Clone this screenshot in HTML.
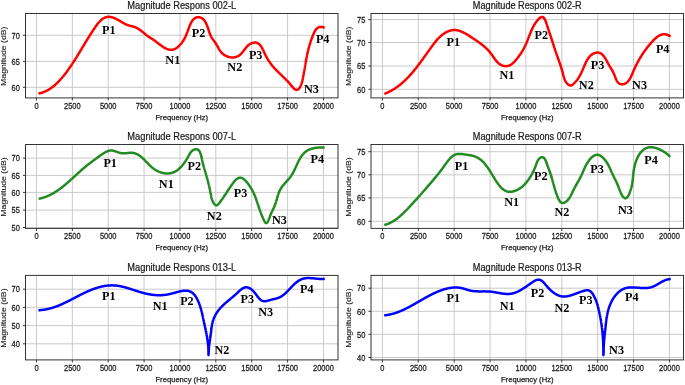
<!DOCTYPE html><html><head><meta charset="utf-8"><style>html,body{margin:0;padding:0;background:#fff;}svg{display:block;will-change:transform;}</style></head><body>
<style>.tk{font-family:"Liberation Sans",sans-serif;font-size:8.6px;fill:#1a1a1a;stroke:#1a1a1a;stroke-width:0.25px;}.ti{font-family:"Liberation Sans",sans-serif;font-size:10.0px;fill:#1a1a1a;stroke:#1a1a1a;stroke-width:0.22px;}.xl{font-family:"Liberation Sans",sans-serif;font-size:8.0px;fill:#1a1a1a;stroke:#1a1a1a;stroke-width:0.25px;}.yl{font-family:"Liberation Sans",sans-serif;font-size:7.6px;fill:#1a1a1a;stroke:#1a1a1a;stroke-width:0.1px;}.lb{font-family:"Liberation Serif",serif;font-weight:bold;font-size:12.2px;fill:#000;}</style>
<svg xmlns="http://www.w3.org/2000/svg" width="685" height="385" viewBox="0 0 685 385">
<rect width="685" height="385" fill="#ffffff"/>
<path d="M36.45,13.50V97.90 M72.33,13.50V97.90 M108.20,13.50V97.90 M144.07,13.50V97.90 M179.95,13.50V97.90 M215.82,13.50V97.90 M251.70,13.50V97.90 M287.57,13.50V97.90 M323.45,13.50V97.90 M25.50,87.30H338.00 M25.50,61.40H338.00 M25.50,35.30H338.00" stroke="#c4c4c4" stroke-width="0.9" fill="none"/>
<clipPath id="c0"><rect x="25.50" y="13.50" width="312.50" height="84.40"/></clipPath>
<path d="M39.75,93.30 L40.06,93.23 L40.37,93.15 L40.68,93.07 L40.99,92.98 L41.29,92.90 L41.60,92.81 L41.90,92.71 L42.21,92.61 L42.51,92.51 L42.81,92.41 L43.10,92.30 L43.40,92.19 L43.70,92.08 L43.99,91.96 L44.28,91.85 L44.57,91.72 L44.86,91.60 L45.15,91.47 L45.44,91.34 L45.73,91.21 L46.01,91.07 L46.29,90.93 L46.58,90.79 L46.86,90.65 L47.14,90.50 L47.42,90.35 L47.69,90.20 L47.97,90.04 L48.24,89.89 L48.52,89.73 L48.79,89.56 L49.06,89.40 L49.33,89.23 L49.60,89.06 L49.86,88.89 L50.13,88.72 L50.39,88.54 L50.66,88.36 L50.92,88.18 L51.18,88.00 L51.44,87.81 L51.70,87.63 L51.95,87.44 L52.21,87.25 L52.46,87.05 L52.72,86.86 L52.97,86.66 L53.22,86.46 L53.47,86.26 L53.72,86.06 L53.97,85.85 L54.22,85.64 L54.46,85.44 L54.71,85.23 L54.95,85.01 L55.19,84.80 L55.43,84.59 L55.67,84.37 L55.91,84.15 L56.15,83.93 L56.39,83.71 L56.62,83.49 L56.86,83.26 L57.09,83.04 L57.33,82.81 L57.56,82.58 L57.79,82.35 L58.02,82.12 L58.25,81.89 L58.47,81.65 L58.70,81.42 L58.93,81.18 L59.15,80.95 L59.37,80.71 L59.60,80.47 L59.82,80.23 L60.04,79.99 L60.26,79.75 L60.48,79.50 L60.69,79.26 L60.91,79.01 L61.13,78.77 L61.34,78.52 L61.55,78.28 L61.77,78.03 L61.98,77.78 L62.19,77.53 L62.40,77.28 L62.61,77.03 L62.82,76.78 L63.03,76.53 L63.23,76.27 L63.44,76.02 L63.64,75.77 L63.85,75.51 L64.05,75.26 L64.25,75.00 L64.45,74.75 L64.65,74.49 L64.85,74.24 L65.05,73.98 L65.25,73.73 L65.45,73.47 L65.64,73.22 L65.84,72.96 L66.03,72.70 L66.23,72.45 L66.42,72.19 L66.61,71.93 L66.80,71.68 L66.99,71.42 L67.18,71.16 L67.37,70.90 L67.56,70.65 L67.75,70.39 L67.94,70.13 L68.12,69.88 L68.31,69.62 L68.49,69.36 L68.68,69.10 L68.86,68.84 L69.05,68.59 L69.23,68.33 L69.41,68.07 L69.59,67.81 L69.77,67.55 L69.95,67.29 L70.13,67.03 L70.31,66.77 L70.49,66.52 L70.67,66.26 L70.84,66.00 L71.02,65.74 L71.19,65.48 L71.37,65.22 L71.55,64.96 L71.72,64.70 L71.89,64.44 L72.07,64.18 L72.24,63.92 L72.41,63.65 L72.59,63.39 L72.76,63.13 L72.93,62.87 L73.10,62.61 L73.27,62.35 L73.44,62.09 L73.61,61.83 L73.78,61.56 L73.95,61.30 L74.11,61.04 L74.28,60.78 L74.45,60.52 L74.62,60.25 L74.78,59.99 L74.95,59.73 L75.12,59.46 L75.28,59.20 L75.45,58.94 L75.61,58.67 L75.78,58.41 L75.95,58.15 L76.11,57.88 L76.27,57.62 L76.44,57.35 L76.60,57.09 L76.77,56.83 L76.93,56.56 L77.09,56.30 L77.26,56.03 L77.42,55.77 L77.58,55.50 L77.74,55.23 L77.91,54.97 L78.07,54.70 L78.23,54.44 L78.39,54.17 L78.56,53.90 L78.72,53.64 L78.88,53.37 L79.04,53.10 L79.20,52.84 L79.36,52.57 L79.53,52.30 L79.69,52.03 L79.85,51.77 L80.01,51.50 L80.17,51.23 L80.33,50.96 L80.49,50.69 L80.66,50.42 L80.82,50.15 L80.98,49.89 L81.14,49.62 L81.30,49.35 L81.46,49.08 L81.62,48.81 L81.79,48.54 L81.95,48.27 L82.11,48.00 L82.27,47.73 L82.43,47.46 L82.60,47.18 L82.76,46.91 L82.92,46.64 L83.08,46.37 L83.25,46.10 L83.41,45.83 L83.57,45.55 L83.74,45.28 L83.90,45.01 L84.06,44.74 L84.23,44.46 L84.39,44.19 L84.56,43.92 L84.72,43.64 L84.89,43.37 L85.05,43.10 L85.22,42.82 L85.38,42.55 L85.55,42.27 L85.72,42.00 L85.88,41.72 L86.05,41.45 L86.22,41.17 L86.39,40.90 L86.55,40.62 L86.72,40.34 L86.89,40.07 L87.06,39.79 L87.23,39.52 L87.40,39.24 L87.57,38.96 L87.74,38.68 L87.91,38.41 L88.09,38.13 L88.26,37.85 L88.43,37.57 L88.60,37.29 L88.78,37.01 L88.95,36.74 L89.13,36.46 L89.30,36.18 L89.48,35.90 L89.65,35.62 L89.83,35.34 L90.01,35.06 L90.19,34.78 L90.37,34.50 L90.54,34.21 L90.72,33.93 L90.90,33.65 L91.09,33.37 L91.27,33.09 L91.45,32.81 L91.63,32.52 L91.82,32.24 L92.00,31.96 L92.18,31.67 L92.37,31.39 L92.56,31.11 L92.74,30.82 L92.93,30.54 L93.12,30.26 L93.31,29.97 L93.50,29.69 L93.69,29.40 L93.88,29.12 L94.07,28.83 L94.26,28.54 L94.46,28.26 L94.65,27.97 L94.85,27.69 L95.04,27.40 L95.24,27.12 L95.44,26.84 L95.64,26.55 L95.84,26.27 L96.04,25.99 L96.24,25.71 L96.44,25.44 L96.65,25.16 L96.85,24.89 L97.06,24.62 L97.27,24.35 L97.48,24.08 L97.69,23.82 L97.90,23.56 L98.11,23.30 L98.32,23.04 L98.54,22.79 L98.76,22.54 L98.97,22.29 L99.19,22.05 L99.41,21.81 L99.64,21.57 L99.86,21.34 L100.09,21.11 L100.31,20.89 L100.54,20.67 L100.77,20.45 L101.00,20.24 L101.24,20.03 L101.47,19.83 L101.71,19.64 L101.95,19.45 L102.19,19.26 L102.43,19.08 L102.67,18.91 L102.92,18.74 L103.16,18.58 L103.41,18.42 L103.66,18.28 L103.92,18.13 L104.17,18.00 L104.43,17.87 L104.69,17.74 L104.95,17.63 L105.21,17.52 L105.48,17.42 L105.74,17.32 L106.01,17.24 L106.29,17.16 L106.56,17.09 L106.83,17.03 L107.11,16.97 L107.39,16.92 L107.68,16.89 L107.96,16.86 L108.25,16.84 L108.54,16.83 L108.83,16.83 L109.12,16.83 L109.42,16.85 L109.72,16.87 L110.02,16.91 L110.32,16.95 L110.62,17.00 L110.93,17.05 L111.24,17.12 L111.54,17.19 L111.85,17.26 L112.16,17.35 L112.47,17.44 L112.77,17.53 L113.08,17.63 L113.39,17.74 L113.70,17.85 L114.01,17.97 L114.31,18.09 L114.62,18.22 L114.92,18.34 L115.23,18.48 L115.53,18.61 L115.83,18.75 L116.12,18.90 L116.42,19.04 L116.71,19.19 L117.01,19.34 L117.30,19.49 L117.58,19.65 L117.87,19.80 L118.15,19.96 L118.44,20.12 L118.72,20.28 L119.00,20.44 L119.28,20.60 L119.56,20.76 L119.83,20.92 L120.11,21.09 L120.38,21.25 L120.66,21.41 L120.93,21.58 L121.20,21.74 L121.47,21.90 L121.75,22.06 L122.02,22.23 L122.29,22.39 L122.56,22.54 L122.83,22.70 L123.11,22.86 L123.38,23.01 L123.65,23.17 L123.92,23.32 L124.20,23.47 L124.47,23.61 L124.75,23.76 L125.03,23.90 L125.30,24.04 L125.58,24.17 L125.86,24.31 L126.14,24.43 L126.43,24.56 L126.71,24.68 L127.00,24.80 L127.28,24.92 L127.57,25.03 L127.87,25.13 L128.16,25.23 L128.46,25.33 L128.75,25.42 L129.05,25.51 L129.35,25.60 L129.66,25.69 L129.96,25.77 L130.26,25.85 L130.57,25.93 L130.88,26.01 L131.18,26.08 L131.49,26.16 L131.80,26.24 L132.11,26.32 L132.41,26.40 L132.72,26.48 L133.03,26.56 L133.33,26.65 L133.64,26.74 L133.94,26.83 L134.25,26.93 L134.55,27.02 L134.85,27.13 L135.15,27.24 L135.45,27.35 L135.74,27.47 L136.04,27.60 L136.33,27.73 L136.62,27.87 L136.91,28.01 L137.19,28.16 L137.48,28.31 L137.76,28.47 L138.04,28.63 L138.32,28.80 L138.60,28.97 L138.87,29.15 L139.15,29.33 L139.42,29.51 L139.69,29.70 L139.96,29.89 L140.23,30.08 L140.50,30.28 L140.76,30.48 L141.03,30.68 L141.29,30.88 L141.55,31.09 L141.81,31.29 L142.07,31.50 L142.33,31.71 L142.59,31.92 L142.85,32.13 L143.10,32.34 L143.36,32.55 L143.61,32.76 L143.86,32.97 L144.12,33.19 L144.37,33.40 L144.62,33.61 L144.87,33.81 L145.12,34.02 L145.37,34.23 L145.62,34.43 L145.87,34.63 L146.11,34.83 L146.36,35.03 L146.61,35.23 L146.86,35.42 L147.10,35.61 L147.35,35.80 L147.60,35.98 L147.84,36.16 L148.09,36.34 L148.34,36.51 L148.58,36.68 L148.83,36.84 L149.08,37.01 L149.32,37.17 L149.57,37.33 L149.82,37.49 L150.06,37.65 L150.31,37.80 L150.56,37.96 L150.81,38.12 L151.06,38.27 L151.31,38.43 L151.56,38.59 L151.81,38.74 L152.06,38.90 L152.32,39.06 L152.57,39.23 L152.83,39.39 L153.08,39.56 L153.34,39.73 L153.59,39.90 L153.85,40.08 L154.11,40.25 L154.37,40.44 L154.64,40.62 L154.90,40.81 L155.16,41.01 L155.43,41.20 L155.69,41.40 L155.96,41.60 L156.23,41.81 L156.50,42.01 L156.77,42.22 L157.04,42.43 L157.31,42.64 L157.58,42.85 L157.86,43.06 L158.13,43.27 L158.40,43.48 L158.68,43.69 L158.96,43.91 L159.23,44.12 L159.51,44.33 L159.79,44.54 L160.07,44.75 L160.35,44.96 L160.63,45.17 L160.91,45.38 L161.19,45.58 L161.47,45.78 L161.75,45.98 L162.04,46.18 L162.32,46.38 L162.60,46.57 L162.89,46.76 L163.17,46.94 L163.45,47.13 L163.74,47.30 L164.02,47.48 L164.31,47.65 L164.59,47.81 L164.88,47.97 L165.17,48.13 L165.45,48.28 L165.74,48.43 L166.02,48.57 L166.31,48.70 L166.60,48.83 L166.88,48.95 L167.17,49.06 L167.46,49.17 L167.74,49.27 L168.03,49.37 L168.31,49.46 L168.60,49.54 L168.89,49.61 L169.17,49.67 L169.46,49.73 L169.74,49.77 L170.03,49.81 L170.31,49.84 L170.60,49.86 L170.88,49.87 L171.17,49.87 L171.45,49.87 L171.73,49.85 L172.01,49.82 L172.30,49.78 L172.58,49.73 L172.86,49.67 L173.14,49.60 L173.42,49.52 L173.70,49.43 L173.98,49.33 L174.25,49.22 L174.53,49.10 L174.81,48.97 L175.08,48.83 L175.35,48.69 L175.62,48.54 L175.89,48.38 L176.16,48.21 L176.43,48.04 L176.69,47.85 L176.95,47.67 L177.21,47.47 L177.47,47.27 L177.73,47.06 L177.98,46.85 L178.23,46.64 L178.48,46.41 L178.73,46.19 L178.97,45.96 L179.22,45.72 L179.45,45.48 L179.69,45.24 L179.92,44.99 L180.15,44.74 L180.38,44.49 L180.60,44.23 L180.82,43.98 L181.04,43.72 L181.25,43.46 L181.46,43.19 L181.67,42.93 L181.87,42.66 L182.07,42.40 L182.26,42.13 L182.45,41.87 L182.64,41.60 L182.82,41.33 L183.00,41.07 L183.17,40.80 L183.34,40.54 L183.50,40.27 L183.67,40.01 L183.83,39.74 L183.98,39.48 L184.13,39.21 L184.28,38.95 L184.43,38.68 L184.57,38.42 L184.71,38.15 L184.85,37.88 L184.98,37.61 L185.12,37.34 L185.25,37.07 L185.38,36.80 L185.50,36.53 L185.63,36.26 L185.75,35.98 L185.87,35.71 L185.99,35.43 L186.11,35.15 L186.23,34.87 L186.35,34.59 L186.46,34.31 L186.58,34.02 L186.69,33.74 L186.81,33.45 L186.92,33.16 L187.03,32.86 L187.15,32.57 L187.26,32.27 L187.37,31.97 L187.48,31.67 L187.60,31.37 L187.71,31.06 L187.83,30.75 L187.94,30.44 L188.06,30.13 L188.17,29.81 L188.29,29.49 L188.41,29.17 L188.53,28.84 L188.65,28.51 L188.78,28.18 L188.90,27.85 L189.03,27.51 L189.16,27.17 L189.29,26.84 L189.42,26.50 L189.56,26.16 L189.70,25.82 L189.84,25.49 L189.98,25.15 L190.12,24.81 L190.27,24.48 L190.42,24.15 L190.57,23.83 L190.73,23.50 L190.89,23.18 L191.05,22.86 L191.22,22.55 L191.38,22.25 L191.56,21.94 L191.73,21.65 L191.91,21.36 L192.10,21.07 L192.28,20.80 L192.47,20.53 L192.67,20.27 L192.87,20.01 L193.07,19.77 L193.28,19.53 L193.49,19.30 L193.71,19.09 L193.93,18.88 L194.16,18.69 L194.39,18.50 L194.62,18.33 L194.86,18.16 L195.11,18.01 L195.36,17.88 L195.62,17.75 L195.88,17.64 L196.15,17.54 L196.42,17.46 L196.69,17.39 L196.97,17.33 L197.25,17.28 L197.53,17.24 L197.81,17.22 L198.09,17.21 L198.38,17.21 L198.66,17.22 L198.95,17.24 L199.23,17.28 L199.51,17.32 L199.79,17.38 L200.07,17.44 L200.34,17.52 L200.62,17.61 L200.88,17.70 L201.15,17.81 L201.40,17.93 L201.66,18.06 L201.90,18.19 L202.14,18.34 L202.38,18.50 L202.61,18.66 L202.83,18.83 L203.05,19.02 L203.26,19.21 L203.47,19.41 L203.67,19.61 L203.86,19.83 L204.06,20.05 L204.24,20.28 L204.43,20.51 L204.60,20.75 L204.78,21.00 L204.95,21.26 L205.11,21.52 L205.28,21.79 L205.43,22.06 L205.59,22.34 L205.74,22.62 L205.89,22.91 L206.03,23.20 L206.18,23.50 L206.31,23.80 L206.45,24.11 L206.58,24.42 L206.72,24.73 L206.85,25.04 L206.97,25.36 L207.10,25.69 L207.22,26.01 L207.34,26.34 L207.46,26.67 L207.58,27.00 L207.70,27.33 L207.82,27.67 L207.93,28.00 L208.05,28.34 L208.16,28.68 L208.27,29.02 L208.39,29.36 L208.50,29.70 L208.61,30.04 L208.73,30.38 L208.84,30.71 L208.95,31.05 L209.07,31.39 L209.18,31.73 L209.30,32.06 L209.41,32.39 L209.53,32.72 L209.65,33.05 L209.77,33.38 L209.89,33.70 L210.02,34.02 L210.14,34.34 L210.27,34.66 L210.40,34.97 L210.53,35.28 L210.66,35.58 L210.80,35.88 L210.94,36.18 L211.08,36.47 L211.22,36.75 L211.37,37.04 L211.52,37.31 L211.67,37.58 L211.83,37.85 L211.99,38.11 L212.16,38.36 L212.32,38.61 L212.49,38.86 L212.66,39.11 L212.83,39.35 L213.01,39.59 L213.18,39.83 L213.36,40.06 L213.54,40.30 L213.72,40.53 L213.90,40.77 L214.07,41.00 L214.25,41.23 L214.43,41.47 L214.61,41.71 L214.79,41.95 L214.96,42.19 L215.14,42.44 L215.31,42.69 L215.48,42.94 L215.65,43.19 L215.82,43.45 L215.98,43.72 L216.15,43.99 L216.31,44.26 L216.47,44.53 L216.63,44.81 L216.79,45.09 L216.95,45.37 L217.11,45.66 L217.26,45.95 L217.42,46.23 L217.58,46.52 L217.74,46.81 L217.90,47.10 L218.06,47.39 L218.22,47.68 L218.38,47.97 L218.55,48.26 L218.71,48.55 L218.88,48.84 L219.05,49.13 L219.23,49.41 L219.40,49.69 L219.58,49.98 L219.76,50.25 L219.94,50.53 L220.13,50.80 L220.32,51.07 L220.52,51.34 L220.72,51.60 L220.92,51.85 L221.13,52.11 L221.34,52.35 L221.56,52.60 L221.78,52.84 L222.01,53.07 L222.25,53.29 L222.48,53.52 L222.73,53.73 L222.97,53.94 L223.22,54.15 L223.48,54.34 L223.74,54.54 L224.00,54.72 L224.27,54.91 L224.54,55.08 L224.81,55.25 L225.09,55.41 L225.37,55.57 L225.66,55.72 L225.94,55.87 L226.23,56.01 L226.52,56.14 L226.82,56.27 L227.11,56.39 L227.41,56.50 L227.71,56.61 L228.01,56.71 L228.31,56.81 L228.62,56.90 L228.92,56.98 L229.23,57.05 L229.54,57.12 L229.85,57.19 L230.16,57.24 L230.47,57.29 L230.78,57.33 L231.09,57.37 L231.40,57.40 L231.71,57.42 L232.02,57.43 L232.33,57.44 L232.64,57.44 L232.94,57.43 L233.25,57.42 L233.56,57.40 L233.86,57.37 L234.17,57.33 L234.47,57.29 L234.77,57.24 L235.07,57.18 L235.37,57.12 L235.66,57.04 L235.95,56.96 L236.25,56.88 L236.53,56.78 L236.82,56.68 L237.10,56.57 L237.38,56.45 L237.66,56.32 L237.93,56.19 L238.20,56.05 L238.46,55.90 L238.72,55.74 L238.98,55.57 L239.24,55.40 L239.49,55.22 L239.73,55.03 L239.97,54.83 L240.21,54.63 L240.44,54.41 L240.68,54.20 L240.90,53.97 L241.13,53.74 L241.35,53.51 L241.57,53.27 L241.79,53.02 L242.00,52.78 L242.22,52.52 L242.43,52.27 L242.64,52.01 L242.85,51.74 L243.06,51.48 L243.27,51.21 L243.48,50.94 L243.68,50.67 L243.89,50.40 L244.10,50.13 L244.30,49.86 L244.51,49.58 L244.72,49.31 L244.93,49.04 L245.14,48.77 L245.35,48.50 L245.56,48.23 L245.78,47.97 L245.99,47.70 L246.21,47.44 L246.43,47.18 L246.66,46.93 L246.88,46.68 L247.11,46.43 L247.34,46.19 L247.58,45.96 L247.82,45.73 L248.06,45.50 L248.31,45.28 L248.56,45.07 L248.82,44.86 L249.08,44.66 L249.34,44.47 L249.61,44.29 L249.89,44.11 L250.17,43.94 L250.45,43.78 L250.74,43.63 L251.04,43.49 L251.34,43.36 L251.64,43.24 L251.94,43.12 L252.25,43.02 L252.56,42.93 L252.86,42.85 L253.17,42.77 L253.48,42.71 L253.79,42.66 L254.09,42.62 L254.40,42.60 L254.70,42.58 L255.00,42.57 L255.29,42.58 L255.59,42.60 L255.87,42.63 L256.16,42.67 L256.43,42.73 L256.70,42.80 L256.97,42.88 L257.22,42.97 L257.48,43.08 L257.73,43.20 L257.97,43.32 L258.20,43.46 L258.44,43.61 L258.66,43.77 L258.89,43.94 L259.10,44.12 L259.32,44.31 L259.53,44.50 L259.73,44.71 L259.93,44.92 L260.13,45.15 L260.32,45.38 L260.51,45.61 L260.70,45.86 L260.88,46.11 L261.06,46.36 L261.23,46.63 L261.41,46.89 L261.58,47.17 L261.75,47.45 L261.91,47.73 L262.08,48.02 L262.24,48.31 L262.40,48.61 L262.55,48.91 L262.71,49.21 L262.86,49.52 L263.02,49.82 L263.17,50.13 L263.32,50.45 L263.47,50.76 L263.62,51.08 L263.76,51.39 L263.91,51.71 L264.06,52.03 L264.20,52.34 L264.35,52.66 L264.50,52.98 L264.64,53.29 L264.79,53.60 L264.94,53.92 L265.08,54.23 L265.23,54.53 L265.38,54.84 L265.53,55.14 L265.68,55.45 L265.83,55.74 L265.99,56.04 L266.14,56.34 L266.29,56.63 L266.45,56.92 L266.60,57.21 L266.76,57.50 L266.92,57.78 L267.08,58.07 L267.23,58.35 L267.40,58.63 L267.56,58.91 L267.72,59.18 L267.88,59.46 L268.05,59.73 L268.21,60.00 L268.38,60.27 L268.55,60.54 L268.71,60.80 L268.88,61.06 L269.06,61.33 L269.23,61.59 L269.40,61.85 L269.58,62.10 L269.75,62.36 L269.93,62.61 L270.11,62.87 L270.29,63.12 L270.47,63.37 L270.65,63.62 L270.84,63.86 L271.02,64.11 L271.21,64.35 L271.40,64.60 L271.58,64.84 L271.78,65.08 L271.97,65.32 L272.16,65.56 L272.36,65.79 L272.55,66.03 L272.75,66.26 L272.95,66.50 L273.15,66.73 L273.35,66.96 L273.56,67.19 L273.76,67.42 L273.97,67.65 L274.17,67.88 L274.38,68.10 L274.59,68.33 L274.80,68.56 L275.01,68.78 L275.23,69.00 L275.44,69.23 L275.65,69.45 L275.87,69.67 L276.09,69.90 L276.30,70.12 L276.52,70.34 L276.74,70.56 L276.96,70.78 L277.18,71.00 L277.40,71.22 L277.62,71.44 L277.85,71.66 L278.07,71.88 L278.29,72.10 L278.52,72.32 L278.74,72.54 L278.97,72.75 L279.20,72.97 L279.43,73.19 L279.65,73.41 L279.88,73.63 L280.11,73.85 L280.34,74.07 L280.57,74.29 L280.80,74.51 L281.03,74.73 L281.26,74.95 L281.49,75.18 L281.72,75.40 L281.95,75.62 L282.19,75.84 L282.42,76.07 L282.65,76.29 L282.88,76.52 L283.11,76.74 L283.35,76.97 L283.58,77.20 L283.81,77.42 L284.05,77.65 L284.28,77.88 L284.51,78.11 L284.74,78.35 L284.98,78.58 L285.21,78.81 L285.44,79.05 L285.67,79.28 L285.90,79.52 L286.14,79.76 L286.37,80.00 L286.60,80.24 L286.83,80.48 L287.06,80.73 L287.29,80.97 L287.52,81.22 L287.75,81.47 L287.98,81.72 L288.21,81.97 L288.43,82.22 L288.66,82.47 L288.89,82.73 L289.12,82.99 L289.34,83.25 L289.57,83.51 L289.79,83.77 L290.02,84.03 L290.24,84.30 L290.46,84.57 L290.68,84.84 L290.90,85.11 L291.12,85.38 L291.34,85.64 L291.56,85.91 L291.78,86.17 L292.00,86.43 L292.22,86.69 L292.43,86.94 L292.65,87.18 L292.87,87.42 L293.08,87.65 L293.29,87.88 L293.51,88.09 L293.72,88.30 L293.93,88.50 L294.14,88.69 L294.36,88.87 L294.57,89.03 L294.78,89.19 L294.99,89.33 L295.20,89.45 L295.40,89.56 L295.61,89.66 L295.82,89.74 L296.03,89.81 L296.23,89.86 L296.44,89.89 L296.65,89.90 L296.85,89.89 L297.05,89.87 L297.26,89.82 L297.46,89.75 L297.67,89.66 L297.87,89.54 L298.07,89.41 L298.27,89.25 L298.47,89.07 L298.67,88.87 L298.87,88.65 L299.07,88.41 L299.26,88.16 L299.45,87.89 L299.63,87.61 L299.81,87.33 L299.99,87.03 L300.16,86.72 L300.33,86.41 L300.49,86.10 L300.64,85.79 L300.79,85.47 L300.93,85.15 L301.06,84.83 L301.19,84.51 L301.31,84.18 L301.43,83.86 L301.54,83.53 L301.65,83.20 L301.75,82.87 L301.85,82.55 L301.95,82.21 L302.04,81.88 L302.13,81.55 L302.21,81.22 L302.29,80.89 L302.37,80.55 L302.45,80.22 L302.52,79.89 L302.59,79.55 L302.66,79.22 L302.73,78.88 L302.79,78.55 L302.86,78.22 L302.92,77.88 L302.99,77.55 L303.05,77.22 L303.12,76.89 L303.18,76.56 L303.24,76.23 L303.30,75.90 L303.36,75.57 L303.42,75.24 L303.49,74.91 L303.55,74.58 L303.61,74.25 L303.67,73.92 L303.72,73.60 L303.78,73.27 L303.84,72.94 L303.90,72.62 L303.96,72.29 L304.02,71.97 L304.07,71.64 L304.13,71.32 L304.19,70.99 L304.24,70.67 L304.30,70.35 L304.36,70.02 L304.41,69.70 L304.47,69.38 L304.53,69.06 L304.58,68.74 L304.64,68.42 L304.69,68.10 L304.75,67.78 L304.80,67.46 L304.86,67.14 L304.91,66.82 L304.97,66.50 L305.02,66.18 L305.08,65.87 L305.14,65.55 L305.19,65.23 L305.25,64.91 L305.30,64.60 L305.36,64.28 L305.41,63.97 L305.47,63.65 L305.52,63.34 L305.58,63.02 L305.64,62.71 L305.69,62.39 L305.75,62.08 L305.80,61.77 L305.86,61.45 L305.92,61.14 L305.98,60.83 L306.03,60.51 L306.09,60.20 L306.15,59.89 L306.21,59.58 L306.26,59.27 L306.32,58.96 L306.38,58.65 L306.44,58.34 L306.50,58.03 L306.56,57.72 L306.62,57.41 L306.68,57.10 L306.74,56.79 L306.81,56.48 L306.87,56.17 L306.93,55.86 L306.99,55.55 L307.06,55.25 L307.12,54.94 L307.18,54.63 L307.25,54.32 L307.31,54.02 L307.38,53.71 L307.45,53.40 L307.51,53.10 L307.58,52.79 L307.65,52.49 L307.72,52.18 L307.79,51.87 L307.86,51.57 L307.93,51.26 L308.00,50.96 L308.07,50.65 L308.15,50.35 L308.22,50.05 L308.29,49.74 L308.37,49.44 L308.44,49.13 L308.52,48.83 L308.60,48.53 L308.68,48.22 L308.75,47.92 L308.83,47.62 L308.91,47.31 L309.00,47.01 L309.08,46.71 L309.16,46.40 L309.24,46.10 L309.33,45.80 L309.41,45.50 L309.50,45.19 L309.59,44.89 L309.68,44.59 L309.77,44.29 L309.86,43.99 L309.95,43.69 L310.04,43.38 L310.13,43.08 L310.23,42.78 L310.32,42.48 L310.42,42.18 L310.52,41.88 L310.62,41.58 L310.72,41.27 L310.82,40.97 L310.92,40.67 L311.02,40.37 L311.13,40.07 L311.23,39.77 L311.34,39.47 L311.45,39.17 L311.56,38.87 L311.67,38.57 L311.78,38.27 L311.89,37.97 L312.01,37.67 L312.12,37.37 L312.24,37.07 L312.36,36.77 L312.48,36.47 L312.60,36.16 L312.72,35.86 L312.84,35.56 L312.97,35.26 L313.09,34.96 L313.22,34.66 L313.35,34.36 L313.48,34.06 L313.61,33.76 L313.75,33.46 L313.88,33.16 L314.02,32.86 L314.16,32.57 L314.30,32.28 L314.45,31.98 L314.59,31.70 L314.75,31.41 L314.90,31.13 L315.06,30.86 L315.22,30.59 L315.39,30.32 L315.56,30.07 L315.74,29.82 L315.92,29.57 L316.10,29.34 L316.30,29.11 L316.49,28.89 L316.70,28.68 L316.91,28.47 L317.12,28.28 L317.34,28.10 L317.57,27.93 L317.81,27.77 L318.05,27.62 L318.30,27.49 L318.56,27.37 L318.82,27.26 L319.10,27.16 L319.38,27.08 L319.67,27.02 L319.97,26.97 L320.28,26.93 L320.59,26.91 L320.92,26.91 L321.26,26.93 L321.61,26.96 L321.96,27.01 L322.33,27.08 L322.71,27.17 L323.10,27.28 L323.50,27.40" stroke="#ff0000" stroke-width="2.5" fill="none" stroke-linecap="square" stroke-linejoin="round" clip-path="url(#c0)"/>
<rect x="25.50" y="13.50" width="312.50" height="84.40" fill="none" stroke="#333333" stroke-width="1.0"/>
<path d="M36.45,97.90v2.6 M72.33,97.90v2.6 M108.20,97.90v2.6 M144.07,97.90v2.6 M179.95,97.90v2.6 M215.82,97.90v2.6 M251.70,97.90v2.6 M287.57,97.90v2.6 M323.45,97.90v2.6 M25.50,87.30h-2.6 M25.50,61.40h-2.6 M25.50,35.30h-2.6" stroke="#262626" stroke-width="0.9" fill="none"/>
<text transform="translate(36.45,108.70) scale(0.87,1)" class="tk" text-anchor="middle">0</text>
<text transform="translate(72.33,108.70) scale(0.87,1)" class="tk" text-anchor="middle">2500</text>
<text transform="translate(108.20,108.70) scale(0.87,1)" class="tk" text-anchor="middle">5000</text>
<text transform="translate(144.07,108.70) scale(0.87,1)" class="tk" text-anchor="middle">7500</text>
<text transform="translate(179.95,108.70) scale(0.87,1)" class="tk" text-anchor="middle">10000</text>
<text transform="translate(215.82,108.70) scale(0.87,1)" class="tk" text-anchor="middle">12500</text>
<text transform="translate(251.70,108.70) scale(0.87,1)" class="tk" text-anchor="middle">15000</text>
<text transform="translate(287.57,108.70) scale(0.87,1)" class="tk" text-anchor="middle">17500</text>
<text transform="translate(323.45,108.70) scale(0.87,1)" class="tk" text-anchor="middle">20000</text>
<text transform="translate(19.90,90.50) scale(0.87,1)" class="tk" text-anchor="end">60</text>
<text transform="translate(19.90,64.60) scale(0.87,1)" class="tk" text-anchor="end">65</text>
<text transform="translate(19.90,38.50) scale(0.87,1)" class="tk" text-anchor="end">70</text>
<text x="181.75" y="8.80" class="ti" text-anchor="middle" textLength="108.80" lengthAdjust="spacingAndGlyphs">Magnitude Respons 002-L</text>
<text x="181.75" y="119.70" class="xl" text-anchor="middle" textLength="52.60" lengthAdjust="spacingAndGlyphs">Frequency (Hz)</text>
<text transform="translate(5.90,56.20) rotate(-90)" class="yl" text-anchor="middle" textLength="59.40" lengthAdjust="spacingAndGlyphs">Magnitude (dB)</text>
<text x="108.75" y="33.90" class="lb" text-anchor="middle">P1</text>
<text x="172.80" y="63.90" class="lb" text-anchor="middle">N1</text>
<text x="198.60" y="36.90" class="lb" text-anchor="middle">P2</text>
<text x="234.80" y="70.80" class="lb" text-anchor="middle">N2</text>
<text x="255.70" y="59.10" class="lb" text-anchor="middle">P3</text>
<text x="311.40" y="92.80" class="lb" text-anchor="middle">N3</text>
<text x="322.70" y="43.00" class="lb" text-anchor="middle">P4</text>
<path d="M382.40,13.50V97.90 M418.28,13.50V97.90 M454.16,13.50V97.90 M490.04,13.50V97.90 M525.92,13.50V97.90 M561.81,13.50V97.90 M597.69,13.50V97.90 M633.57,13.50V97.90 M669.45,13.50V97.90 M371.00,89.30H683.50 M371.00,66.00H683.50 M371.00,42.50H683.50 M371.00,19.60H683.50" stroke="#c4c4c4" stroke-width="0.9" fill="none"/>
<clipPath id="c1"><rect x="371.00" y="13.50" width="312.50" height="84.40"/></clipPath>
<path d="M385.44,93.46 L385.75,93.33 L386.06,93.20 L386.37,93.06 L386.68,92.93 L386.98,92.79 L387.29,92.65 L387.59,92.51 L387.90,92.37 L388.20,92.23 L388.50,92.09 L388.79,91.94 L389.09,91.79 L389.39,91.65 L389.68,91.49 L389.98,91.34 L390.27,91.19 L390.56,91.03 L390.85,90.88 L391.14,90.72 L391.43,90.56 L391.71,90.40 L392.00,90.24 L392.28,90.07 L392.56,89.91 L392.85,89.74 L393.13,89.57 L393.41,89.40 L393.68,89.23 L393.96,89.06 L394.24,88.89 L394.51,88.71 L394.79,88.54 L395.06,88.36 L395.33,88.18 L395.60,88.00 L395.87,87.82 L396.14,87.63 L396.41,87.45 L396.67,87.26 L396.94,87.08 L397.20,86.89 L397.47,86.70 L397.73,86.51 L397.99,86.32 L398.25,86.12 L398.51,85.93 L398.77,85.73 L399.02,85.54 L399.28,85.34 L399.54,85.14 L399.79,84.94 L400.04,84.74 L400.30,84.53 L400.55,84.33 L400.80,84.12 L401.05,83.92 L401.30,83.71 L401.55,83.50 L401.79,83.29 L402.04,83.08 L402.28,82.87 L402.53,82.66 L402.77,82.44 L403.01,82.23 L403.26,82.01 L403.50,81.79 L403.74,81.58 L403.98,81.36 L404.22,81.14 L404.45,80.91 L404.69,80.69 L404.93,80.47 L405.16,80.24 L405.40,80.02 L405.63,79.79 L405.86,79.57 L406.09,79.34 L406.33,79.11 L406.56,78.88 L406.79,78.65 L407.02,78.42 L407.24,78.18 L407.47,77.95 L407.70,77.72 L407.93,77.48 L408.15,77.25 L408.38,77.01 L408.60,76.77 L408.83,76.53 L409.05,76.29 L409.27,76.05 L409.49,75.81 L409.71,75.57 L409.93,75.33 L410.15,75.08 L410.37,74.84 L410.59,74.60 L410.81,74.35 L411.03,74.10 L411.24,73.86 L411.46,73.61 L411.68,73.36 L411.89,73.11 L412.11,72.86 L412.32,72.61 L412.53,72.36 L412.75,72.11 L412.96,71.86 L413.17,71.60 L413.38,71.35 L413.59,71.10 L413.80,70.84 L414.01,70.59 L414.22,70.33 L414.43,70.07 L414.64,69.82 L414.85,69.56 L415.06,69.30 L415.26,69.04 L415.47,68.78 L415.68,68.52 L415.88,68.26 L416.09,68.00 L416.29,67.74 L416.50,67.48 L416.70,67.22 L416.90,66.96 L417.11,66.69 L417.31,66.43 L417.51,66.17 L417.72,65.90 L417.92,65.64 L418.12,65.37 L418.32,65.11 L418.52,64.84 L418.72,64.57 L418.92,64.31 L419.12,64.04 L419.32,63.77 L419.52,63.50 L419.72,63.24 L419.92,62.97 L420.12,62.70 L420.32,62.43 L420.52,62.16 L420.72,61.89 L420.91,61.62 L421.11,61.35 L421.31,61.08 L421.51,60.81 L421.70,60.54 L421.90,60.27 L422.10,60.00 L422.29,59.73 L422.49,59.46 L422.68,59.18 L422.88,58.91 L423.08,58.64 L423.27,58.37 L423.47,58.10 L423.66,57.82 L423.86,57.55 L424.05,57.28 L424.25,57.01 L424.44,56.73 L424.64,56.46 L424.83,56.19 L425.03,55.91 L425.22,55.64 L425.42,55.37 L425.61,55.09 L425.80,54.82 L426.00,54.55 L426.19,54.27 L426.39,54.00 L426.58,53.73 L426.78,53.45 L426.97,53.18 L427.16,52.91 L427.36,52.64 L427.55,52.36 L427.75,52.09 L427.94,51.82 L428.14,51.54 L428.33,51.27 L428.53,51.00 L428.72,50.73 L428.91,50.45 L429.11,50.18 L429.30,49.91 L429.50,49.64 L429.69,49.37 L429.89,49.09 L430.09,48.82 L430.28,48.55 L430.48,48.28 L430.67,48.01 L430.87,47.74 L431.06,47.47 L431.26,47.20 L431.46,46.93 L431.65,46.66 L431.85,46.39 L432.05,46.12 L432.24,45.85 L432.44,45.59 L432.64,45.32 L432.84,45.05 L433.04,44.78 L433.24,44.52 L433.44,44.25 L433.64,43.99 L433.84,43.73 L434.04,43.46 L434.25,43.20 L434.45,42.94 L434.65,42.68 L434.86,42.42 L435.07,42.17 L435.27,41.91 L435.48,41.65 L435.69,41.40 L435.90,41.15 L436.11,40.90 L436.32,40.65 L436.54,40.40 L436.75,40.15 L436.97,39.90 L437.18,39.66 L437.40,39.42 L437.62,39.18 L437.84,38.94 L438.07,38.70 L438.29,38.46 L438.52,38.23 L438.74,38.00 L438.97,37.77 L439.20,37.54 L439.43,37.31 L439.67,37.09 L439.90,36.87 L440.14,36.65 L440.38,36.43 L440.62,36.21 L440.86,36.00 L441.11,35.79 L441.36,35.58 L441.60,35.37 L441.86,35.17 L442.11,34.97 L442.36,34.77 L442.62,34.57 L442.88,34.38 L443.14,34.19 L443.41,34.00 L443.67,33.82 L443.94,33.63 L444.21,33.45 L444.49,33.28 L444.76,33.10 L445.04,32.94 L445.32,32.77 L445.60,32.61 L445.88,32.45 L446.17,32.29 L446.45,32.14 L446.74,32.00 L447.03,31.85 L447.32,31.72 L447.62,31.58 L447.91,31.45 L448.20,31.33 L448.50,31.21 L448.80,31.09 L449.10,30.98 L449.40,30.88 L449.70,30.78 L450.00,30.69 L450.31,30.60 L450.61,30.52 L450.91,30.44 L451.22,30.37 L451.53,30.30 L451.83,30.25 L452.14,30.19 L452.45,30.15 L452.76,30.11 L453.06,30.07 L453.37,30.05 L453.68,30.03 L453.99,30.02 L454.30,30.01 L454.61,30.01 L454.92,30.02 L455.23,30.04 L455.54,30.06 L455.85,30.09 L456.15,30.12 L456.46,30.16 L456.77,30.21 L457.08,30.26 L457.39,30.32 L457.70,30.39 L458.01,30.46 L458.32,30.53 L458.62,30.62 L458.93,30.70 L459.24,30.79 L459.55,30.89 L459.86,30.99 L460.16,31.10 L460.47,31.21 L460.78,31.32 L461.08,31.44 L461.39,31.57 L461.70,31.70 L462.00,31.83 L462.31,31.96 L462.61,32.10 L462.92,32.25 L463.22,32.39 L463.52,32.54 L463.83,32.69 L464.13,32.85 L464.43,33.01 L464.74,33.17 L465.04,33.33 L465.34,33.50 L465.64,33.67 L465.94,33.84 L466.24,34.01 L466.54,34.19 L466.84,34.37 L467.13,34.55 L467.43,34.73 L467.73,34.91 L468.02,35.09 L468.32,35.28 L468.61,35.46 L468.91,35.65 L469.20,35.84 L469.49,36.03 L469.78,36.21 L470.07,36.40 L470.36,36.59 L470.65,36.78 L470.94,36.97 L471.23,37.16 L471.52,37.35 L471.80,37.54 L472.09,37.73 L472.37,37.92 L472.66,38.11 L472.94,38.29 L473.22,38.48 L473.50,38.67 L473.78,38.85 L474.06,39.04 L474.34,39.22 L474.62,39.41 L474.89,39.59 L475.17,39.78 L475.44,39.96 L475.72,40.15 L475.99,40.33 L476.26,40.51 L476.53,40.70 L476.80,40.88 L477.07,41.07 L477.34,41.25 L477.60,41.44 L477.87,41.62 L478.14,41.81 L478.40,41.99 L478.66,42.18 L478.92,42.37 L479.19,42.55 L479.45,42.74 L479.71,42.93 L479.96,43.12 L480.22,43.30 L480.48,43.49 L480.73,43.68 L480.99,43.88 L481.24,44.07 L481.49,44.26 L481.74,44.45 L481.99,44.65 L482.24,44.84 L482.49,45.04 L482.73,45.24 L482.98,45.44 L483.22,45.64 L483.47,45.84 L483.71,46.04 L483.95,46.24 L484.19,46.45 L484.43,46.65 L484.67,46.86 L484.91,47.07 L485.14,47.28 L485.38,47.49 L485.61,47.70 L485.84,47.92 L486.07,48.14 L486.30,48.35 L486.53,48.57 L486.76,48.79 L486.99,49.02 L487.21,49.24 L487.44,49.47 L487.66,49.70 L487.88,49.93 L488.10,50.16 L488.32,50.40 L488.54,50.63 L488.76,50.87 L488.98,51.11 L489.19,51.36 L489.40,51.60 L489.62,51.85 L489.83,52.10 L490.04,52.35 L490.25,52.61 L490.46,52.87 L490.66,53.13 L490.87,53.39 L491.07,53.65 L491.27,53.92 L491.48,54.19 L491.68,54.47 L491.88,54.74 L492.07,55.02 L492.27,55.30 L492.47,55.58 L492.66,55.86 L492.86,56.15 L493.06,56.43 L493.25,56.72 L493.45,57.01 L493.65,57.29 L493.84,57.58 L494.04,57.87 L494.24,58.15 L494.44,58.44 L494.64,58.72 L494.84,59.00 L495.04,59.28 L495.25,59.56 L495.45,59.84 L495.66,60.11 L495.87,60.38 L496.09,60.65 L496.30,60.91 L496.52,61.17 L496.74,61.43 L496.96,61.69 L497.19,61.93 L497.42,62.18 L497.65,62.42 L497.89,62.65 L498.13,62.88 L498.37,63.11 L498.62,63.32 L498.87,63.54 L499.13,63.74 L499.39,63.94 L499.66,64.13 L499.93,64.32 L500.20,64.49 L500.49,64.66 L500.77,64.82 L501.06,64.98 L501.36,65.12 L501.66,65.26 L501.97,65.38 L502.28,65.50 L502.60,65.61 L502.92,65.71 L503.24,65.80 L503.57,65.88 L503.90,65.95 L504.23,66.01 L504.56,66.06 L504.89,66.10 L505.22,66.13 L505.55,66.15 L505.88,66.16 L506.21,66.15 L506.53,66.14 L506.86,66.11 L507.18,66.08 L507.50,66.03 L507.81,65.97 L508.12,65.90 L508.42,65.81 L508.73,65.72 L509.02,65.61 L509.32,65.50 L509.61,65.37 L509.89,65.23 L510.17,65.09 L510.45,64.94 L510.73,64.77 L511.00,64.60 L511.27,64.42 L511.53,64.24 L511.79,64.05 L512.05,63.85 L512.31,63.64 L512.56,63.43 L512.81,63.21 L513.06,62.99 L513.30,62.76 L513.55,62.53 L513.79,62.29 L514.02,62.05 L514.26,61.81 L514.49,61.56 L514.72,61.31 L514.95,61.06 L515.17,60.81 L515.40,60.55 L515.62,60.30 L515.84,60.04 L516.06,59.78 L516.28,59.52 L516.49,59.26 L516.70,59.00 L516.92,58.75 L517.13,58.48 L517.34,58.22 L517.54,57.96 L517.75,57.70 L517.95,57.44 L518.15,57.18 L518.35,56.91 L518.55,56.65 L518.75,56.38 L518.95,56.12 L519.14,55.85 L519.33,55.58 L519.52,55.32 L519.71,55.05 L519.90,54.78 L520.09,54.51 L520.27,54.24 L520.46,53.97 L520.64,53.70 L520.82,53.43 L521.00,53.15 L521.17,52.88 L521.35,52.61 L521.52,52.33 L521.70,52.06 L521.87,51.78 L522.04,51.50 L522.21,51.22 L522.37,50.94 L522.54,50.67 L522.70,50.38 L522.87,50.10 L523.03,49.82 L523.19,49.54 L523.35,49.26 L523.50,48.97 L523.66,48.69 L523.81,48.40 L523.97,48.11 L524.12,47.82 L524.27,47.54 L524.42,47.25 L524.56,46.95 L524.71,46.66 L524.86,46.37 L525.00,46.08 L525.14,45.78 L525.28,45.49 L525.42,45.19 L525.56,44.89 L525.70,44.60 L525.83,44.30 L525.97,44.00 L526.10,43.69 L526.23,43.39 L526.37,43.09 L526.50,42.79 L526.62,42.48 L526.75,42.18 L526.88,41.87 L527.01,41.56 L527.13,41.25 L527.26,40.95 L527.38,40.64 L527.50,40.33 L527.63,40.02 L527.75,39.71 L527.87,39.40 L527.99,39.08 L528.11,38.77 L528.24,38.46 L528.36,38.15 L528.48,37.84 L528.60,37.52 L528.72,37.21 L528.84,36.90 L528.96,36.58 L529.08,36.27 L529.20,35.96 L529.32,35.65 L529.44,35.33 L529.57,35.02 L529.69,34.71 L529.81,34.39 L529.93,34.08 L530.06,33.77 L530.18,33.46 L530.31,33.15 L530.43,32.84 L530.56,32.53 L530.69,32.22 L530.82,31.91 L530.95,31.60 L531.08,31.29 L531.21,30.98 L531.34,30.68 L531.48,30.37 L531.61,30.06 L531.75,29.76 L531.89,29.46 L532.03,29.15 L532.17,28.85 L532.31,28.55 L532.46,28.25 L532.60,27.95 L532.75,27.65 L532.90,27.36 L533.05,27.06 L533.21,26.76 L533.36,26.47 L533.52,26.18 L533.68,25.89 L533.84,25.60 L534.00,25.31 L534.17,25.03 L534.34,24.74 L534.51,24.46 L534.68,24.17 L534.86,23.89 L535.04,23.62 L535.22,23.34 L535.40,23.06 L535.59,22.79 L535.77,22.52 L535.97,22.25 L536.16,21.98 L536.36,21.71 L536.56,21.45 L536.76,21.19 L536.97,20.93 L537.18,20.67 L537.39,20.41 L537.61,20.16 L537.83,19.91 L538.05,19.66 L538.28,19.41 L538.51,19.17 L538.74,18.94 L538.97,18.71 L539.21,18.49 L539.44,18.28 L539.68,18.08 L539.92,17.89 L540.16,17.72 L540.39,17.56 L540.63,17.42 L540.87,17.29 L541.11,17.18 L541.34,17.09 L541.57,17.03 L541.80,16.98 L542.03,16.96 L542.26,16.96 L542.48,16.99 L542.70,17.04 L542.92,17.12 L543.13,17.23 L543.33,17.37 L543.54,17.54 L543.73,17.74 L543.93,17.96 L544.12,18.21 L544.31,18.48 L544.49,18.77 L544.67,19.08 L544.84,19.40 L545.01,19.74 L545.18,20.10 L545.34,20.47 L545.50,20.85 L545.66,21.24 L545.81,21.63 L545.96,22.04 L546.10,22.44 L546.25,22.85 L546.39,23.26 L546.52,23.68 L546.66,24.08 L546.79,24.49 L546.91,24.89 L547.04,25.29 L547.16,25.67 L547.28,26.05 L547.40,26.41 L547.51,26.77 L547.63,27.11 L547.74,27.45 L547.84,27.78 L547.95,28.10 L548.05,28.41 L548.16,28.72 L548.26,29.02 L548.36,29.31 L548.46,29.60 L548.56,29.89 L548.65,30.17 L548.75,30.46 L548.84,30.73 L548.94,31.01 L549.03,31.29 L549.13,31.56 L549.22,31.84 L549.32,32.11 L549.41,32.39 L549.51,32.67 L549.60,32.95 L549.70,33.24 L549.79,33.52 L549.89,33.81 L549.99,34.10 L550.08,34.38 L550.18,34.68 L550.28,34.97 L550.37,35.26 L550.47,35.56 L550.57,35.85 L550.67,36.15 L550.76,36.45 L550.86,36.75 L550.96,37.05 L551.06,37.35 L551.16,37.66 L551.26,37.96 L551.36,38.27 L551.46,38.58 L551.56,38.88 L551.66,39.19 L551.76,39.50 L551.86,39.81 L551.96,40.13 L552.06,40.44 L552.16,40.75 L552.26,41.07 L552.36,41.38 L552.47,41.70 L552.57,42.01 L552.67,42.33 L552.77,42.65 L552.88,42.97 L552.98,43.29 L553.08,43.61 L553.18,43.93 L553.29,44.25 L553.39,44.57 L553.49,44.89 L553.60,45.21 L553.70,45.53 L553.81,45.85 L553.91,46.18 L554.02,46.50 L554.12,46.82 L554.23,47.14 L554.33,47.47 L554.44,47.79 L554.54,48.11 L554.65,48.44 L554.75,48.76 L554.86,49.08 L554.97,49.41 L555.07,49.73 L555.18,50.05 L555.29,50.38 L555.39,50.70 L555.50,51.02 L555.61,51.34 L555.72,51.67 L555.82,51.99 L555.93,52.31 L556.04,52.63 L556.15,52.95 L556.26,53.27 L556.36,53.59 L556.47,53.91 L556.58,54.23 L556.69,54.54 L556.80,54.86 L556.91,55.18 L557.02,55.49 L557.13,55.81 L557.24,56.12 L557.35,56.44 L557.46,56.75 L557.57,57.06 L557.68,57.37 L557.79,57.68 L557.90,57.99 L558.01,58.30 L558.12,58.61 L558.23,58.92 L558.34,59.23 L558.45,59.53 L558.56,59.84 L558.67,60.14 L558.78,60.45 L558.89,60.76 L559.00,61.06 L559.10,61.36 L559.21,61.67 L559.32,61.97 L559.43,62.28 L559.54,62.58 L559.65,62.89 L559.75,63.19 L559.86,63.49 L559.96,63.80 L560.07,64.10 L560.18,64.40 L560.28,64.71 L560.38,65.01 L560.49,65.32 L560.59,65.62 L560.69,65.93 L560.79,66.23 L560.89,66.54 L561.00,66.84 L561.09,67.15 L561.19,67.46 L561.29,67.77 L561.39,68.07 L561.48,68.38 L561.58,68.69 L561.67,69.00 L561.77,69.31 L561.86,69.63 L561.95,69.94 L562.04,70.25 L562.13,70.57 L562.22,70.88 L562.30,71.20 L562.39,71.52 L562.48,71.83 L562.56,72.15 L562.64,72.47 L562.72,72.80 L562.80,73.12 L562.88,73.44 L562.96,73.77 L563.04,74.09 L563.12,74.42 L563.20,74.75 L563.28,75.08 L563.36,75.40 L563.44,75.73 L563.53,76.06 L563.62,76.39 L563.71,76.72 L563.81,77.05 L563.90,77.37 L564.01,77.70 L564.12,78.03 L564.23,78.35 L564.35,78.68 L564.47,79.00 L564.60,79.33 L564.74,79.65 L564.88,79.97 L565.03,80.29 L565.19,80.61 L565.36,80.92 L565.53,81.24 L565.72,81.55 L565.91,81.86 L566.11,82.17 L566.32,82.47 L566.54,82.76 L566.76,83.04 L566.99,83.32 L567.23,83.58 L567.47,83.84 L567.72,84.08 L567.97,84.30 L568.22,84.51 L568.48,84.70 L568.74,84.88 L569.01,85.03 L569.28,85.17 L569.55,85.28 L569.82,85.36 L570.09,85.43 L570.37,85.46 L570.64,85.47 L570.92,85.45 L571.19,85.40 L571.46,85.32 L571.73,85.21 L572.00,85.07 L572.27,84.91 L572.53,84.73 L572.79,84.53 L573.05,84.32 L573.31,84.10 L573.56,83.88 L573.81,83.64 L574.05,83.41 L574.29,83.17 L574.53,82.94 L574.76,82.70 L574.99,82.46 L575.22,82.21 L575.44,81.97 L575.66,81.72 L575.87,81.47 L576.08,81.22 L576.29,80.97 L576.49,80.71 L576.69,80.46 L576.89,80.20 L577.09,79.94 L577.28,79.68 L577.47,79.42 L577.66,79.15 L577.84,78.89 L578.02,78.62 L578.20,78.35 L578.37,78.08 L578.55,77.81 L578.72,77.53 L578.89,77.25 L579.05,76.98 L579.22,76.70 L579.38,76.42 L579.54,76.14 L579.70,75.85 L579.86,75.57 L580.01,75.28 L580.17,74.99 L580.32,74.70 L580.47,74.41 L580.62,74.12 L580.76,73.83 L580.91,73.53 L581.06,73.24 L581.20,72.94 L581.34,72.64 L581.48,72.34 L581.62,72.04 L581.76,71.74 L581.90,71.44 L582.04,71.13 L582.18,70.83 L582.32,70.52 L582.45,70.21 L582.59,69.90 L582.72,69.59 L582.86,69.28 L582.99,68.97 L583.13,68.65 L583.27,68.34 L583.40,68.02 L583.54,67.71 L583.67,67.39 L583.81,67.07 L583.94,66.75 L584.08,66.43 L584.22,66.11 L584.35,65.79 L584.49,65.47 L584.63,65.15 L584.77,64.83 L584.91,64.51 L585.06,64.19 L585.20,63.87 L585.35,63.55 L585.49,63.24 L585.64,62.92 L585.79,62.61 L585.95,62.30 L586.10,61.99 L586.26,61.68 L586.41,61.37 L586.57,61.07 L586.74,60.76 L586.90,60.47 L587.07,60.17 L587.24,59.88 L587.41,59.58 L587.59,59.30 L587.77,59.01 L587.95,58.73 L588.14,58.46 L588.33,58.19 L588.52,57.92 L588.71,57.66 L588.91,57.40 L589.12,57.14 L589.32,56.89 L589.54,56.65 L589.75,56.41 L589.97,56.18 L590.19,55.95 L590.42,55.72 L590.65,55.51 L590.89,55.30 L591.13,55.09 L591.38,54.89 L591.63,54.70 L591.88,54.52 L592.14,54.34 L592.41,54.17 L592.68,54.01 L592.96,53.85 L593.24,53.70 L593.53,53.56 L593.82,53.43 L594.12,53.30 L594.43,53.19 L594.73,53.08 L595.04,52.98 L595.36,52.90 L595.67,52.82 L595.99,52.75 L596.31,52.70 L596.63,52.65 L596.94,52.62 L597.26,52.60 L597.58,52.59 L597.89,52.60 L598.21,52.62 L598.51,52.65 L598.82,52.70 L599.12,52.76 L599.42,52.83 L599.71,52.92 L599.99,53.03 L600.27,53.15 L600.55,53.29 L600.82,53.43 L601.08,53.60 L601.34,53.77 L601.60,53.95 L601.85,54.15 L602.10,54.36 L602.34,54.58 L602.58,54.80 L602.81,55.04 L603.04,55.29 L603.27,55.54 L603.49,55.81 L603.71,56.08 L603.92,56.36 L604.14,56.64 L604.34,56.93 L604.55,57.23 L604.75,57.53 L604.95,57.83 L605.15,58.14 L605.34,58.45 L605.53,58.77 L605.72,59.09 L605.90,59.41 L606.09,59.73 L606.27,60.06 L606.45,60.38 L606.62,60.70 L606.80,61.03 L606.97,61.35 L607.15,61.67 L607.32,61.99 L607.49,62.31 L607.65,62.62 L607.82,62.94 L607.98,63.24 L608.15,63.55 L608.31,63.84 L608.48,64.14 L608.64,64.43 L608.80,64.71 L608.96,64.99 L609.12,65.27 L609.28,65.54 L609.44,65.81 L609.60,66.07 L609.75,66.34 L609.91,66.60 L610.07,66.85 L610.22,67.11 L610.38,67.37 L610.53,67.62 L610.68,67.87 L610.84,68.13 L610.99,68.38 L611.14,68.63 L611.29,68.88 L611.44,69.14 L611.59,69.39 L611.74,69.65 L611.89,69.91 L612.04,70.16 L612.19,70.43 L612.34,70.69 L612.48,70.95 L612.63,71.22 L612.78,71.50 L612.92,71.77 L613.07,72.05 L613.21,72.34 L613.35,72.63 L613.50,72.92 L613.64,73.22 L613.78,73.53 L613.93,73.84 L614.07,74.15 L614.21,74.48 L614.35,74.80 L614.49,75.14 L614.63,75.49 L614.77,75.84 L614.91,76.19 L615.05,76.56 L615.20,76.93 L615.34,77.30 L615.48,77.67 L615.63,78.04 L615.78,78.41 L615.93,78.78 L616.08,79.15 L616.24,79.51 L616.40,79.87 L616.57,80.21 L616.74,80.55 L616.92,80.88 L617.10,81.20 L617.29,81.51 L617.48,81.80 L617.68,82.08 L617.89,82.34 L618.11,82.59 L618.33,82.81 L618.56,83.02 L618.80,83.21 L619.05,83.39 L619.30,83.55 L619.55,83.69 L619.81,83.82 L620.08,83.93 L620.35,84.02 L620.62,84.10 L620.90,84.17 L621.17,84.22 L621.46,84.25 L621.74,84.28 L622.02,84.29 L622.31,84.28 L622.59,84.26 L622.88,84.23 L623.16,84.19 L623.45,84.14 L623.73,84.07 L624.01,83.99 L624.29,83.90 L624.57,83.80 L624.84,83.69 L625.11,83.57 L625.38,83.44 L625.64,83.30 L625.90,83.15 L626.15,82.99 L626.39,82.82 L626.63,82.64 L626.87,82.46 L627.10,82.27 L627.32,82.06 L627.54,81.86 L627.75,81.64 L627.96,81.42 L628.16,81.19 L628.36,80.95 L628.55,80.71 L628.74,80.46 L628.93,80.21 L629.11,79.94 L629.29,79.68 L629.46,79.41 L629.63,79.13 L629.80,78.85 L629.97,78.57 L630.13,78.28 L630.29,77.99 L630.44,77.69 L630.60,77.39 L630.75,77.09 L630.90,76.78 L631.04,76.47 L631.19,76.16 L631.33,75.85 L631.48,75.53 L631.62,75.22 L631.76,74.90 L631.90,74.58 L632.04,74.26 L632.17,73.94 L632.31,73.61 L632.45,73.29 L632.59,72.97 L632.72,72.65 L632.86,72.33 L633.00,72.01 L633.14,71.69 L633.28,71.37 L633.42,71.05 L633.56,70.73 L633.70,70.41 L633.84,70.10 L633.98,69.78 L634.12,69.47 L634.26,69.16 L634.41,68.85 L634.55,68.53 L634.70,68.22 L634.84,67.91 L634.99,67.60 L635.13,67.30 L635.28,66.99 L635.43,66.68 L635.57,66.38 L635.72,66.07 L635.87,65.77 L636.02,65.47 L636.17,65.16 L636.32,64.86 L636.47,64.56 L636.63,64.26 L636.78,63.96 L636.93,63.66 L637.09,63.37 L637.24,63.07 L637.40,62.77 L637.55,62.48 L637.71,62.18 L637.87,61.89 L638.03,61.60 L638.19,61.30 L638.35,61.01 L638.51,60.72 L638.67,60.43 L638.83,60.14 L638.99,59.86 L639.15,59.57 L639.32,59.28 L639.48,58.99 L639.65,58.71 L639.81,58.43 L639.98,58.14 L640.15,57.86 L640.32,57.58 L640.49,57.29 L640.66,57.01 L640.83,56.73 L641.00,56.45 L641.17,56.18 L641.34,55.90 L641.52,55.62 L641.69,55.34 L641.87,55.07 L642.04,54.79 L642.22,54.52 L642.40,54.24 L642.58,53.97 L642.76,53.70 L642.94,53.43 L643.12,53.16 L643.30,52.89 L643.48,52.62 L643.67,52.35 L643.85,52.08 L644.04,51.81 L644.22,51.55 L644.41,51.28 L644.60,51.02 L644.79,50.75 L644.98,50.49 L645.17,50.22 L645.36,49.96 L645.55,49.70 L645.75,49.44 L645.94,49.18 L646.14,48.92 L646.33,48.66 L646.53,48.40 L646.73,48.14 L646.93,47.88 L647.13,47.63 L647.33,47.37 L647.53,47.11 L647.73,46.86 L647.94,46.61 L648.14,46.35 L648.35,46.10 L648.55,45.85 L648.76,45.59 L648.97,45.34 L649.18,45.09 L649.39,44.84 L649.60,44.59 L649.82,44.35 L650.03,44.10 L650.25,43.85 L650.46,43.60 L650.68,43.36 L650.90,43.11 L651.12,42.87 L651.34,42.62 L651.56,42.38 L651.78,42.13 L652.00,41.89 L652.23,41.65 L652.45,41.41 L652.68,41.17 L652.91,40.93 L653.14,40.69 L653.37,40.45 L653.60,40.21 L653.83,39.97 L654.06,39.74 L654.30,39.50 L654.53,39.27 L654.77,39.04 L655.01,38.81 L655.25,38.58 L655.49,38.36 L655.74,38.14 L655.98,37.92 L656.23,37.71 L656.48,37.50 L656.73,37.29 L656.98,37.09 L657.23,36.90 L657.49,36.70 L657.75,36.52 L658.01,36.34 L658.27,36.16 L658.54,35.99 L658.80,35.83 L659.07,35.67 L659.34,35.52 L659.62,35.38 L659.89,35.24 L660.17,35.12 L660.45,35.00 L660.74,34.88 L661.02,34.78 L661.31,34.68 L661.60,34.60 L661.90,34.52 L662.19,34.45 L662.49,34.39 L662.80,34.34 L663.10,34.30 L663.41,34.27 L663.72,34.26 L664.04,34.25 L664.36,34.25 L664.68,34.27 L665.00,34.29 L665.33,34.33 L665.66,34.38 L666.00,34.45 L666.34,34.52 L666.68,34.61 L667.03,34.72 L667.37,34.83 L667.73,34.96 L668.08,35.11 L668.45,35.26 L668.81,35.44 L669.18,35.62 L669.55,35.83" stroke="#ff0000" stroke-width="2.5" fill="none" stroke-linecap="square" stroke-linejoin="round" clip-path="url(#c1)"/>
<rect x="371.00" y="13.50" width="312.50" height="84.40" fill="none" stroke="#333333" stroke-width="1.0"/>
<path d="M382.40,97.90v2.6 M418.28,97.90v2.6 M454.16,97.90v2.6 M490.04,97.90v2.6 M525.92,97.90v2.6 M561.81,97.90v2.6 M597.69,97.90v2.6 M633.57,97.90v2.6 M669.45,97.90v2.6 M371.00,89.30h-2.6 M371.00,66.00h-2.6 M371.00,42.50h-2.6 M371.00,19.60h-2.6" stroke="#262626" stroke-width="0.9" fill="none"/>
<text transform="translate(382.40,108.70) scale(0.87,1)" class="tk" text-anchor="middle">0</text>
<text transform="translate(418.28,108.70) scale(0.87,1)" class="tk" text-anchor="middle">2500</text>
<text transform="translate(454.16,108.70) scale(0.87,1)" class="tk" text-anchor="middle">5000</text>
<text transform="translate(490.04,108.70) scale(0.87,1)" class="tk" text-anchor="middle">7500</text>
<text transform="translate(525.92,108.70) scale(0.87,1)" class="tk" text-anchor="middle">10000</text>
<text transform="translate(561.81,108.70) scale(0.87,1)" class="tk" text-anchor="middle">12500</text>
<text transform="translate(597.69,108.70) scale(0.87,1)" class="tk" text-anchor="middle">15000</text>
<text transform="translate(633.57,108.70) scale(0.87,1)" class="tk" text-anchor="middle">17500</text>
<text transform="translate(669.45,108.70) scale(0.87,1)" class="tk" text-anchor="middle">20000</text>
<text transform="translate(365.40,92.50) scale(0.87,1)" class="tk" text-anchor="end">60</text>
<text transform="translate(365.40,69.20) scale(0.87,1)" class="tk" text-anchor="end">65</text>
<text transform="translate(365.40,45.70) scale(0.87,1)" class="tk" text-anchor="end">70</text>
<text transform="translate(365.40,22.80) scale(0.87,1)" class="tk" text-anchor="end">75</text>
<text x="527.25" y="8.80" class="ti" text-anchor="middle" textLength="108.80" lengthAdjust="spacingAndGlyphs">Magnitude Respons 002-R</text>
<text x="527.25" y="119.70" class="xl" text-anchor="middle" textLength="52.60" lengthAdjust="spacingAndGlyphs">Frequency (Hz)</text>
<text transform="translate(351.40,56.20) rotate(-90)" class="yl" text-anchor="middle" textLength="59.40" lengthAdjust="spacingAndGlyphs">Magnitude (dB)</text>
<text x="453.25" y="45.50" class="lb" text-anchor="middle">P1</text>
<text x="507.00" y="79.10" class="lb" text-anchor="middle">N1</text>
<text x="541.30" y="38.80" class="lb" text-anchor="middle">P2</text>
<text x="586.30" y="89.10" class="lb" text-anchor="middle">N2</text>
<text x="597.50" y="69.30" class="lb" text-anchor="middle">P3</text>
<text x="639.55" y="89.10" class="lb" text-anchor="middle">N3</text>
<text x="662.70" y="53.00" class="lb" text-anchor="middle">P4</text>
<path d="M36.45,144.50V228.40 M72.33,144.50V228.40 M108.20,144.50V228.40 M144.07,144.50V228.40 M179.95,144.50V228.40 M215.82,144.50V228.40 M251.70,144.50V228.40 M287.57,144.50V228.40 M323.45,144.50V228.40 M25.50,227.50H338.00 M25.50,210.10H338.00 M25.50,192.40H338.00 M25.50,175.40H338.00 M25.50,158.10H338.00" stroke="#c4c4c4" stroke-width="0.9" fill="none"/>
<clipPath id="c2"><rect x="25.50" y="144.50" width="312.50" height="83.90"/></clipPath>
<path d="M39.75,198.62 L40.06,198.55 L40.38,198.48 L40.69,198.40 L41.00,198.32 L41.31,198.24 L41.62,198.16 L41.93,198.07 L42.23,197.99 L42.54,197.90 L42.84,197.80 L43.15,197.71 L43.45,197.61 L43.75,197.52 L44.05,197.42 L44.35,197.32 L44.65,197.21 L44.95,197.11 L45.25,197.00 L45.54,196.89 L45.84,196.78 L46.13,196.66 L46.43,196.55 L46.72,196.43 L47.01,196.31 L47.30,196.19 L47.59,196.07 L47.88,195.94 L48.17,195.81 L48.45,195.69 L48.74,195.56 L49.03,195.42 L49.31,195.29 L49.59,195.15 L49.88,195.02 L50.16,194.88 L50.44,194.74 L50.72,194.60 L51.00,194.45 L51.28,194.31 L51.56,194.16 L51.83,194.01 L52.11,193.86 L52.39,193.71 L52.66,193.56 L52.93,193.40 L53.21,193.25 L53.48,193.09 L53.75,192.93 L54.02,192.77 L54.30,192.61 L54.57,192.44 L54.83,192.28 L55.10,192.11 L55.37,191.95 L55.64,191.78 L55.90,191.61 L56.17,191.44 L56.44,191.26 L56.70,191.09 L56.96,190.91 L57.23,190.74 L57.49,190.56 L57.75,190.38 L58.01,190.20 L58.27,190.02 L58.53,189.84 L58.79,189.66 L59.05,189.47 L59.31,189.29 L59.57,189.10 L59.83,188.91 L60.08,188.72 L60.34,188.53 L60.60,188.34 L60.85,188.15 L61.11,187.96 L61.36,187.77 L61.61,187.57 L61.87,187.38 L62.12,187.18 L62.37,186.98 L62.62,186.78 L62.88,186.59 L63.13,186.39 L63.38,186.19 L63.63,185.98 L63.88,185.78 L64.13,185.58 L64.38,185.38 L64.62,185.17 L64.87,184.97 L65.12,184.76 L65.37,184.55 L65.61,184.35 L65.86,184.14 L66.11,183.93 L66.35,183.72 L66.60,183.51 L66.84,183.30 L67.09,183.09 L67.33,182.88 L67.58,182.67 L67.82,182.46 L68.06,182.25 L68.31,182.03 L68.55,181.82 L68.79,181.61 L69.03,181.39 L69.28,181.18 L69.52,180.96 L69.76,180.75 L70.00,180.53 L70.24,180.32 L70.48,180.10 L70.72,179.88 L70.96,179.67 L71.20,179.45 L71.44,179.23 L71.68,179.02 L71.92,178.80 L72.16,178.58 L72.40,178.36 L72.64,178.14 L72.88,177.93 L73.12,177.71 L73.36,177.49 L73.59,177.27 L73.83,177.05 L74.07,176.83 L74.31,176.61 L74.55,176.40 L74.78,176.18 L75.02,175.96 L75.26,175.74 L75.50,175.52 L75.73,175.30 L75.97,175.08 L76.21,174.87 L76.45,174.65 L76.68,174.43 L76.92,174.21 L77.16,173.99 L77.40,173.78 L77.63,173.56 L77.87,173.34 L78.11,173.13 L78.35,172.91 L78.58,172.69 L78.82,172.48 L79.06,172.26 L79.30,172.05 L79.53,171.83 L79.77,171.62 L80.01,171.41 L80.25,171.19 L80.48,170.98 L80.72,170.77 L80.96,170.55 L81.20,170.34 L81.44,170.13 L81.67,169.92 L81.91,169.71 L82.15,169.50 L82.39,169.29 L82.63,169.08 L82.87,168.88 L83.11,168.67 L83.35,168.46 L83.59,168.26 L83.83,168.05 L84.07,167.85 L84.31,167.64 L84.55,167.44 L84.79,167.24 L85.03,167.04 L85.27,166.84 L85.51,166.64 L85.75,166.44 L85.99,166.24 L86.24,166.04 L86.48,165.84 L86.72,165.65 L86.96,165.45 L87.21,165.26 L87.45,165.06 L87.69,164.87 L87.94,164.68 L88.18,164.49 L88.43,164.29 L88.67,164.10 L88.92,163.91 L89.17,163.72 L89.41,163.53 L89.66,163.34 L89.91,163.15 L90.15,162.96 L90.40,162.78 L90.65,162.59 L90.90,162.40 L91.15,162.21 L91.40,162.02 L91.65,161.84 L91.90,161.65 L92.15,161.46 L92.41,161.28 L92.66,161.09 L92.91,160.90 L93.16,160.71 L93.42,160.53 L93.67,160.34 L93.93,160.15 L94.19,159.97 L94.44,159.78 L94.70,159.59 L94.96,159.40 L95.22,159.22 L95.48,159.03 L95.74,158.84 L96.00,158.65 L96.26,158.46 L96.52,158.27 L96.78,158.08 L97.05,157.89 L97.31,157.70 L97.58,157.51 L97.84,157.32 L98.11,157.13 L98.38,156.93 L98.64,156.74 L98.91,156.55 L99.18,156.35 L99.45,156.16 L99.72,155.96 L100.00,155.76 L100.27,155.57 L100.54,155.37 L100.82,155.17 L101.09,154.98 L101.37,154.78 L101.64,154.58 L101.92,154.39 L102.20,154.20 L102.48,154.01 L102.76,153.82 L103.04,153.63 L103.32,153.45 L103.60,153.27 L103.88,153.09 L104.17,152.91 L104.45,152.74 L104.74,152.58 L105.02,152.41 L105.30,152.26 L105.59,152.10 L105.88,151.96 L106.16,151.81 L106.45,151.68 L106.74,151.55 L107.03,151.42 L107.32,151.31 L107.60,151.20 L107.89,151.09 L108.18,151.00 L108.47,150.91 L108.76,150.83 L109.05,150.76 L109.35,150.69 L109.64,150.64 L109.93,150.59 L110.22,150.56 L110.51,150.53 L110.81,150.51 L111.10,150.51 L111.39,150.51 L111.69,150.53 L111.98,150.55 L112.27,150.59 L112.57,150.63 L112.86,150.68 L113.16,150.74 L113.45,150.81 L113.75,150.88 L114.05,150.96 L114.35,151.04 L114.65,151.13 L114.95,151.22 L115.25,151.32 L115.55,151.42 L115.85,151.52 L116.16,151.63 L116.46,151.73 L116.77,151.84 L117.07,151.95 L117.38,152.06 L117.69,152.16 L118.01,152.27 L118.32,152.37 L118.63,152.48 L118.95,152.58 L119.27,152.67 L119.59,152.76 L119.91,152.85 L120.23,152.94 L120.56,153.01 L120.89,153.08 L121.21,153.15 L121.55,153.21 L121.88,153.26 L122.22,153.30 L122.55,153.33 L122.89,153.36 L123.24,153.37 L123.58,153.37 L123.93,153.37 L124.27,153.36 L124.62,153.34 L124.97,153.32 L125.33,153.29 L125.68,153.26 L126.03,153.22 L126.38,153.18 L126.73,153.14 L127.08,153.10 L127.44,153.05 L127.79,153.01 L128.13,152.97 L128.48,152.92 L128.83,152.89 L129.17,152.85 L129.51,152.82 L129.85,152.79 L130.18,152.77 L130.52,152.76 L130.85,152.75 L131.17,152.75 L131.50,152.76 L131.81,152.78 L132.13,152.80 L132.44,152.83 L132.75,152.87 L133.06,152.91 L133.36,152.96 L133.66,153.02 L133.96,153.08 L134.26,153.16 L134.55,153.23 L134.84,153.32 L135.12,153.41 L135.41,153.50 L135.69,153.60 L135.97,153.71 L136.25,153.82 L136.52,153.94 L136.79,154.07 L137.06,154.20 L137.33,154.33 L137.59,154.47 L137.86,154.61 L138.12,154.76 L138.38,154.92 L138.64,155.07 L138.89,155.24 L139.14,155.40 L139.40,155.57 L139.65,155.75 L139.90,155.93 L140.14,156.11 L140.39,156.29 L140.63,156.48 L140.88,156.68 L141.12,156.87 L141.36,157.07 L141.60,157.28 L141.84,157.48 L142.07,157.69 L142.31,157.90 L142.54,158.11 L142.78,158.33 L143.01,158.55 L143.25,158.77 L143.48,158.99 L143.71,159.21 L143.94,159.44 L144.17,159.67 L144.40,159.89 L144.63,160.12 L144.86,160.36 L145.09,160.59 L145.32,160.82 L145.55,161.06 L145.77,161.29 L146.00,161.53 L146.23,161.77 L146.46,162.00 L146.69,162.24 L146.92,162.48 L147.15,162.72 L147.38,162.96 L147.61,163.19 L147.84,163.43 L148.07,163.67 L148.30,163.90 L148.53,164.14 L148.76,164.37 L149.00,164.61 L149.23,164.84 L149.47,165.07 L149.70,165.30 L149.94,165.53 L150.18,165.76 L150.42,165.98 L150.66,166.21 L150.90,166.43 L151.14,166.65 L151.39,166.87 L151.63,167.08 L151.88,167.29 L152.13,167.50 L152.38,167.71 L152.63,167.92 L152.89,168.12 L153.14,168.32 L153.40,168.51 L153.66,168.71 L153.92,168.89 L154.18,169.08 L154.45,169.26 L154.71,169.44 L154.98,169.62 L155.25,169.79 L155.52,169.96 L155.80,170.12 L156.07,170.28 L156.35,170.44 L156.62,170.60 L156.90,170.75 L157.18,170.89 L157.46,171.04 L157.74,171.18 L158.03,171.31 L158.31,171.44 L158.60,171.57 L158.88,171.70 L159.17,171.82 L159.46,171.93 L159.75,172.04 L160.04,172.15 L160.33,172.26 L160.63,172.36 L160.92,172.45 L161.21,172.54 L161.51,172.63 L161.80,172.72 L162.10,172.80 L162.39,172.87 L162.69,172.94 L162.98,173.01 L163.28,173.07 L163.58,173.13 L163.88,173.18 L164.18,173.23 L164.47,173.27 L164.77,173.31 L165.07,173.35 L165.37,173.38 L165.67,173.41 L165.97,173.43 L166.26,173.45 L166.56,173.46 L166.86,173.47 L167.16,173.47 L167.46,173.47 L167.75,173.46 L168.05,173.45 L168.35,173.43 L168.64,173.41 L168.94,173.39 L169.23,173.35 L169.53,173.32 L169.82,173.28 L170.12,173.23 L170.41,173.18 L170.70,173.12 L170.99,173.06 L171.28,173.00 L171.57,172.92 L171.86,172.85 L172.15,172.76 L172.44,172.68 L172.72,172.58 L173.01,172.49 L173.29,172.38 L173.57,172.27 L173.85,172.16 L174.13,172.04 L174.41,171.91 L174.69,171.78 L174.96,171.65 L175.24,171.50 L175.51,171.35 L175.78,171.20 L176.05,171.04 L176.32,170.88 L176.58,170.71 L176.85,170.53 L177.11,170.35 L177.37,170.16 L177.63,169.97 L177.89,169.77 L178.15,169.57 L178.40,169.37 L178.65,169.15 L178.90,168.94 L179.15,168.72 L179.40,168.50 L179.65,168.27 L179.89,168.03 L180.13,167.80 L180.37,167.56 L180.61,167.31 L180.85,167.07 L181.08,166.82 L181.31,166.56 L181.54,166.30 L181.77,166.04 L182.00,165.78 L182.22,165.51 L182.45,165.25 L182.67,164.97 L182.89,164.70 L183.11,164.42 L183.32,164.15 L183.53,163.87 L183.75,163.58 L183.95,163.30 L184.16,163.01 L184.37,162.72 L184.57,162.44 L184.77,162.14 L184.97,161.85 L185.17,161.56 L185.36,161.27 L185.55,160.97 L185.75,160.68 L185.93,160.38 L186.12,160.08 L186.30,159.78 L186.49,159.49 L186.67,159.19 L186.84,158.89 L187.02,158.59 L187.19,158.30 L187.36,158.00 L187.53,157.70 L187.70,157.41 L187.86,157.11 L188.03,156.82 L188.19,156.52 L188.35,156.23 L188.51,155.94 L188.67,155.66 L188.83,155.37 L188.99,155.09 L189.14,154.81 L189.31,154.54 L189.47,154.26 L189.63,154.00 L189.79,153.73 L189.96,153.47 L190.13,153.22 L190.30,152.97 L190.47,152.73 L190.64,152.49 L190.82,152.26 L191.00,152.03 L191.19,151.81 L191.38,151.60 L191.58,151.39 L191.77,151.19 L191.98,151.00 L192.19,150.82 L192.40,150.64 L192.62,150.48 L192.85,150.32 L193.08,150.17 L193.32,150.03 L193.57,149.90 L193.82,149.78 L194.08,149.67 L194.35,149.57 L194.63,149.48 L194.91,149.40 L195.20,149.33 L195.49,149.28 L195.78,149.24 L196.07,149.23 L196.35,149.23 L196.62,149.24 L196.88,149.28 L197.13,149.34 L197.37,149.42 L197.60,149.52 L197.83,149.63 L198.04,149.76 L198.25,149.90 L198.45,150.07 L198.64,150.24 L198.83,150.43 L199.00,150.64 L199.17,150.86 L199.34,151.09 L199.50,151.33 L199.65,151.59 L199.79,151.86 L199.93,152.13 L200.07,152.42 L200.19,152.72 L200.32,153.02 L200.44,153.33 L200.55,153.66 L200.66,153.98 L200.77,154.32 L200.87,154.66 L200.97,155.00 L201.07,155.35 L201.16,155.71 L201.25,156.06 L201.34,156.42 L201.42,156.79 L201.50,157.15 L201.59,157.51 L201.66,157.88 L201.74,158.25 L201.82,158.61 L201.90,158.98 L201.97,159.34 L202.05,159.70 L202.13,160.06 L202.20,160.41 L202.28,160.76 L202.35,161.10 L202.43,161.45 L202.51,161.78 L202.59,162.12 L202.67,162.45 L202.75,162.77 L202.82,163.10 L202.90,163.42 L202.98,163.73 L203.07,164.05 L203.15,164.36 L203.23,164.67 L203.31,164.98 L203.39,165.28 L203.47,165.58 L203.56,165.88 L203.64,166.18 L203.72,166.48 L203.81,166.77 L203.89,167.06 L203.97,167.36 L204.06,167.65 L204.14,167.94 L204.23,168.22 L204.31,168.51 L204.39,168.80 L204.48,169.09 L204.56,169.37 L204.65,169.66 L204.74,169.94 L204.82,170.23 L204.91,170.52 L204.99,170.80 L205.08,171.09 L205.16,171.38 L205.25,171.66 L205.34,171.95 L205.42,172.24 L205.51,172.53 L205.59,172.82 L205.68,173.12 L205.76,173.41 L205.85,173.70 L205.94,174.00 L206.02,174.29 L206.11,174.59 L206.19,174.88 L206.28,175.18 L206.36,175.48 L206.45,175.77 L206.53,176.07 L206.62,176.37 L206.70,176.67 L206.79,176.97 L206.87,177.28 L206.96,177.58 L207.04,177.88 L207.12,178.18 L207.21,178.49 L207.29,178.79 L207.37,179.10 L207.46,179.41 L207.54,179.71 L207.62,180.02 L207.70,180.33 L207.79,180.64 L207.87,180.95 L207.95,181.26 L208.03,181.57 L208.11,181.88 L208.19,182.19 L208.27,182.51 L208.35,182.82 L208.43,183.13 L208.50,183.45 L208.58,183.76 L208.66,184.08 L208.74,184.39 L208.81,184.71 L208.89,185.03 L208.96,185.35 L209.04,185.67 L209.11,185.99 L209.19,186.31 L209.26,186.63 L209.33,186.95 L209.41,187.27 L209.48,187.59 L209.55,187.91 L209.62,188.24 L209.69,188.56 L209.76,188.88 L209.83,189.21 L209.89,189.53 L209.96,189.86 L210.03,190.19 L210.09,190.51 L210.16,190.84 L210.22,191.17 L210.29,191.50 L210.35,191.83 L210.41,192.16 L210.48,192.49 L210.54,192.82 L210.60,193.15 L210.66,193.48 L210.72,193.81 L210.78,194.14 L210.84,194.47 L210.90,194.80 L210.96,195.13 L211.03,195.46 L211.09,195.79 L211.16,196.11 L211.23,196.44 L211.30,196.76 L211.37,197.08 L211.45,197.40 L211.52,197.72 L211.60,198.04 L211.69,198.36 L211.78,198.67 L211.87,198.98 L211.96,199.29 L212.06,199.59 L212.16,199.89 L212.27,200.19 L212.38,200.49 L212.50,200.78 L212.62,201.07 L212.74,201.36 L212.88,201.64 L213.01,201.92 L213.16,202.19 L213.31,202.46 L213.46,202.73 L213.63,202.99 L213.80,203.25 L213.97,203.50 L214.16,203.75 L214.35,203.99 L214.55,204.23 L214.76,204.46 L214.97,204.67 L215.18,204.86 L215.40,205.03 L215.63,205.17 L215.85,205.28 L216.08,205.35 L216.31,205.38 L216.54,205.37 L216.76,205.33 L216.99,205.24 L217.22,205.13 L217.45,204.99 L217.68,204.82 L217.90,204.62 L218.13,204.41 L218.36,204.17 L218.58,203.92 L218.81,203.65 L219.03,203.37 L219.25,203.08 L219.48,202.79 L219.70,202.49 L219.92,202.19 L220.13,201.89 L220.35,201.59 L220.56,201.30 L220.78,201.00 L220.99,200.71 L221.20,200.42 L221.41,200.13 L221.61,199.85 L221.81,199.56 L222.02,199.28 L222.22,199.00 L222.41,198.72 L222.61,198.45 L222.80,198.17 L222.99,197.90 L223.18,197.63 L223.37,197.37 L223.55,197.10 L223.73,196.84 L223.91,196.58 L224.09,196.32 L224.27,196.06 L224.44,195.80 L224.62,195.55 L224.79,195.29 L224.96,195.04 L225.13,194.79 L225.30,194.54 L225.46,194.29 L225.63,194.04 L225.79,193.79 L225.96,193.54 L226.12,193.29 L226.29,193.05 L226.45,192.80 L226.61,192.55 L226.78,192.30 L226.94,192.06 L227.10,191.81 L227.27,191.56 L227.43,191.31 L227.59,191.06 L227.76,190.81 L227.92,190.56 L228.09,190.31 L228.25,190.06 L228.42,189.81 L228.59,189.55 L228.76,189.29 L228.93,189.04 L229.10,188.78 L229.27,188.52 L229.45,188.26 L229.62,187.99 L229.80,187.73 L229.98,187.46 L230.16,187.19 L230.34,186.92 L230.53,186.64 L230.72,186.36 L230.91,186.08 L231.10,185.80 L231.29,185.52 L231.49,185.23 L231.69,184.94 L231.89,184.65 L232.10,184.36 L232.30,184.07 L232.51,183.78 L232.72,183.49 L232.94,183.20 L233.15,182.91 L233.37,182.62 L233.59,182.34 L233.81,182.06 L234.03,181.79 L234.26,181.52 L234.49,181.25 L234.71,180.99 L234.94,180.74 L235.18,180.49 L235.41,180.25 L235.64,180.01 L235.88,179.79 L236.12,179.57 L236.36,179.36 L236.60,179.16 L236.84,178.97 L237.08,178.80 L237.33,178.63 L237.57,178.47 L237.82,178.33 L238.07,178.20 L238.31,178.08 L238.56,177.97 L238.81,177.88 L239.06,177.80 L239.32,177.74 L239.57,177.70 L239.82,177.67 L240.07,177.66 L240.33,177.66 L240.58,177.68 L240.84,177.71 L241.09,177.77 L241.35,177.83 L241.60,177.91 L241.86,178.01 L242.11,178.12 L242.37,178.24 L242.62,178.37 L242.88,178.52 L243.13,178.67 L243.38,178.84 L243.64,179.02 L243.89,179.21 L244.14,179.41 L244.39,179.62 L244.64,179.84 L244.88,180.06 L245.13,180.30 L245.37,180.54 L245.61,180.79 L245.85,181.04 L246.09,181.30 L246.33,181.57 L246.56,181.84 L246.80,182.11 L247.03,182.39 L247.26,182.68 L247.48,182.96 L247.70,183.25 L247.93,183.54 L248.14,183.84 L248.36,184.13 L248.57,184.43 L248.78,184.72 L248.99,185.02 L249.19,185.31 L249.39,185.61 L249.58,185.90 L249.78,186.19 L249.97,186.48 L250.16,186.78 L250.34,187.07 L250.52,187.35 L250.70,187.64 L250.87,187.93 L251.05,188.22 L251.22,188.51 L251.38,188.79 L251.55,189.08 L251.71,189.36 L251.87,189.65 L252.03,189.93 L252.18,190.22 L252.33,190.50 L252.48,190.78 L252.63,191.07 L252.78,191.35 L252.92,191.63 L253.06,191.91 L253.20,192.19 L253.34,192.47 L253.47,192.75 L253.60,193.03 L253.73,193.31 L253.86,193.59 L253.99,193.87 L254.11,194.15 L254.24,194.43 L254.36,194.71 L254.48,194.99 L254.60,195.27 L254.72,195.55 L254.83,195.82 L254.95,196.10 L255.06,196.38 L255.17,196.66 L255.28,196.94 L255.39,197.22 L255.50,197.49 L255.60,197.77 L255.71,198.05 L255.81,198.33 L255.92,198.61 L256.02,198.89 L256.12,199.16 L256.22,199.44 L256.32,199.72 L256.42,200.00 L256.52,200.28 L256.62,200.56 L256.72,200.84 L256.81,201.12 L256.91,201.40 L257.01,201.68 L257.10,201.97 L257.20,202.25 L257.29,202.53 L257.39,202.81 L257.48,203.10 L257.58,203.38 L257.67,203.66 L257.76,203.95 L257.86,204.23 L257.95,204.52 L258.05,204.80 L258.14,205.09 L258.24,205.38 L258.33,205.67 L258.43,205.96 L258.52,206.24 L258.62,206.53 L258.71,206.82 L258.81,207.12 L258.91,207.41 L259.01,207.70 L259.10,207.99 L259.20,208.29 L259.30,208.58 L259.40,208.88 L259.51,209.18 L259.61,209.47 L259.71,209.77 L259.82,210.07 L259.92,210.37 L260.03,210.67 L260.14,210.98 L260.24,211.28 L260.35,211.58 L260.47,211.89 L260.58,212.19 L260.69,212.50 L260.81,212.81 L260.92,213.12 L261.04,213.43 L261.16,213.74 L261.28,214.06 L261.41,214.37 L261.53,214.68 L261.66,215.00 L261.79,215.32 L261.92,215.64 L262.05,215.96 L262.18,216.28 L262.32,216.60 L262.46,216.93 L262.60,217.25 L262.74,217.58 L262.89,217.91 L263.03,218.24 L263.18,218.57 L263.33,218.90 L263.49,219.24 L263.64,219.57 L263.80,219.91 L263.96,220.25 L264.13,220.59 L264.30,220.93 L264.47,221.26 L264.64,221.59 L264.81,221.89 L264.99,222.18 L265.17,222.43 L265.35,222.66 L265.54,222.84 L265.73,222.98 L265.92,223.08 L266.12,223.12 L266.32,223.10 L266.52,223.02 L266.72,222.89 L266.92,222.72 L267.13,222.51 L267.33,222.26 L267.52,221.99 L267.72,221.69 L267.90,221.37 L268.09,221.04 L268.26,220.70 L268.43,220.35 L268.59,220.01 L268.74,219.67 L268.88,219.34 L269.01,219.01 L269.14,218.68 L269.27,218.35 L269.39,218.02 L269.51,217.70 L269.62,217.38 L269.73,217.06 L269.84,216.75 L269.95,216.44 L270.05,216.13 L270.16,215.82 L270.27,215.52 L270.39,215.22 L270.50,214.92 L270.62,214.63 L270.74,214.34 L270.86,214.05 L270.98,213.77 L271.10,213.48 L271.23,213.20 L271.35,212.92 L271.48,212.64 L271.61,212.37 L271.74,212.09 L271.87,211.82 L272.00,211.54 L272.13,211.27 L272.27,211.00 L272.40,210.73 L272.53,210.46 L272.66,210.19 L272.80,209.92 L272.93,209.65 L273.06,209.38 L273.19,209.11 L273.32,208.84 L273.45,208.57 L273.58,208.30 L273.71,208.03 L273.84,207.75 L273.96,207.48 L274.09,207.20 L274.21,206.92 L274.33,206.64 L274.45,206.36 L274.56,206.08 L274.68,205.79 L274.79,205.50 L274.90,205.21 L275.01,204.92 L275.12,204.62 L275.22,204.33 L275.32,204.03 L275.42,203.73 L275.52,203.42 L275.62,203.12 L275.72,202.81 L275.81,202.51 L275.91,202.20 L276.00,201.89 L276.10,201.58 L276.19,201.27 L276.28,200.95 L276.37,200.64 L276.46,200.33 L276.55,200.01 L276.64,199.70 L276.73,199.38 L276.82,199.07 L276.92,198.75 L277.01,198.43 L277.10,198.12 L277.19,197.80 L277.28,197.48 L277.37,197.17 L277.47,196.85 L277.56,196.54 L277.66,196.22 L277.75,195.91 L277.85,195.59 L277.95,195.28 L278.05,194.97 L278.15,194.66 L278.26,194.35 L278.36,194.04 L278.47,193.73 L278.58,193.43 L278.69,193.12 L278.81,192.82 L278.92,192.52 L279.04,192.22 L279.16,191.92 L279.29,191.63 L279.41,191.34 L279.54,191.04 L279.67,190.76 L279.81,190.47 L279.95,190.18 L280.09,189.90 L280.23,189.62 L280.38,189.35 L280.54,189.08 L280.69,188.80 L280.85,188.54 L281.01,188.27 L281.18,188.01 L281.35,187.75 L281.52,187.49 L281.70,187.24 L281.87,186.98 L282.05,186.73 L282.24,186.48 L282.42,186.24 L282.61,185.99 L282.80,185.75 L283.00,185.51 L283.19,185.27 L283.39,185.03 L283.58,184.79 L283.78,184.55 L283.99,184.32 L284.19,184.08 L284.39,183.85 L284.60,183.61 L284.80,183.38 L285.01,183.15 L285.22,182.92 L285.43,182.69 L285.64,182.46 L285.85,182.22 L286.06,181.99 L286.27,181.76 L286.48,181.53 L286.69,181.30 L286.90,181.07 L287.11,180.84 L287.32,180.60 L287.53,180.37 L287.74,180.14 L287.94,179.90 L288.15,179.67 L288.36,179.43 L288.56,179.19 L288.77,178.95 L288.97,178.71 L289.17,178.47 L289.37,178.23 L289.57,177.98 L289.77,177.74 L289.96,177.49 L290.15,177.24 L290.34,176.98 L290.53,176.73 L290.72,176.47 L290.90,176.21 L291.08,175.95 L291.26,175.68 L291.44,175.42 L291.61,175.15 L291.78,174.88 L291.95,174.60 L292.12,174.33 L292.28,174.05 L292.44,173.77 L292.61,173.49 L292.76,173.21 L292.92,172.93 L293.08,172.64 L293.23,172.35 L293.38,172.07 L293.54,171.78 L293.69,171.48 L293.83,171.19 L293.98,170.90 L294.13,170.60 L294.27,170.31 L294.42,170.01 L294.56,169.72 L294.70,169.42 L294.84,169.12 L294.98,168.82 L295.12,168.52 L295.26,168.22 L295.40,167.92 L295.54,167.62 L295.67,167.32 L295.81,167.02 L295.95,166.72 L296.08,166.41 L296.22,166.11 L296.36,165.81 L296.49,165.51 L296.63,165.21 L296.77,164.91 L296.90,164.61 L297.04,164.31 L297.18,164.01 L297.32,163.71 L297.46,163.41 L297.59,163.12 L297.73,162.82 L297.87,162.53 L298.02,162.23 L298.16,161.94 L298.30,161.65 L298.44,161.36 L298.59,161.07 L298.74,160.78 L298.88,160.49 L299.03,160.21 L299.18,159.92 L299.33,159.64 L299.49,159.36 L299.64,159.08 L299.80,158.80 L299.96,158.53 L300.11,158.26 L300.28,157.99 L300.44,157.72 L300.61,157.45 L300.77,157.19 L300.94,156.93 L301.11,156.67 L301.29,156.41 L301.47,156.15 L301.64,155.90 L301.83,155.65 L302.01,155.41 L302.20,155.17 L302.39,154.92 L302.58,154.69 L302.77,154.45 L302.97,154.22 L303.17,153.99 L303.37,153.77 L303.58,153.55 L303.79,153.33 L304.01,153.12 L304.22,152.91 L304.44,152.70 L304.67,152.50 L304.89,152.30 L305.12,152.10 L305.36,151.91 L305.60,151.72 L305.84,151.54 L306.09,151.36 L306.34,151.19 L306.59,151.02 L306.85,150.85 L307.11,150.69 L307.38,150.53 L307.65,150.38 L307.92,150.23 L308.20,150.09 L308.48,149.95 L308.77,149.81 L309.06,149.68 L309.35,149.55 L309.65,149.43 L309.94,149.31 L310.25,149.20 L310.55,149.09 L310.86,148.98 L311.17,148.88 L311.48,148.78 L311.79,148.69 L312.11,148.60 L312.43,148.51 L312.74,148.43 L313.07,148.35 L313.39,148.28 L313.71,148.21 L314.04,148.14 L314.36,148.08 L314.69,148.02 L315.02,147.96 L315.35,147.91 L315.68,147.86 L316.01,147.81 L316.34,147.77 L316.67,147.73 L317.00,147.70 L317.33,147.66 L317.66,147.64 L317.99,147.61 L318.32,147.59 L318.65,147.57 L318.98,147.55 L319.30,147.54 L319.63,147.53 L319.95,147.52 L320.28,147.52 L320.60,147.52 L320.92,147.52 L321.23,147.52 L321.55,147.53 L321.87,147.54 L322.18,147.55 L322.49,147.57 L322.79,147.59 L323.10,147.61 L323.40,147.63" stroke="#228b22" stroke-width="2.5" fill="none" stroke-linecap="square" stroke-linejoin="round" clip-path="url(#c2)"/>
<rect x="25.50" y="144.50" width="312.50" height="83.90" fill="none" stroke="#333333" stroke-width="1.0"/>
<path d="M36.45,228.40v2.6 M72.33,228.40v2.6 M108.20,228.40v2.6 M144.07,228.40v2.6 M179.95,228.40v2.6 M215.82,228.40v2.6 M251.70,228.40v2.6 M287.57,228.40v2.6 M323.45,228.40v2.6 M25.50,227.50h-2.6 M25.50,210.10h-2.6 M25.50,192.40h-2.6 M25.50,175.40h-2.6 M25.50,158.10h-2.6" stroke="#262626" stroke-width="0.9" fill="none"/>
<text transform="translate(36.45,239.20) scale(0.87,1)" class="tk" text-anchor="middle">0</text>
<text transform="translate(72.33,239.20) scale(0.87,1)" class="tk" text-anchor="middle">2500</text>
<text transform="translate(108.20,239.20) scale(0.87,1)" class="tk" text-anchor="middle">5000</text>
<text transform="translate(144.07,239.20) scale(0.87,1)" class="tk" text-anchor="middle">7500</text>
<text transform="translate(179.95,239.20) scale(0.87,1)" class="tk" text-anchor="middle">10000</text>
<text transform="translate(215.82,239.20) scale(0.87,1)" class="tk" text-anchor="middle">12500</text>
<text transform="translate(251.70,239.20) scale(0.87,1)" class="tk" text-anchor="middle">15000</text>
<text transform="translate(287.57,239.20) scale(0.87,1)" class="tk" text-anchor="middle">17500</text>
<text transform="translate(323.45,239.20) scale(0.87,1)" class="tk" text-anchor="middle">20000</text>
<text transform="translate(19.90,230.70) scale(0.87,1)" class="tk" text-anchor="end">50</text>
<text transform="translate(19.90,213.30) scale(0.87,1)" class="tk" text-anchor="end">55</text>
<text transform="translate(19.90,195.60) scale(0.87,1)" class="tk" text-anchor="end">60</text>
<text transform="translate(19.90,178.60) scale(0.87,1)" class="tk" text-anchor="end">65</text>
<text transform="translate(19.90,161.30) scale(0.87,1)" class="tk" text-anchor="end">70</text>
<text x="181.75" y="139.80" class="ti" text-anchor="middle" textLength="108.80" lengthAdjust="spacingAndGlyphs">Magnitude Respons 007-L</text>
<text x="181.75" y="250.20" class="xl" text-anchor="middle" textLength="52.60" lengthAdjust="spacingAndGlyphs">Frequency (Hz)</text>
<text transform="translate(5.90,186.95) rotate(-90)" class="yl" text-anchor="middle" textLength="59.40" lengthAdjust="spacingAndGlyphs">Magnitude (dB)</text>
<text x="110.20" y="166.80" class="lb" text-anchor="middle">P1</text>
<text x="166.30" y="187.60" class="lb" text-anchor="middle">N1</text>
<text x="194.30" y="169.70" class="lb" text-anchor="middle">P2</text>
<text x="214.30" y="219.70" class="lb" text-anchor="middle">N2</text>
<text x="240.50" y="196.90" class="lb" text-anchor="middle">P3</text>
<text x="279.40" y="224.00" class="lb" text-anchor="middle">N3</text>
<text x="317.25" y="162.80" class="lb" text-anchor="middle">P4</text>
<path d="M382.40,144.50V228.40 M418.28,144.50V228.40 M454.16,144.50V228.40 M490.04,144.50V228.40 M525.92,144.50V228.40 M561.81,144.50V228.40 M597.69,144.50V228.40 M633.57,144.50V228.40 M669.45,144.50V228.40 M371.00,221.30H683.50 M371.00,197.90H683.50 M371.00,174.80H683.50 M371.00,151.70H683.50" stroke="#c4c4c4" stroke-width="0.9" fill="none"/>
<clipPath id="c3"><rect x="371.00" y="144.50" width="312.50" height="83.90"/></clipPath>
<path d="M385.43,224.71 L385.77,224.61 L386.10,224.50 L386.42,224.39 L386.75,224.28 L387.07,224.16 L387.39,224.04 L387.71,223.92 L388.03,223.79 L388.35,223.66 L388.66,223.53 L388.97,223.40 L389.28,223.26 L389.59,223.12 L389.89,222.98 L390.20,222.83 L390.50,222.69 L390.80,222.53 L391.10,222.38 L391.39,222.23 L391.69,222.07 L391.98,221.91 L392.27,221.74 L392.56,221.58 L392.85,221.41 L393.14,221.24 L393.42,221.07 L393.70,220.89 L393.98,220.72 L394.26,220.54 L394.54,220.36 L394.82,220.17 L395.09,219.99 L395.37,219.80 L395.64,219.61 L395.91,219.42 L396.18,219.22 L396.45,219.03 L396.72,218.83 L396.98,218.63 L397.25,218.43 L397.51,218.23 L397.77,218.02 L398.03,217.82 L398.29,217.61 L398.55,217.40 L398.81,217.19 L399.07,216.98 L399.32,216.76 L399.58,216.55 L399.83,216.33 L400.08,216.11 L400.33,215.89 L400.58,215.67 L400.83,215.44 L401.08,215.22 L401.33,215.00 L401.57,214.77 L401.82,214.54 L402.07,214.31 L402.31,214.08 L402.55,213.85 L402.80,213.62 L403.04,213.38 L403.28,213.15 L403.52,212.92 L403.76,212.68 L404.00,212.44 L404.24,212.20 L404.48,211.97 L404.72,211.73 L404.96,211.49 L405.19,211.25 L405.43,211.00 L405.67,210.76 L405.90,210.52 L406.14,210.28 L406.37,210.03 L406.61,209.79 L406.84,209.54 L407.08,209.30 L407.31,209.05 L407.54,208.81 L407.78,208.56 L408.01,208.31 L408.25,208.07 L408.48,207.82 L408.71,207.57 L408.94,207.32 L409.18,207.08 L409.41,206.83 L409.64,206.58 L409.88,206.33 L410.11,206.08 L410.34,205.84 L410.57,205.59 L410.81,205.34 L411.04,205.09 L411.27,204.84 L411.50,204.59 L411.73,204.34 L411.96,204.09 L412.20,203.84 L412.43,203.59 L412.66,203.34 L412.89,203.09 L413.12,202.84 L413.35,202.59 L413.58,202.34 L413.81,202.09 L414.04,201.84 L414.27,201.59 L414.50,201.34 L414.73,201.08 L414.96,200.83 L415.19,200.58 L415.42,200.33 L415.65,200.08 L415.88,199.83 L416.11,199.58 L416.34,199.32 L416.57,199.07 L416.79,198.82 L417.02,198.57 L417.25,198.31 L417.48,198.06 L417.71,197.81 L417.93,197.56 L418.16,197.30 L418.39,197.05 L418.62,196.80 L418.84,196.55 L419.07,196.29 L419.30,196.04 L419.52,195.79 L419.75,195.53 L419.98,195.28 L420.20,195.03 L420.43,194.78 L420.65,194.52 L420.88,194.27 L421.10,194.02 L421.33,193.76 L421.55,193.51 L421.78,193.26 L422.00,193.00 L422.23,192.75 L422.45,192.50 L422.67,192.24 L422.90,191.99 L423.12,191.74 L423.34,191.48 L423.56,191.23 L423.79,190.97 L424.01,190.72 L424.23,190.47 L424.45,190.21 L424.68,189.96 L424.90,189.71 L425.12,189.45 L425.34,189.20 L425.56,188.95 L425.78,188.69 L426.00,188.44 L426.22,188.19 L426.44,187.94 L426.66,187.68 L426.88,187.43 L427.10,187.18 L427.32,186.92 L427.54,186.67 L427.75,186.42 L427.97,186.16 L428.19,185.91 L428.41,185.66 L428.62,185.41 L428.84,185.15 L429.06,184.90 L429.28,184.65 L429.49,184.40 L429.71,184.14 L429.92,183.89 L430.14,183.64 L430.35,183.39 L430.57,183.14 L430.78,182.89 L431.00,182.63 L431.21,182.38 L431.43,182.13 L431.64,181.88 L431.85,181.63 L432.07,181.38 L432.28,181.13 L432.49,180.88 L432.70,180.62 L432.91,180.37 L433.13,180.12 L433.34,179.87 L433.55,179.62 L433.76,179.37 L433.97,179.12 L434.18,178.87 L434.39,178.62 L434.60,178.36 L434.81,178.11 L435.02,177.86 L435.23,177.61 L435.44,177.36 L435.65,177.10 L435.86,176.85 L436.07,176.59 L436.28,176.34 L436.48,176.09 L436.69,175.83 L436.90,175.57 L437.11,175.32 L437.32,175.06 L437.52,174.80 L437.73,174.55 L437.94,174.29 L438.15,174.03 L438.36,173.77 L438.56,173.51 L438.77,173.25 L438.98,172.98 L439.19,172.72 L439.39,172.46 L439.60,172.19 L439.81,171.93 L440.02,171.66 L440.22,171.39 L440.43,171.12 L440.64,170.86 L440.85,170.59 L441.05,170.31 L441.26,170.04 L441.47,169.77 L441.68,169.49 L441.88,169.22 L442.09,168.94 L442.30,168.66 L442.51,168.38 L442.72,168.10 L442.92,167.82 L443.13,167.54 L443.34,167.25 L443.55,166.96 L443.76,166.68 L443.97,166.39 L444.18,166.10 L444.38,165.81 L444.59,165.51 L444.80,165.22 L445.01,164.92 L445.22,164.63 L445.43,164.33 L445.65,164.04 L445.86,163.74 L446.07,163.45 L446.28,163.15 L446.50,162.86 L446.71,162.56 L446.93,162.27 L447.14,161.98 L447.36,161.69 L447.58,161.40 L447.80,161.12 L448.02,160.84 L448.24,160.56 L448.46,160.28 L448.68,160.00 L448.91,159.73 L449.14,159.47 L449.37,159.20 L449.59,158.94 L449.83,158.69 L450.06,158.43 L450.29,158.19 L450.53,157.95 L450.77,157.71 L451.01,157.48 L451.25,157.25 L451.49,157.03 L451.74,156.81 L451.99,156.60 L452.24,156.40 L452.49,156.21 L452.74,156.02 L453.00,155.83 L453.26,155.66 L453.52,155.49 L453.79,155.33 L454.05,155.18 L454.32,155.03 L454.59,154.90 L454.87,154.77 L455.15,154.65 L455.43,154.54 L455.71,154.44 L455.99,154.35 L456.28,154.27 L456.58,154.20 L456.87,154.14 L457.17,154.08 L457.47,154.04 L457.77,154.00 L458.07,153.96 L458.38,153.94 L458.69,153.92 L459.01,153.91 L459.32,153.91 L459.64,153.91 L459.96,153.91 L460.28,153.93 L460.60,153.94 L460.93,153.96 L461.26,153.99 L461.59,154.02 L461.92,154.05 L462.26,154.09 L462.59,154.13 L462.93,154.17 L463.27,154.22 L463.61,154.27 L463.95,154.31 L464.30,154.37 L464.65,154.42 L464.99,154.47 L465.34,154.52 L465.69,154.58 L466.05,154.63 L466.40,154.68 L466.75,154.74 L467.11,154.79 L467.46,154.84 L467.82,154.90 L468.18,154.95 L468.53,155.01 L468.89,155.06 L469.24,155.12 L469.60,155.18 L469.95,155.24 L470.31,155.30 L470.66,155.37 L471.01,155.44 L471.36,155.51 L471.70,155.58 L472.04,155.66 L472.38,155.74 L472.72,155.82 L473.06,155.91 L473.39,156.00 L473.72,156.10 L474.04,156.20 L474.36,156.31 L474.68,156.42 L474.99,156.53 L475.30,156.65 L475.61,156.78 L475.91,156.90 L476.21,157.04 L476.51,157.17 L476.80,157.31 L477.09,157.46 L477.37,157.61 L477.66,157.76 L477.94,157.91 L478.21,158.08 L478.49,158.24 L478.76,158.41 L479.03,158.58 L479.29,158.75 L479.56,158.93 L479.81,159.12 L480.07,159.30 L480.33,159.49 L480.58,159.68 L480.83,159.88 L481.07,160.08 L481.32,160.28 L481.56,160.49 L481.80,160.70 L482.03,160.91 L482.27,161.12 L482.50,161.34 L482.73,161.56 L482.96,161.79 L483.19,162.01 L483.41,162.24 L483.63,162.48 L483.85,162.71 L484.07,162.95 L484.28,163.19 L484.50,163.43 L484.71,163.68 L484.92,163.92 L485.13,164.17 L485.34,164.42 L485.54,164.68 L485.75,164.93 L485.95,165.19 L486.15,165.45 L486.35,165.71 L486.55,165.98 L486.74,166.24 L486.94,166.51 L487.13,166.78 L487.33,167.05 L487.52,167.33 L487.71,167.60 L487.90,167.88 L488.09,168.16 L488.28,168.44 L488.47,168.72 L488.65,169.00 L488.84,169.28 L489.02,169.57 L489.21,169.85 L489.39,170.14 L489.57,170.43 L489.76,170.72 L489.94,171.01 L490.12,171.30 L490.30,171.59 L490.48,171.88 L490.66,172.18 L490.84,172.47 L491.02,172.77 L491.20,173.06 L491.38,173.36 L491.56,173.65 L491.74,173.95 L491.92,174.25 L492.10,174.55 L492.27,174.84 L492.45,175.14 L492.63,175.44 L492.81,175.74 L492.99,176.04 L493.17,176.34 L493.36,176.63 L493.54,176.93 L493.72,177.23 L493.90,177.53 L494.08,177.83 L494.27,178.13 L494.45,178.42 L494.64,178.72 L494.82,179.02 L495.01,179.31 L495.20,179.61 L495.39,179.90 L495.57,180.20 L495.76,180.49 L495.96,180.78 L496.15,181.07 L496.34,181.36 L496.54,181.65 L496.73,181.94 L496.93,182.23 L497.13,182.52 L497.33,182.80 L497.53,183.09 L497.73,183.37 L497.94,183.65 L498.14,183.93 L498.35,184.21 L498.56,184.49 L498.77,184.76 L498.98,185.04 L499.20,185.31 L499.41,185.58 L499.63,185.84 L499.85,186.10 L500.07,186.36 L500.30,186.62 L500.52,186.87 L500.75,187.12 L500.98,187.37 L501.21,187.61 L501.45,187.84 L501.69,188.07 L501.93,188.30 L502.17,188.52 L502.41,188.74 L502.66,188.95 L502.91,189.16 L503.16,189.35 L503.41,189.55 L503.67,189.74 L503.93,189.92 L504.19,190.09 L504.46,190.26 L504.73,190.42 L505.00,190.57 L505.27,190.72 L505.55,190.85 L505.83,190.98 L506.11,191.10 L506.40,191.22 L506.69,191.32 L506.98,191.42 L507.28,191.50 L507.58,191.58 L507.88,191.65 L508.19,191.71 L508.50,191.76 L508.81,191.80 L509.13,191.83 L509.45,191.84 L509.77,191.85 L510.10,191.85 L510.43,191.84 L510.76,191.82 L511.10,191.78 L511.44,191.74 L511.77,191.69 L512.11,191.64 L512.46,191.57 L512.80,191.50 L513.14,191.41 L513.48,191.33 L513.82,191.23 L514.17,191.13 L514.51,191.01 L514.85,190.90 L515.18,190.78 L515.52,190.65 L515.86,190.51 L516.19,190.37 L516.52,190.23 L516.84,190.08 L517.17,189.92 L517.49,189.76 L517.80,189.60 L518.12,189.43 L518.42,189.26 L518.73,189.09 L519.03,188.91 L519.33,188.73 L519.62,188.54 L519.91,188.35 L520.20,188.16 L520.48,187.97 L520.76,187.77 L521.04,187.56 L521.31,187.36 L521.58,187.15 L521.85,186.94 L522.11,186.72 L522.37,186.50 L522.63,186.28 L522.89,186.06 L523.14,185.83 L523.39,185.60 L523.63,185.37 L523.87,185.14 L524.11,184.90 L524.35,184.66 L524.58,184.42 L524.82,184.18 L525.04,183.93 L525.27,183.69 L525.49,183.44 L525.71,183.19 L525.93,182.93 L526.15,182.68 L526.36,182.42 L526.57,182.16 L526.78,181.90 L526.99,181.64 L527.19,181.38 L527.39,181.12 L527.59,180.85 L527.79,180.59 L527.98,180.32 L528.18,180.05 L528.37,179.78 L528.56,179.51 L528.74,179.24 L528.93,178.97 L529.11,178.70 L529.29,178.43 L529.47,178.15 L529.65,177.88 L529.83,177.61 L530.00,177.33 L530.17,177.06 L530.35,176.78 L530.52,176.50 L530.68,176.23 L530.85,175.95 L531.01,175.67 L531.18,175.39 L531.34,175.11 L531.50,174.82 L531.66,174.54 L531.82,174.25 L531.97,173.97 L532.13,173.68 L532.28,173.39 L532.44,173.10 L532.59,172.80 L532.74,172.51 L532.89,172.21 L533.04,171.91 L533.18,171.61 L533.33,171.31 L533.47,171.01 L533.62,170.70 L533.76,170.39 L533.90,170.08 L534.04,169.77 L534.18,169.45 L534.32,169.13 L534.46,168.81 L534.60,168.49 L534.73,168.16 L534.87,167.83 L535.00,167.50 L535.14,167.16 L535.27,166.82 L535.40,166.48 L535.54,166.14 L535.67,165.79 L535.80,165.44 L535.93,165.09 L536.06,164.73 L536.19,164.37 L536.32,164.01 L536.46,163.65 L536.59,163.29 L536.73,162.93 L536.87,162.58 L537.01,162.23 L537.16,161.88 L537.31,161.54 L537.46,161.20 L537.63,160.88 L537.79,160.56 L537.97,160.25 L538.15,159.95 L538.34,159.66 L538.54,159.39 L538.75,159.13 L538.96,158.88 L539.19,158.65 L539.42,158.43 L539.66,158.23 L539.91,158.05 L540.16,157.88 L540.42,157.73 L540.68,157.61 L540.94,157.50 L541.20,157.41 L541.47,157.34 L541.73,157.29 L542.00,157.26 L542.26,157.26 L542.52,157.28 L542.77,157.32 L543.02,157.39 L543.26,157.48 L543.50,157.60 L543.73,157.74 L543.94,157.91 L544.15,158.11 L544.35,158.33 L544.55,158.57 L544.73,158.84 L544.91,159.12 L545.08,159.41 L545.25,159.73 L545.41,160.05 L545.57,160.39 L545.72,160.74 L545.86,161.09 L546.01,161.46 L546.15,161.82 L546.29,162.19 L546.42,162.56 L546.56,162.93 L546.69,163.29 L546.83,163.65 L546.96,164.01 L547.09,164.37 L547.22,164.73 L547.35,165.08 L547.48,165.43 L547.61,165.78 L547.74,166.12 L547.86,166.47 L547.99,166.81 L548.11,167.15 L548.24,167.48 L548.36,167.82 L548.48,168.15 L548.60,168.48 L548.72,168.81 L548.84,169.14 L548.96,169.47 L549.08,169.79 L549.19,170.11 L549.31,170.44 L549.42,170.76 L549.54,171.08 L549.65,171.39 L549.76,171.71 L549.87,172.03 L549.98,172.34 L550.09,172.66 L550.20,172.97 L550.30,173.28 L550.41,173.59 L550.51,173.91 L550.62,174.22 L550.72,174.53 L550.82,174.84 L550.92,175.15 L551.02,175.45 L551.12,175.76 L551.22,176.07 L551.32,176.38 L551.42,176.69 L551.51,177.00 L551.61,177.31 L551.70,177.61 L551.79,177.92 L551.88,178.23 L551.97,178.54 L552.06,178.85 L552.15,179.16 L552.24,179.47 L552.33,179.78 L552.41,180.09 L552.50,180.40 L552.59,180.72 L552.67,181.03 L552.76,181.34 L552.84,181.65 L552.93,181.97 L553.01,182.28 L553.10,182.59 L553.19,182.91 L553.27,183.23 L553.36,183.54 L553.44,183.86 L553.53,184.18 L553.61,184.49 L553.70,184.81 L553.79,185.13 L553.87,185.45 L553.96,185.77 L554.05,186.09 L554.14,186.41 L554.23,186.74 L554.32,187.06 L554.41,187.39 L554.50,187.71 L554.60,188.04 L554.69,188.36 L554.79,188.69 L554.88,189.02 L554.98,189.35 L555.08,189.68 L555.18,190.01 L555.28,190.35 L555.39,190.68 L555.49,191.01 L555.60,191.35 L555.71,191.69 L555.82,192.02 L555.93,192.36 L556.04,192.70 L556.16,193.04 L556.28,193.39 L556.40,193.73 L556.52,194.07 L556.64,194.42 L556.77,194.77 L556.90,195.11 L557.03,195.46 L557.16,195.81 L557.30,196.17 L557.44,196.52 L557.58,196.88 L557.72,197.23 L557.87,197.58 L558.02,197.94 L558.17,198.29 L558.33,198.63 L558.49,198.97 L558.65,199.31 L558.82,199.63 L558.99,199.95 L559.17,200.26 L559.35,200.56 L559.54,200.84 L559.73,201.12 L559.92,201.37 L560.12,201.62 L560.33,201.85 L560.54,202.06 L560.76,202.25 L560.99,202.42 L561.21,202.58 L561.45,202.71 L561.69,202.82 L561.94,202.90 L562.20,202.96 L562.46,203.00 L562.73,203.00 L563.01,202.98 L563.29,202.94 L563.57,202.88 L563.86,202.79 L564.14,202.69 L564.43,202.58 L564.71,202.45 L564.98,202.31 L565.25,202.16 L565.52,202.00 L565.78,201.82 L566.03,201.64 L566.28,201.46 L566.52,201.26 L566.76,201.05 L567.00,200.84 L567.23,200.61 L567.46,200.38 L567.68,200.15 L567.90,199.90 L568.12,199.65 L568.33,199.39 L568.54,199.12 L568.74,198.85 L568.94,198.58 L569.14,198.29 L569.33,198.01 L569.53,197.71 L569.72,197.42 L569.90,197.12 L570.09,196.81 L570.27,196.50 L570.45,196.19 L570.62,195.87 L570.80,195.55 L570.97,195.23 L571.14,194.90 L571.31,194.58 L571.48,194.25 L571.64,193.92 L571.81,193.59 L571.97,193.25 L572.14,192.92 L572.30,192.59 L572.46,192.25 L572.62,191.92 L572.78,191.58 L572.94,191.25 L573.10,190.92 L573.25,190.59 L573.41,190.26 L573.57,189.93 L573.73,189.60 L573.89,189.28 L574.05,188.96 L574.21,188.64 L574.37,188.32 L574.53,188.01 L574.69,187.70 L574.85,187.39 L575.02,187.08 L575.18,186.78 L575.34,186.48 L575.50,186.18 L575.67,185.88 L575.83,185.59 L575.99,185.29 L576.16,185.00 L576.32,184.71 L576.48,184.42 L576.65,184.13 L576.81,183.85 L576.97,183.56 L577.13,183.28 L577.30,183.00 L577.46,182.71 L577.62,182.43 L577.78,182.15 L577.94,181.87 L578.10,181.59 L578.26,181.31 L578.42,181.03 L578.58,180.75 L578.73,180.47 L578.89,180.19 L579.04,179.91 L579.20,179.63 L579.35,179.35 L579.50,179.06 L579.65,178.78 L579.80,178.50 L579.95,178.22 L580.10,177.93 L580.25,177.64 L580.39,177.36 L580.54,177.07 L580.68,176.78 L580.82,176.49 L580.96,176.20 L581.10,175.90 L581.24,175.61 L581.37,175.31 L581.51,175.01 L581.64,174.71 L581.78,174.41 L581.91,174.11 L582.05,173.81 L582.18,173.51 L582.31,173.21 L582.44,172.90 L582.58,172.60 L582.71,172.29 L582.84,171.98 L582.98,171.68 L583.11,171.37 L583.25,171.06 L583.38,170.75 L583.52,170.44 L583.65,170.13 L583.79,169.82 L583.93,169.51 L584.07,169.20 L584.21,168.89 L584.35,168.58 L584.50,168.27 L584.64,167.96 L584.79,167.65 L584.94,167.34 L585.09,167.03 L585.24,166.72 L585.40,166.41 L585.56,166.10 L585.72,165.79 L585.88,165.48 L586.04,165.17 L586.21,164.86 L586.38,164.56 L586.55,164.25 L586.73,163.94 L586.91,163.64 L587.09,163.33 L587.28,163.03 L587.46,162.72 L587.66,162.42 L587.85,162.12 L588.05,161.82 L588.26,161.52 L588.46,161.22 L588.67,160.92 L588.89,160.63 L589.10,160.34 L589.32,160.05 L589.55,159.76 L589.78,159.48 L590.01,159.21 L590.24,158.93 L590.47,158.67 L590.71,158.41 L590.95,158.15 L591.20,157.90 L591.44,157.66 L591.69,157.42 L591.94,157.20 L592.20,156.98 L592.45,156.76 L592.71,156.56 L592.97,156.37 L593.23,156.18 L593.49,156.01 L593.76,155.84 L594.02,155.69 L594.29,155.54 L594.56,155.41 L594.83,155.29 L595.10,155.18 L595.38,155.09 L595.65,155.00 L595.93,154.93 L596.20,154.88 L596.48,154.84 L596.76,154.81 L597.04,154.80 L597.32,154.80 L597.60,154.82 L597.88,154.85 L598.16,154.90 L598.44,154.96 L598.72,155.04 L599.00,155.13 L599.28,155.23 L599.56,155.35 L599.84,155.48 L600.11,155.62 L600.39,155.77 L600.67,155.94 L600.94,156.11 L601.22,156.29 L601.49,156.49 L601.76,156.69 L602.03,156.90 L602.29,157.13 L602.56,157.36 L602.82,157.59 L603.08,157.84 L603.34,158.09 L603.59,158.35 L603.84,158.62 L604.09,158.89 L604.34,159.16 L604.58,159.45 L604.82,159.73 L605.06,160.02 L605.29,160.32 L605.52,160.62 L605.75,160.92 L605.97,161.22 L606.18,161.53 L606.40,161.83 L606.60,162.14 L606.81,162.45 L607.01,162.76 L607.20,163.07 L607.39,163.38 L607.57,163.69 L607.75,164.00 L607.93,164.31 L608.10,164.62 L608.27,164.93 L608.43,165.24 L608.59,165.55 L608.75,165.86 L608.90,166.16 L609.05,166.47 L609.20,166.78 L609.34,167.09 L609.49,167.39 L609.63,167.70 L609.77,168.00 L609.90,168.30 L610.04,168.61 L610.17,168.91 L610.31,169.21 L610.44,169.51 L610.57,169.81 L610.70,170.11 L610.83,170.41 L610.96,170.70 L611.09,171.00 L611.22,171.29 L611.35,171.59 L611.49,171.88 L611.62,172.17 L611.75,172.46 L611.89,172.75 L612.02,173.04 L612.16,173.33 L612.29,173.61 L612.43,173.90 L612.57,174.19 L612.71,174.47 L612.85,174.76 L612.99,175.04 L613.13,175.33 L613.27,175.61 L613.41,175.89 L613.55,176.18 L613.69,176.46 L613.83,176.75 L613.98,177.03 L614.12,177.32 L614.26,177.61 L614.41,177.89 L614.55,178.18 L614.69,178.47 L614.84,178.76 L614.98,179.05 L615.13,179.34 L615.27,179.63 L615.42,179.93 L615.56,180.22 L615.70,180.52 L615.85,180.82 L615.99,181.12 L616.14,181.42 L616.28,181.73 L616.42,182.03 L616.57,182.34 L616.71,182.65 L616.85,182.97 L616.99,183.28 L617.13,183.60 L617.28,183.92 L617.42,184.24 L617.56,184.57 L617.70,184.89 L617.84,185.22 L617.98,185.56 L618.11,185.90 L618.25,186.24 L618.39,186.58 L618.52,186.93 L618.66,187.28 L618.79,187.63 L618.93,187.99 L619.06,188.35 L619.20,188.71 L619.33,189.07 L619.46,189.44 L619.60,189.80 L619.73,190.16 L619.87,190.53 L620.01,190.89 L620.14,191.25 L620.28,191.61 L620.42,191.96 L620.57,192.31 L620.71,192.66 L620.86,193.00 L621.01,193.34 L621.16,193.67 L621.32,194.00 L621.48,194.32 L621.64,194.63 L621.81,194.93 L621.98,195.23 L622.15,195.52 L622.33,195.79 L622.52,196.06 L622.70,196.31 L622.90,196.56 L623.10,196.79 L623.30,197.01 L623.51,197.22 L623.72,197.41 L623.94,197.59 L624.17,197.75 L624.39,197.90 L624.62,198.01 L624.85,198.11 L625.08,198.18 L625.30,198.22 L625.53,198.22 L625.74,198.20 L625.96,198.14 L626.17,198.06 L626.38,197.95 L626.59,197.81 L626.79,197.65 L626.99,197.47 L627.19,197.26 L627.38,197.04 L627.56,196.79 L627.75,196.53 L627.93,196.25 L628.11,195.96 L628.28,195.66 L628.45,195.35 L628.62,195.02 L628.78,194.69 L628.94,194.35 L629.10,194.00 L629.25,193.66 L629.40,193.31 L629.54,192.95 L629.68,192.60 L629.82,192.25 L629.95,191.90 L630.08,191.55 L630.21,191.19 L630.33,190.84 L630.45,190.49 L630.57,190.14 L630.68,189.79 L630.79,189.44 L630.89,189.09 L631.00,188.74 L631.09,188.39 L631.19,188.04 L631.28,187.69 L631.37,187.34 L631.46,186.99 L631.54,186.65 L631.63,186.30 L631.70,185.96 L631.78,185.62 L631.85,185.27 L631.92,184.93 L631.99,184.59 L632.05,184.26 L632.11,183.92 L632.17,183.58 L632.23,183.25 L632.28,182.91 L632.33,182.58 L632.38,182.25 L632.43,181.92 L632.48,181.59 L632.52,181.26 L632.56,180.93 L632.60,180.60 L632.64,180.28 L632.68,179.95 L632.72,179.63 L632.75,179.30 L632.79,178.98 L632.82,178.65 L632.85,178.33 L632.89,178.00 L632.92,177.68 L632.95,177.36 L632.98,177.03 L633.01,176.71 L633.05,176.39 L633.08,176.06 L633.11,175.74 L633.14,175.42 L633.17,175.09 L633.20,174.77 L633.24,174.45 L633.27,174.12 L633.31,173.80 L633.34,173.47 L633.38,173.14 L633.42,172.82 L633.46,172.49 L633.50,172.16 L633.54,171.83 L633.58,171.50 L633.63,171.17 L633.68,170.84 L633.73,170.51 L633.78,170.17 L633.83,169.84 L633.89,169.50 L633.95,169.17 L634.01,168.83 L634.07,168.49 L634.14,168.15 L634.20,167.81 L634.27,167.47 L634.35,167.12 L634.42,166.78 L634.50,166.44 L634.58,166.09 L634.67,165.75 L634.75,165.41 L634.84,165.06 L634.93,164.72 L635.02,164.38 L635.12,164.04 L635.22,163.69 L635.32,163.35 L635.42,163.01 L635.53,162.67 L635.64,162.33 L635.75,162.00 L635.86,161.66 L635.98,161.32 L636.10,160.99 L636.22,160.66 L636.35,160.33 L636.48,160.00 L636.61,159.67 L636.74,159.34 L636.88,159.02 L637.02,158.70 L637.16,158.38 L637.30,158.06 L637.45,157.74 L637.60,157.43 L637.75,157.12 L637.91,156.82 L638.06,156.51 L638.23,156.21 L638.39,155.91 L638.56,155.62 L638.73,155.32 L638.90,155.04 L639.08,154.75 L639.25,154.47 L639.44,154.19 L639.62,153.92 L639.81,153.65 L640.00,153.38 L640.19,153.12 L640.39,152.86 L640.59,152.61 L640.79,152.36 L640.99,152.11 L641.20,151.87 L641.41,151.64 L641.63,151.41 L641.84,151.18 L642.07,150.96 L642.29,150.75 L642.52,150.54 L642.75,150.33 L642.98,150.13 L643.21,149.94 L643.45,149.75 L643.70,149.57 L643.94,149.39 L644.19,149.22 L644.44,149.06 L644.70,148.90 L644.95,148.75 L645.22,148.60 L645.48,148.46 L645.75,148.33 L646.02,148.21 L646.29,148.09 L646.57,147.98 L646.85,147.87 L647.14,147.77 L647.42,147.68 L647.72,147.60 L648.01,147.53 L648.31,147.46 L648.61,147.40 L648.91,147.35 L649.22,147.30 L649.53,147.27 L649.85,147.24 L650.16,147.22 L650.48,147.21 L650.81,147.20 L651.14,147.21 L651.47,147.22 L651.80,147.24 L652.14,147.27 L652.48,147.31 L652.82,147.36 L653.17,147.41 L653.51,147.47 L653.86,147.54 L654.21,147.61 L654.56,147.69 L654.92,147.78 L655.27,147.87 L655.62,147.97 L655.98,148.08 L656.34,148.19 L656.69,148.30 L657.05,148.43 L657.40,148.55 L657.76,148.69 L658.11,148.82 L658.47,148.97 L658.82,149.11 L659.17,149.26 L659.53,149.42 L659.87,149.58 L660.22,149.74 L660.57,149.91 L660.91,150.08 L661.25,150.25 L661.59,150.43 L661.93,150.60 L662.26,150.79 L662.59,150.97 L662.91,151.16 L663.24,151.34 L663.56,151.53 L663.87,151.72 L664.18,151.92 L664.49,152.11 L664.79,152.31 L665.09,152.51 L665.38,152.70 L665.67,152.90 L665.95,153.10 L666.23,153.30 L666.50,153.50 L666.76,153.70 L667.02,153.89 L667.27,154.09 L667.52,154.29 L667.76,154.49 L667.99,154.68 L668.21,154.87 L668.43,155.07 L668.64,155.26 L668.84,155.45 L669.04,155.63 L669.22,155.82 L669.40,156.00" stroke="#228b22" stroke-width="2.5" fill="none" stroke-linecap="square" stroke-linejoin="round" clip-path="url(#c3)"/>
<rect x="371.00" y="144.50" width="312.50" height="83.90" fill="none" stroke="#333333" stroke-width="1.0"/>
<path d="M382.40,228.40v2.6 M418.28,228.40v2.6 M454.16,228.40v2.6 M490.04,228.40v2.6 M525.92,228.40v2.6 M561.81,228.40v2.6 M597.69,228.40v2.6 M633.57,228.40v2.6 M669.45,228.40v2.6 M371.00,221.30h-2.6 M371.00,197.90h-2.6 M371.00,174.80h-2.6 M371.00,151.70h-2.6" stroke="#262626" stroke-width="0.9" fill="none"/>
<text transform="translate(382.40,239.20) scale(0.87,1)" class="tk" text-anchor="middle">0</text>
<text transform="translate(418.28,239.20) scale(0.87,1)" class="tk" text-anchor="middle">2500</text>
<text transform="translate(454.16,239.20) scale(0.87,1)" class="tk" text-anchor="middle">5000</text>
<text transform="translate(490.04,239.20) scale(0.87,1)" class="tk" text-anchor="middle">7500</text>
<text transform="translate(525.92,239.20) scale(0.87,1)" class="tk" text-anchor="middle">10000</text>
<text transform="translate(561.81,239.20) scale(0.87,1)" class="tk" text-anchor="middle">12500</text>
<text transform="translate(597.69,239.20) scale(0.87,1)" class="tk" text-anchor="middle">15000</text>
<text transform="translate(633.57,239.20) scale(0.87,1)" class="tk" text-anchor="middle">17500</text>
<text transform="translate(669.45,239.20) scale(0.87,1)" class="tk" text-anchor="middle">20000</text>
<text transform="translate(365.40,224.50) scale(0.87,1)" class="tk" text-anchor="end">60</text>
<text transform="translate(365.40,201.10) scale(0.87,1)" class="tk" text-anchor="end">65</text>
<text transform="translate(365.40,178.00) scale(0.87,1)" class="tk" text-anchor="end">70</text>
<text transform="translate(365.40,154.90) scale(0.87,1)" class="tk" text-anchor="end">75</text>
<text x="527.25" y="139.80" class="ti" text-anchor="middle" textLength="108.80" lengthAdjust="spacingAndGlyphs">Magnitude Respons 007-R</text>
<text x="527.25" y="250.20" class="xl" text-anchor="middle" textLength="52.60" lengthAdjust="spacingAndGlyphs">Frequency (Hz)</text>
<text transform="translate(351.40,186.95) rotate(-90)" class="yl" text-anchor="middle" textLength="59.40" lengthAdjust="spacingAndGlyphs">Magnitude (dB)</text>
<text x="461.60" y="169.80" class="lb" text-anchor="middle">P1</text>
<text x="511.65" y="206.10" class="lb" text-anchor="middle">N1</text>
<text x="540.85" y="180.10" class="lb" text-anchor="middle">P2</text>
<text x="561.90" y="216.20" class="lb" text-anchor="middle">N2</text>
<text x="597.05" y="172.80" class="lb" text-anchor="middle">P3</text>
<text x="625.40" y="213.90" class="lb" text-anchor="middle">N3</text>
<text x="651.10" y="164.40" class="lb" text-anchor="middle">P4</text>
<path d="M36.45,275.40V359.90 M72.33,275.40V359.90 M108.20,275.40V359.90 M144.07,275.40V359.90 M179.95,275.40V359.90 M215.82,275.40V359.90 M251.70,275.40V359.90 M287.57,275.40V359.90 M323.45,275.40V359.90 M25.50,343.80H338.00 M25.50,325.60H338.00 M25.50,307.40H338.00 M25.50,289.20H338.00" stroke="#c4c4c4" stroke-width="0.9" fill="none"/>
<clipPath id="c4"><rect x="25.50" y="275.40" width="312.50" height="84.50"/></clipPath>
<path d="M39.67,310.14 L39.96,310.13 L40.25,310.11 L40.55,310.09 L40.84,310.06 L41.13,310.04 L41.42,310.01 L41.71,309.99 L42.00,309.96 L42.29,309.92 L42.58,309.89 L42.87,309.86 L43.16,309.82 L43.44,309.78 L43.73,309.74 L44.01,309.70 L44.30,309.66 L44.58,309.62 L44.87,309.57 L45.15,309.52 L45.44,309.48 L45.72,309.43 L46.00,309.37 L46.28,309.32 L46.56,309.27 L46.84,309.21 L47.13,309.15 L47.40,309.09 L47.68,309.03 L47.96,308.97 L48.24,308.91 L48.52,308.84 L48.80,308.78 L49.07,308.71 L49.35,308.64 L49.63,308.57 L49.90,308.50 L50.18,308.43 L50.45,308.35 L50.73,308.28 L51.00,308.20 L51.27,308.12 L51.55,308.05 L51.82,307.97 L52.09,307.88 L52.36,307.80 L52.64,307.72 L52.91,307.63 L53.18,307.55 L53.45,307.46 L53.72,307.37 L53.99,307.28 L54.26,307.19 L54.53,307.10 L54.79,307.01 L55.06,306.92 L55.33,306.82 L55.60,306.73 L55.86,306.63 L56.13,306.53 L56.40,306.43 L56.66,306.33 L56.93,306.23 L57.20,306.13 L57.46,306.03 L57.73,305.93 L57.99,305.82 L58.25,305.72 L58.52,305.61 L58.78,305.50 L59.05,305.40 L59.31,305.29 L59.57,305.18 L59.84,305.07 L60.10,304.96 L60.36,304.85 L60.62,304.73 L60.88,304.62 L61.14,304.51 L61.41,304.39 L61.67,304.28 L61.93,304.16 L62.19,304.04 L62.45,303.93 L62.71,303.81 L62.97,303.69 L63.23,303.57 L63.49,303.45 L63.75,303.33 L64.01,303.21 L64.27,303.09 L64.52,302.96 L64.78,302.84 L65.04,302.72 L65.30,302.59 L65.56,302.47 L65.82,302.34 L66.07,302.22 L66.33,302.09 L66.59,301.97 L66.85,301.84 L67.10,301.71 L67.36,301.59 L67.62,301.46 L67.87,301.33 L68.13,301.20 L68.39,301.07 L68.64,300.94 L68.90,300.81 L69.16,300.68 L69.41,300.55 L69.67,300.42 L69.93,300.29 L70.18,300.16 L70.44,300.03 L70.69,299.90 L70.95,299.77 L71.21,299.63 L71.46,299.50 L71.72,299.37 L71.97,299.24 L72.23,299.10 L72.48,298.97 L72.74,298.84 L73.00,298.71 L73.25,298.57 L73.51,298.44 L73.76,298.31 L74.02,298.17 L74.27,298.04 L74.53,297.91 L74.78,297.77 L75.04,297.64 L75.30,297.51 L75.55,297.37 L75.81,297.24 L76.06,297.11 L76.32,296.97 L76.57,296.84 L76.83,296.71 L77.09,296.57 L77.34,296.44 L77.60,296.31 L77.85,296.17 L78.11,296.04 L78.37,295.91 L78.62,295.78 L78.88,295.65 L79.14,295.52 L79.39,295.38 L79.65,295.25 L79.91,295.12 L80.16,294.99 L80.42,294.86 L80.68,294.73 L80.93,294.60 L81.19,294.47 L81.45,294.34 L81.71,294.21 L81.96,294.09 L82.22,293.96 L82.48,293.83 L82.74,293.70 L83.00,293.58 L83.26,293.45 L83.51,293.32 L83.77,293.20 L84.03,293.07 L84.29,292.95 L84.55,292.83 L84.81,292.70 L85.07,292.58 L85.33,292.46 L85.59,292.34 L85.85,292.21 L86.11,292.09 L86.37,291.97 L86.64,291.86 L86.90,291.74 L87.16,291.62 L87.42,291.50 L87.68,291.38 L87.95,291.27 L88.21,291.15 L88.47,291.04 L88.73,290.92 L89.00,290.81 L89.26,290.70 L89.53,290.59 L89.79,290.48 L90.06,290.37 L90.32,290.26 L90.59,290.15 L90.85,290.04 L91.12,289.93 L91.38,289.83 L91.65,289.72 L91.92,289.62 L92.18,289.51 L92.45,289.41 L92.72,289.31 L92.98,289.21 L93.25,289.11 L93.52,289.01 L93.79,288.91 L94.06,288.82 L94.33,288.72 L94.59,288.63 L94.86,288.53 L95.13,288.44 L95.40,288.35 L95.67,288.26 L95.94,288.17 L96.21,288.08 L96.48,288.00 L96.75,287.91 L97.03,287.83 L97.30,287.74 L97.57,287.66 L97.84,287.58 L98.11,287.50 L98.38,287.42 L98.66,287.34 L98.93,287.27 L99.20,287.19 L99.47,287.12 L99.75,287.05 L100.02,286.98 L100.29,286.91 L100.57,286.84 L100.84,286.77 L101.12,286.70 L101.39,286.64 L101.67,286.58 L101.94,286.52 L102.21,286.46 L102.49,286.40 L102.76,286.34 L103.04,286.29 L103.32,286.23 L103.59,286.18 L103.87,286.13 L104.14,286.08 L104.42,286.03 L104.70,285.98 L104.97,285.94 L105.25,285.89 L105.53,285.85 L105.80,285.81 L106.08,285.77 L106.36,285.74 L106.63,285.70 L106.91,285.67 L107.19,285.64 L107.47,285.61 L107.75,285.58 L108.02,285.55 L108.30,285.53 L108.58,285.50 L108.86,285.48 L109.14,285.46 L109.42,285.44 L109.69,285.43 L109.97,285.41 L110.25,285.40 L110.53,285.39 L110.81,285.38 L111.09,285.37 L111.37,285.37 L111.65,285.36 L111.93,285.36 L112.21,285.36 L112.49,285.37 L112.77,285.37 L113.05,285.38 L113.33,285.39 L113.61,285.40 L113.89,285.41 L114.17,285.42 L114.45,285.44 L114.73,285.46 L115.01,285.48 L115.30,285.50 L115.58,285.53 L115.86,285.55 L116.14,285.58 L116.42,285.61 L116.70,285.65 L116.98,285.68 L117.26,285.72 L117.55,285.76 L117.83,285.80 L118.11,285.84 L118.39,285.88 L118.67,285.93 L118.95,285.98 L119.24,286.02 L119.52,286.08 L119.80,286.13 L120.08,286.18 L120.36,286.24 L120.64,286.29 L120.93,286.35 L121.21,286.41 L121.49,286.47 L121.77,286.53 L122.05,286.60 L122.34,286.66 L122.62,286.73 L122.90,286.80 L123.18,286.87 L123.46,286.94 L123.75,287.01 L124.03,287.08 L124.31,287.15 L124.59,287.23 L124.87,287.30 L125.16,287.38 L125.44,287.45 L125.72,287.53 L126.00,287.61 L126.28,287.69 L126.56,287.77 L126.85,287.85 L127.13,287.94 L127.41,288.02 L127.69,288.10 L127.97,288.19 L128.25,288.27 L128.53,288.36 L128.82,288.44 L129.10,288.53 L129.38,288.62 L129.66,288.71 L129.94,288.79 L130.22,288.88 L130.50,288.97 L130.78,289.06 L131.06,289.15 L131.34,289.24 L131.62,289.33 L131.90,289.42 L132.18,289.51 L132.46,289.60 L132.74,289.69 L133.02,289.79 L133.30,289.88 L133.58,289.97 L133.86,290.06 L134.14,290.15 L134.42,290.24 L134.70,290.33 L134.98,290.42 L135.26,290.51 L135.54,290.60 L135.81,290.69 L136.09,290.78 L136.37,290.87 L136.65,290.96 L136.93,291.05 L137.20,291.14 L137.48,291.23 L137.76,291.32 L138.04,291.41 L138.31,291.49 L138.59,291.58 L138.87,291.66 L139.14,291.75 L139.42,291.83 L139.70,291.92 L139.97,292.00 L140.25,292.08 L140.52,292.17 L140.80,292.25 L141.07,292.33 L141.35,292.41 L141.62,292.48 L141.90,292.56 L142.17,292.64 L142.45,292.71 L142.72,292.79 L142.99,292.86 L143.27,292.94 L143.54,293.01 L143.82,293.08 L144.09,293.15 L144.36,293.22 L144.63,293.29 L144.91,293.36 L145.18,293.42 L145.45,293.49 L145.73,293.55 L146.00,293.62 L146.27,293.68 L146.54,293.74 L146.82,293.80 L147.09,293.86 L147.36,293.92 L147.63,293.97 L147.91,294.03 L148.18,294.08 L148.45,294.14 L148.72,294.19 L148.99,294.24 L149.27,294.29 L149.54,294.34 L149.81,294.39 L150.08,294.44 L150.36,294.48 L150.63,294.53 L150.90,294.57 L151.17,294.61 L151.45,294.65 L151.72,294.69 L151.99,294.73 L152.26,294.77 L152.54,294.80 L152.81,294.84 L153.08,294.87 L153.36,294.90 L153.63,294.93 L153.90,294.96 L154.18,294.99 L154.45,295.01 L154.73,295.04 L155.00,295.06 L155.27,295.08 L155.55,295.10 L155.82,295.12 L156.10,295.14 L156.37,295.16 L156.65,295.17 L156.92,295.18 L157.20,295.20 L157.47,295.21 L157.75,295.21 L158.03,295.22 L158.30,295.23 L158.58,295.23 L158.86,295.23 L159.14,295.23 L159.41,295.23 L159.69,295.23 L159.97,295.23 L160.25,295.22 L160.53,295.22 L160.81,295.21 L161.08,295.20 L161.36,295.18 L161.64,295.17 L161.93,295.16 L162.21,295.14 L162.49,295.12 L162.77,295.10 L163.05,295.08 L163.33,295.05 L163.62,295.03 L163.90,295.00 L164.18,294.97 L164.47,294.94 L164.75,294.91 L165.03,294.87 L165.32,294.84 L165.60,294.80 L165.89,294.76 L166.18,294.72 L166.46,294.67 L166.75,294.63 L167.04,294.58 L167.33,294.53 L167.62,294.48 L167.90,294.42 L168.19,294.37 L168.48,294.31 L168.78,294.25 L169.07,294.19 L169.36,294.13 L169.65,294.06 L169.94,294.00 L170.24,293.93 L170.53,293.86 L170.82,293.79 L171.12,293.71 L171.41,293.64 L171.71,293.56 L172.00,293.49 L172.30,293.41 L172.59,293.33 L172.89,293.25 L173.19,293.17 L173.48,293.09 L173.78,293.01 L174.07,292.93 L174.37,292.84 L174.66,292.76 L174.96,292.68 L175.25,292.60 L175.55,292.52 L175.84,292.44 L176.14,292.36 L176.43,292.28 L176.73,292.20 L177.02,292.12 L177.31,292.04 L177.61,291.96 L177.90,291.89 L178.19,291.81 L178.48,291.74 L178.77,291.67 L179.06,291.60 L179.35,291.53 L179.64,291.46 L179.93,291.40 L180.21,291.34 L180.50,291.28 L180.78,291.22 L181.07,291.16 L181.35,291.11 L181.63,291.06 L181.91,291.01 L182.19,290.96 L182.47,290.92 L182.75,290.88 L183.03,290.84 L183.30,290.81 L183.58,290.78 L183.85,290.75 L184.12,290.73 L184.39,290.71 L184.66,290.69 L184.93,290.68 L185.20,290.67 L185.46,290.67 L185.72,290.67 L185.99,290.67 L186.25,290.68 L186.50,290.70 L186.76,290.71 L187.01,290.74 L187.27,290.76 L187.52,290.80 L187.77,290.83 L188.02,290.88 L188.26,290.93 L188.51,290.98 L188.75,291.04 L188.99,291.10 L189.23,291.17 L189.46,291.25 L189.70,291.33 L189.93,291.42 L190.16,291.51 L190.38,291.62 L190.61,291.72 L190.83,291.84 L191.05,291.96 L191.27,292.08 L191.48,292.22 L191.70,292.36 L191.91,292.50 L192.12,292.66 L192.32,292.81 L192.53,292.98 L192.73,293.15 L192.93,293.32 L193.12,293.51 L193.32,293.69 L193.51,293.88 L193.70,294.08 L193.89,294.28 L194.07,294.49 L194.26,294.70 L194.44,294.92 L194.62,295.14 L194.79,295.36 L194.97,295.59 L195.14,295.82 L195.31,296.06 L195.48,296.30 L195.65,296.54 L195.81,296.79 L195.97,297.04 L196.13,297.30 L196.29,297.55 L196.44,297.81 L196.60,298.08 L196.75,298.34 L196.90,298.61 L197.04,298.88 L197.19,299.16 L197.33,299.43 L197.47,299.71 L197.61,299.99 L197.75,300.27 L197.88,300.55 L198.02,300.84 L198.15,301.13 L198.28,301.41 L198.40,301.70 L198.53,301.99 L198.65,302.28 L198.77,302.57 L198.89,302.87 L199.01,303.16 L199.12,303.45 L199.24,303.74 L199.35,304.04 L199.46,304.33 L199.56,304.62 L199.67,304.92 L199.77,305.21 L199.88,305.50 L199.98,305.79 L200.07,306.08 L200.17,306.37 L200.27,306.66 L200.36,306.95 L200.45,307.24 L200.54,307.52 L200.63,307.81 L200.71,308.09 L200.80,308.37 L200.88,308.65 L200.96,308.94 L201.04,309.22 L201.12,309.50 L201.20,309.78 L201.27,310.05 L201.35,310.33 L201.42,310.61 L201.49,310.88 L201.57,311.16 L201.64,311.43 L201.70,311.71 L201.77,311.98 L201.84,312.26 L201.91,312.53 L201.97,312.80 L202.04,313.08 L202.10,313.35 L202.16,313.62 L202.22,313.89 L202.28,314.16 L202.35,314.43 L202.41,314.70 L202.46,314.97 L202.52,315.24 L202.58,315.51 L202.64,315.78 L202.70,316.05 L202.76,316.32 L202.81,316.59 L202.87,316.86 L202.93,317.13 L202.98,317.40 L203.04,317.67 L203.09,317.94 L203.15,318.21 L203.21,318.48 L203.26,318.75 L203.32,319.03 L203.38,319.30 L203.43,319.57 L203.49,319.84 L203.55,320.11 L203.60,320.38 L203.66,320.66 L203.72,320.93 L203.78,321.20 L203.84,321.48 L203.89,321.75 L203.95,322.03 L204.01,322.30 L204.07,322.58 L204.13,322.85 L204.19,323.13 L204.25,323.41 L204.31,323.68 L204.37,323.96 L204.43,324.24 L204.49,324.52 L204.55,324.79 L204.61,325.07 L204.67,325.35 L204.73,325.63 L204.79,325.91 L204.85,326.19 L204.91,326.47 L204.98,326.75 L205.04,327.03 L205.10,327.31 L205.16,327.59 L205.22,327.87 L205.28,328.15 L205.34,328.43 L205.40,328.71 L205.46,328.99 L205.52,329.28 L205.58,329.56 L205.64,329.84 L205.70,330.12 L205.75,330.40 L205.81,330.69 L205.87,330.97 L205.93,331.25 L205.99,331.54 L206.05,331.82 L206.10,332.10 L206.16,332.39 L206.22,332.67 L206.27,332.95 L206.33,333.24 L206.38,333.52 L206.44,333.80 L206.49,334.09 L206.55,334.37 L206.60,334.65 L206.65,334.94 L206.71,335.22 L206.76,335.50 L206.81,335.79 L206.86,336.07 L206.91,336.36 L206.96,336.64 L207.01,336.92 L207.06,337.21 L207.11,337.49 L207.16,337.78 L207.21,338.06 L207.25,338.34 L207.30,338.63 L207.34,338.91 L207.39,339.19 L207.43,339.48 L207.47,339.76 L207.52,340.04 L207.56,340.33 L207.60,340.61 L207.64,340.89 L207.68,341.17 L207.72,341.46 L207.75,341.74 L207.79,342.02 L207.83,342.30 L207.86,342.59 L207.89,342.87 L207.93,343.15 L207.96,343.43 L207.99,343.71 L208.02,343.99 L208.05,344.27 L208.08,344.55 L208.11,344.83 L208.13,345.11 L208.16,345.39 L208.18,345.67 L208.20,345.95 L208.23,346.23 L208.25,346.51 L208.27,346.79 L208.28,347.07 L208.30,347.35 L208.32,347.63 L208.33,347.90 L208.35,348.18 L208.36,348.46 L208.37,348.75 L208.38,349.04 L208.39,349.33 L208.40,349.62 L208.41,349.93 L208.42,350.24 L208.42,350.55 L208.43,350.88 L208.43,351.22 L208.44,351.56 L208.44,351.92 L208.45,352.28 L208.45,352.64 L208.45,353.00 L208.45,353.34 L208.46,353.67 L208.46,353.98 L208.46,354.26 L208.47,354.50 L208.48,354.70 L208.48,354.86 L208.49,354.96 L208.50,355.00 L208.52,354.98 L208.53,354.90 L208.55,354.76 L208.57,354.58 L208.59,354.35 L208.61,354.09 L208.63,353.79 L208.65,353.47 L208.67,353.13 L208.69,352.78 L208.71,352.42 L208.73,352.06 L208.75,351.70 L208.77,351.35 L208.79,351.01 L208.80,350.68 L208.82,350.36 L208.83,350.05 L208.85,349.74 L208.87,349.44 L208.88,349.15 L208.90,348.86 L208.92,348.57 L208.93,348.29 L208.95,348.01 L208.97,347.73 L208.99,347.45 L209.01,347.17 L209.04,346.90 L209.06,346.62 L209.09,346.34 L209.12,346.06 L209.15,345.78 L209.17,345.50 L209.21,345.22 L209.24,344.94 L209.27,344.66 L209.30,344.38 L209.34,344.10 L209.37,343.82 L209.41,343.54 L209.45,343.26 L209.49,342.97 L209.52,342.69 L209.56,342.41 L209.60,342.13 L209.64,341.85 L209.68,341.57 L209.73,341.28 L209.77,341.00 L209.81,340.72 L209.85,340.44 L209.89,340.15 L209.94,339.87 L209.98,339.59 L210.02,339.30 L210.07,339.02 L210.11,338.74 L210.15,338.45 L210.20,338.17 L210.24,337.89 L210.28,337.60 L210.33,337.32 L210.37,337.03 L210.41,336.75 L210.45,336.46 L210.49,336.18 L210.53,335.90 L210.58,335.61 L210.62,335.33 L210.66,335.04 L210.69,334.75 L210.73,334.47 L210.77,334.18 L210.81,333.90 L210.84,333.61 L210.88,333.33 L210.91,333.04 L210.95,332.76 L210.98,332.47 L211.02,332.18 L211.05,331.90 L211.08,331.61 L211.12,331.33 L211.15,331.04 L211.18,330.75 L211.22,330.47 L211.25,330.18 L211.28,329.90 L211.32,329.61 L211.35,329.33 L211.38,329.04 L211.42,328.76 L211.45,328.47 L211.49,328.19 L211.53,327.91 L211.57,327.62 L211.61,327.34 L211.64,327.05 L211.69,326.77 L211.73,326.49 L211.77,326.21 L211.82,325.92 L211.86,325.64 L211.91,325.36 L211.96,325.08 L212.01,324.80 L212.06,324.52 L212.11,324.24 L212.17,323.96 L212.22,323.68 L212.28,323.40 L212.34,323.13 L212.41,322.85 L212.47,322.57 L212.54,322.30 L212.61,322.02 L212.68,321.75 L212.76,321.47 L212.84,321.20 L212.92,320.93 L213.00,320.65 L213.08,320.38 L213.17,320.11 L213.26,319.84 L213.36,319.57 L213.45,319.30 L213.55,319.04 L213.65,318.77 L213.76,318.50 L213.87,318.24 L213.98,317.97 L214.09,317.71 L214.20,317.45 L214.32,317.19 L214.44,316.93 L214.56,316.67 L214.69,316.41 L214.81,316.15 L214.94,315.89 L215.07,315.64 L215.21,315.38 L215.34,315.13 L215.48,314.88 L215.62,314.63 L215.76,314.38 L215.90,314.13 L216.05,313.89 L216.20,313.64 L216.35,313.40 L216.50,313.15 L216.65,312.91 L216.80,312.67 L216.96,312.44 L217.12,312.20 L217.28,311.96 L217.44,311.73 L217.60,311.50 L217.77,311.27 L217.93,311.04 L218.10,310.81 L218.27,310.59 L218.44,310.36 L218.61,310.14 L218.79,309.92 L218.96,309.70 L219.14,309.49 L219.31,309.27 L219.49,309.06 L219.67,308.84 L219.85,308.63 L220.03,308.42 L220.22,308.21 L220.40,308.01 L220.59,307.80 L220.77,307.60 L220.96,307.40 L221.15,307.19 L221.34,306.99 L221.53,306.79 L221.72,306.60 L221.91,306.40 L222.11,306.20 L222.30,306.01 L222.50,305.81 L222.70,305.62 L222.89,305.43 L223.09,305.24 L223.29,305.05 L223.49,304.86 L223.70,304.67 L223.90,304.48 L224.10,304.29 L224.31,304.10 L224.51,303.92 L224.72,303.73 L224.92,303.55 L225.13,303.36 L225.34,303.18 L225.55,302.99 L225.76,302.81 L225.97,302.63 L226.18,302.45 L226.39,302.26 L226.60,302.08 L226.82,301.90 L227.03,301.72 L227.24,301.54 L227.46,301.36 L227.67,301.18 L227.89,301.00 L228.11,300.81 L228.32,300.63 L228.54,300.45 L228.76,300.27 L228.98,300.09 L229.19,299.91 L229.41,299.73 L229.63,299.55 L229.85,299.36 L230.07,299.18 L230.29,299.00 L230.51,298.82 L230.73,298.63 L230.96,298.45 L231.18,298.27 L231.40,298.08 L231.62,297.90 L231.84,297.71 L232.07,297.53 L232.29,297.34 L232.51,297.15 L232.74,296.96 L232.96,296.77 L233.18,296.59 L233.41,296.39 L233.63,296.20 L233.85,296.01 L234.08,295.82 L234.30,295.62 L234.53,295.43 L234.75,295.23 L234.97,295.04 L235.20,294.84 L235.42,294.64 L235.64,294.44 L235.87,294.24 L236.09,294.04 L236.32,293.83 L236.54,293.63 L236.76,293.42 L236.98,293.21 L237.21,293.00 L237.43,292.79 L237.65,292.58 L237.87,292.37 L238.10,292.16 L238.32,291.95 L238.54,291.74 L238.76,291.53 L238.99,291.32 L239.21,291.11 L239.43,290.91 L239.66,290.70 L239.88,290.50 L240.10,290.31 L240.33,290.11 L240.55,289.92 L240.78,289.74 L241.01,289.55 L241.23,289.38 L241.46,289.20 L241.69,289.04 L241.92,288.87 L242.15,288.72 L242.38,288.57 L242.61,288.42 L242.84,288.29 L243.07,288.16 L243.31,288.04 L243.54,287.92 L243.78,287.82 L244.01,287.72 L244.25,287.63 L244.49,287.56 L244.73,287.49 L244.97,287.43 L245.22,287.38 L245.46,287.34 L245.71,287.31 L245.95,287.30 L246.20,287.29 L246.45,287.30 L246.70,287.31 L246.96,287.34 L247.21,287.38 L247.46,287.43 L247.72,287.49 L247.97,287.56 L248.23,287.63 L248.48,287.72 L248.73,287.82 L248.99,287.92 L249.24,288.04 L249.49,288.16 L249.75,288.29 L250.00,288.43 L250.25,288.57 L250.49,288.72 L250.74,288.88 L250.98,289.05 L251.23,289.22 L251.47,289.40 L251.71,289.59 L251.94,289.78 L252.18,289.98 L252.41,290.18 L252.63,290.39 L252.86,290.60 L253.08,290.82 L253.30,291.04 L253.51,291.27 L253.72,291.50 L253.93,291.73 L254.14,291.97 L254.34,292.21 L254.54,292.45 L254.74,292.69 L254.94,292.94 L255.13,293.19 L255.32,293.44 L255.51,293.69 L255.70,293.94 L255.89,294.19 L256.07,294.44 L256.26,294.70 L256.44,294.95 L256.62,295.20 L256.81,295.45 L256.99,295.70 L257.17,295.95 L257.35,296.19 L257.53,296.43 L257.71,296.67 L257.89,296.91 L258.07,297.15 L258.25,297.38 L258.43,297.60 L258.62,297.83 L258.80,298.05 L258.99,298.26 L259.17,298.47 L259.36,298.67 L259.55,298.87 L259.74,299.07 L259.94,299.25 L260.13,299.43 L260.33,299.61 L260.53,299.77 L260.73,299.93 L260.94,300.08 L261.14,300.22 L261.36,300.36 L261.57,300.49 L261.79,300.60 L262.01,300.71 L262.23,300.81 L262.46,300.90 L262.69,300.98 L262.93,301.05 L263.17,301.10 L263.41,301.15 L263.66,301.18 L263.91,301.21 L264.17,301.22 L264.43,301.23 L264.70,301.23 L264.97,301.21 L265.24,301.19 L265.51,301.16 L265.79,301.13 L266.07,301.08 L266.35,301.04 L266.64,300.98 L266.93,300.92 L267.21,300.86 L267.51,300.79 L267.80,300.72 L268.09,300.64 L268.39,300.56 L268.68,300.48 L268.98,300.40 L269.28,300.31 L269.57,300.22 L269.87,300.14 L270.17,300.05 L270.47,299.97 L270.77,299.88 L271.06,299.80 L271.36,299.72 L271.66,299.64 L271.95,299.56 L272.24,299.49 L272.54,299.41 L272.83,299.34 L273.12,299.27 L273.41,299.20 L273.69,299.14 L273.98,299.07 L274.27,299.00 L274.55,298.93 L274.83,298.86 L275.11,298.80 L275.39,298.73 L275.67,298.66 L275.95,298.59 L276.22,298.51 L276.49,298.44 L276.76,298.36 L277.03,298.29 L277.30,298.21 L277.57,298.12 L277.83,298.04 L278.09,297.95 L278.35,297.86 L278.61,297.76 L278.86,297.66 L279.12,297.56 L279.37,297.45 L279.61,297.34 L279.86,297.22 L280.10,297.10 L280.35,296.97 L280.59,296.85 L280.82,296.71 L281.06,296.58 L281.29,296.44 L281.53,296.29 L281.76,296.15 L281.98,296.00 L282.21,295.84 L282.44,295.69 L282.66,295.53 L282.88,295.36 L283.10,295.20 L283.32,295.03 L283.54,294.86 L283.76,294.68 L283.97,294.50 L284.19,294.32 L284.40,294.14 L284.61,293.96 L284.83,293.77 L285.04,293.58 L285.24,293.39 L285.45,293.20 L285.66,293.01 L285.87,292.81 L286.07,292.61 L286.28,292.41 L286.48,292.21 L286.69,292.01 L286.89,291.81 L287.10,291.60 L287.30,291.40 L287.50,291.19 L287.70,290.98 L287.90,290.77 L288.11,290.56 L288.31,290.35 L288.51,290.14 L288.71,289.93 L288.91,289.72 L289.11,289.50 L289.31,289.29 L289.51,289.08 L289.71,288.86 L289.91,288.65 L290.11,288.44 L290.31,288.22 L290.52,288.01 L290.72,287.79 L290.92,287.58 L291.12,287.37 L291.32,287.16 L291.52,286.95 L291.72,286.73 L291.93,286.52 L292.13,286.31 L292.33,286.11 L292.54,285.90 L292.74,285.69 L292.95,285.48 L293.15,285.28 L293.36,285.08 L293.57,284.87 L293.77,284.67 L293.98,284.48 L294.19,284.28 L294.40,284.08 L294.61,283.89 L294.82,283.70 L295.04,283.50 L295.25,283.32 L295.47,283.13 L295.68,282.95 L295.90,282.76 L296.11,282.58 L296.33,282.41 L296.55,282.23 L296.77,282.06 L297.00,281.89 L297.22,281.72 L297.44,281.56 L297.67,281.40 L297.90,281.24 L298.13,281.08 L298.36,280.93 L298.59,280.78 L298.82,280.63 L299.06,280.49 L299.29,280.35 L299.53,280.22 L299.77,280.08 L300.01,279.96 L300.25,279.83 L300.50,279.71 L300.75,279.59 L300.99,279.48 L301.24,279.37 L301.50,279.27 L301.75,279.16 L302.01,279.07 L302.26,278.98 L302.52,278.89 L302.78,278.81 L303.05,278.73 L303.31,278.65 L303.58,278.58 L303.85,278.52 L304.13,278.46 L304.40,278.41 L304.68,278.36 L304.96,278.31 L305.24,278.27 L305.52,278.23 L305.80,278.20 L306.09,278.17 L306.38,278.14 L306.67,278.12 L306.96,278.11 L307.25,278.09 L307.54,278.08 L307.83,278.07 L308.13,278.07 L308.43,278.07 L308.72,278.07 L309.02,278.07 L309.32,278.08 L309.62,278.09 L309.92,278.10 L310.23,278.11 L310.53,278.13 L310.83,278.14 L311.13,278.16 L311.44,278.18 L311.74,278.21 L312.04,278.23 L312.35,278.25 L312.65,278.28 L312.96,278.31 L313.26,278.34 L313.56,278.37 L313.87,278.39 L314.17,278.43 L314.48,278.46 L314.78,278.49 L315.08,278.52 L315.38,278.55 L315.68,278.58 L315.98,278.61 L316.28,278.64 L316.58,278.67 L316.88,278.70 L317.17,278.73 L317.47,278.76 L317.76,278.78 L318.06,278.81 L318.35,278.83 L318.64,278.86 L318.93,278.88 L319.21,278.90 L319.50,278.92 L319.78,278.93 L320.07,278.95 L320.35,278.96 L320.62,278.97 L320.90,278.98 L321.17,278.98 L321.45,278.98 L321.72,278.98 L321.98,278.98 L322.25,278.97 L322.51,278.96 L322.77,278.95 L323.03,278.93 L323.29,278.92 L323.54,278.89" stroke="#0000ff" stroke-width="2.5" fill="none" stroke-linecap="square" stroke-linejoin="round" clip-path="url(#c4)"/>
<rect x="25.50" y="275.40" width="312.50" height="84.50" fill="none" stroke="#333333" stroke-width="1.0"/>
<path d="M36.45,359.90v2.6 M72.33,359.90v2.6 M108.20,359.90v2.6 M144.07,359.90v2.6 M179.95,359.90v2.6 M215.82,359.90v2.6 M251.70,359.90v2.6 M287.57,359.90v2.6 M323.45,359.90v2.6 M25.50,343.80h-2.6 M25.50,325.60h-2.6 M25.50,307.40h-2.6 M25.50,289.20h-2.6" stroke="#262626" stroke-width="0.9" fill="none"/>
<text transform="translate(36.45,370.70) scale(0.87,1)" class="tk" text-anchor="middle">0</text>
<text transform="translate(72.33,370.70) scale(0.87,1)" class="tk" text-anchor="middle">2500</text>
<text transform="translate(108.20,370.70) scale(0.87,1)" class="tk" text-anchor="middle">5000</text>
<text transform="translate(144.07,370.70) scale(0.87,1)" class="tk" text-anchor="middle">7500</text>
<text transform="translate(179.95,370.70) scale(0.87,1)" class="tk" text-anchor="middle">10000</text>
<text transform="translate(215.82,370.70) scale(0.87,1)" class="tk" text-anchor="middle">12500</text>
<text transform="translate(251.70,370.70) scale(0.87,1)" class="tk" text-anchor="middle">15000</text>
<text transform="translate(287.57,370.70) scale(0.87,1)" class="tk" text-anchor="middle">17500</text>
<text transform="translate(323.45,370.70) scale(0.87,1)" class="tk" text-anchor="middle">20000</text>
<text transform="translate(19.90,347.00) scale(0.87,1)" class="tk" text-anchor="end">40</text>
<text transform="translate(19.90,328.80) scale(0.87,1)" class="tk" text-anchor="end">50</text>
<text transform="translate(19.90,310.60) scale(0.87,1)" class="tk" text-anchor="end">60</text>
<text transform="translate(19.90,292.40) scale(0.87,1)" class="tk" text-anchor="end">70</text>
<text x="181.75" y="270.70" class="ti" text-anchor="middle" textLength="108.80" lengthAdjust="spacingAndGlyphs">Magnitude Respons 013-L</text>
<text x="181.75" y="381.70" class="xl" text-anchor="middle" textLength="52.60" lengthAdjust="spacingAndGlyphs">Frequency (Hz)</text>
<text transform="translate(5.90,318.15) rotate(-90)" class="yl" text-anchor="middle" textLength="59.40" lengthAdjust="spacingAndGlyphs">Magnitude (dB)</text>
<text x="108.80" y="300.30" class="lb" text-anchor="middle">P1</text>
<text x="160.10" y="309.50" class="lb" text-anchor="middle">N1</text>
<text x="186.90" y="305.00" class="lb" text-anchor="middle">P2</text>
<text x="221.90" y="354.20" class="lb" text-anchor="middle">N2</text>
<text x="247.30" y="302.60" class="lb" text-anchor="middle">P3</text>
<text x="265.60" y="316.20" class="lb" text-anchor="middle">N3</text>
<text x="306.85" y="292.50" class="lb" text-anchor="middle">P4</text>
<path d="M382.40,275.40V359.90 M418.28,275.40V359.90 M454.16,275.40V359.90 M490.04,275.40V359.90 M525.92,275.40V359.90 M561.81,275.40V359.90 M597.69,275.40V359.90 M633.57,275.40V359.90 M669.45,275.40V359.90 M371.00,357.50H683.50 M371.00,334.30H683.50 M371.00,311.30H683.50 M371.00,288.20H683.50" stroke="#c4c4c4" stroke-width="0.9" fill="none"/>
<clipPath id="c5"><rect x="371.00" y="275.40" width="312.50" height="84.50"/></clipPath>
<path d="M385.40,315.25 L385.69,315.22 L385.98,315.18 L386.28,315.14 L386.57,315.10 L386.86,315.05 L387.15,315.01 L387.44,314.96 L387.73,314.91 L388.02,314.86 L388.31,314.81 L388.60,314.76 L388.89,314.70 L389.18,314.65 L389.47,314.59 L389.75,314.53 L390.04,314.46 L390.33,314.40 L390.61,314.34 L390.90,314.27 L391.18,314.20 L391.46,314.13 L391.75,314.06 L392.03,313.99 L392.31,313.91 L392.59,313.84 L392.88,313.76 L393.16,313.68 L393.44,313.60 L393.72,313.52 L394.00,313.44 L394.28,313.35 L394.56,313.27 L394.83,313.18 L395.11,313.09 L395.39,313.00 L395.67,312.91 L395.94,312.82 L396.22,312.72 L396.50,312.63 L396.77,312.53 L397.05,312.43 L397.32,312.34 L397.60,312.24 L397.87,312.13 L398.14,312.03 L398.42,311.93 L398.69,311.82 L398.96,311.72 L399.23,311.61 L399.51,311.50 L399.78,311.39 L400.05,311.28 L400.32,311.17 L400.59,311.06 L400.86,310.94 L401.13,310.83 L401.40,310.71 L401.67,310.60 L401.94,310.48 L402.21,310.36 L402.47,310.24 L402.74,310.12 L403.01,310.00 L403.28,309.88 L403.54,309.75 L403.81,309.63 L404.08,309.51 L404.34,309.38 L404.61,309.25 L404.88,309.13 L405.14,309.00 L405.41,308.87 L405.67,308.74 L405.94,308.61 L406.20,308.48 L406.46,308.35 L406.73,308.21 L406.99,308.08 L407.26,307.95 L407.52,307.81 L407.78,307.67 L408.05,307.54 L408.31,307.40 L408.57,307.26 L408.83,307.13 L409.09,306.99 L409.36,306.85 L409.62,306.71 L409.88,306.57 L410.14,306.43 L410.40,306.29 L410.66,306.15 L410.92,306.00 L411.18,305.86 L411.45,305.72 L411.71,305.58 L411.97,305.43 L412.23,305.29 L412.49,305.14 L412.75,305.00 L413.01,304.85 L413.27,304.71 L413.52,304.56 L413.78,304.41 L414.04,304.27 L414.30,304.12 L414.56,303.97 L414.82,303.83 L415.08,303.68 L415.34,303.53 L415.60,303.38 L415.86,303.23 L416.11,303.09 L416.37,302.94 L416.63,302.79 L416.89,302.64 L417.15,302.49 L417.41,302.34 L417.66,302.19 L417.92,302.04 L418.18,301.89 L418.44,301.74 L418.70,301.59 L418.95,301.44 L419.21,301.29 L419.47,301.15 L419.73,301.00 L419.99,300.85 L420.24,300.70 L420.50,300.55 L420.76,300.40 L421.02,300.25 L421.28,300.10 L421.53,299.95 L421.79,299.80 L422.05,299.66 L422.31,299.51 L422.57,299.36 L422.82,299.21 L423.08,299.06 L423.34,298.92 L423.60,298.77 L423.86,298.62 L424.12,298.48 L424.37,298.33 L424.63,298.18 L424.89,298.04 L425.15,297.89 L425.41,297.75 L425.67,297.60 L425.93,297.46 L426.18,297.31 L426.44,297.17 L426.70,297.03 L426.96,296.89 L427.22,296.74 L427.48,296.60 L427.74,296.46 L428.00,296.32 L428.26,296.18 L428.52,296.04 L428.78,295.90 L429.04,295.76 L429.30,295.63 L429.56,295.49 L429.82,295.35 L430.08,295.22 L430.35,295.08 L430.61,294.95 L430.87,294.81 L431.13,294.68 L431.39,294.55 L431.65,294.42 L431.92,294.28 L432.18,294.15 L432.44,294.02 L432.70,293.90 L432.97,293.77 L433.23,293.64 L433.49,293.51 L433.76,293.39 L434.02,293.26 L434.29,293.14 L434.55,293.02 L434.82,292.90 L435.08,292.77 L435.35,292.65 L435.61,292.53 L435.88,292.42 L436.14,292.30 L436.41,292.18 L436.68,292.07 L436.94,291.95 L437.21,291.84 L437.48,291.73 L437.74,291.62 L438.01,291.51 L438.28,291.40 L438.55,291.29 L438.82,291.18 L439.09,291.08 L439.36,290.97 L439.63,290.87 L439.90,290.77 L440.17,290.67 L440.44,290.57 L440.71,290.47 L440.98,290.37 L441.25,290.27 L441.52,290.18 L441.80,290.09 L442.07,289.99 L442.34,289.90 L442.62,289.81 L442.89,289.72 L443.16,289.64 L443.44,289.55 L443.71,289.47 L443.99,289.39 L444.27,289.30 L444.54,289.22 L444.82,289.15 L445.10,289.07 L445.37,288.99 L445.65,288.92 L445.93,288.85 L446.21,288.78 L446.49,288.71 L446.77,288.64 L447.05,288.57 L447.33,288.51 L447.61,288.44 L447.89,288.38 L448.17,288.32 L448.45,288.27 L448.74,288.21 L449.02,288.15 L449.30,288.10 L449.59,288.05 L449.87,288.00 L450.16,287.95 L450.44,287.91 L450.73,287.86 L451.01,287.82 L451.30,287.78 L451.59,287.75 L451.87,287.71 L452.16,287.68 L452.45,287.65 L452.74,287.62 L453.03,287.59 L453.31,287.57 L453.60,287.55 L453.89,287.53 L454.18,287.51 L454.47,287.50 L454.76,287.49 L455.05,287.48 L455.34,287.48 L455.63,287.48 L455.92,287.48 L456.21,287.48 L456.50,287.49 L456.79,287.49 L457.08,287.51 L457.37,287.52 L457.66,287.54 L457.95,287.56 L458.24,287.59 L458.53,287.61 L458.83,287.65 L459.12,287.68 L459.41,287.72 L459.70,287.76 L459.99,287.80 L460.28,287.85 L460.57,287.91 L460.86,287.96 L461.15,288.02 L461.44,288.08 L461.73,288.15 L462.02,288.22 L462.31,288.29 L462.60,288.37 L462.89,288.44 L463.18,288.52 L463.47,288.61 L463.76,288.69 L464.05,288.77 L464.34,288.86 L464.63,288.95 L464.92,289.04 L465.21,289.13 L465.50,289.22 L465.79,289.31 L466.08,289.40 L466.37,289.49 L466.66,289.58 L466.94,289.67 L467.23,289.75 L467.52,289.84 L467.81,289.93 L468.10,290.01 L468.39,290.09 L468.68,290.17 L468.96,290.25 L469.25,290.33 L469.54,290.40 L469.83,290.47 L470.12,290.54 L470.41,290.60 L470.69,290.66 L470.98,290.72 L471.27,290.77 L471.56,290.83 L471.84,290.87 L472.13,290.92 L472.42,290.96 L472.71,291.00 L472.99,291.04 L473.28,291.08 L473.57,291.11 L473.86,291.14 L474.14,291.17 L474.43,291.20 L474.72,291.22 L475.01,291.24 L475.30,291.26 L475.58,291.28 L475.87,291.30 L476.16,291.31 L476.45,291.33 L476.73,291.34 L477.02,291.35 L477.31,291.36 L477.60,291.37 L477.89,291.37 L478.17,291.38 L478.46,291.38 L478.75,291.39 L479.04,291.39 L479.33,291.39 L479.61,291.39 L479.90,291.39 L480.19,291.39 L480.48,291.39 L480.77,291.39 L481.06,291.39 L481.35,291.39 L481.64,291.39 L481.93,291.38 L482.22,291.38 L482.51,291.38 L482.80,291.38 L483.09,291.38 L483.38,291.38 L483.67,291.37 L483.96,291.37 L484.25,291.37 L484.54,291.37 L484.83,291.37 L485.12,291.38 L485.41,291.38 L485.70,291.38 L486.00,291.39 L486.29,291.39 L486.58,291.40 L486.87,291.41 L487.17,291.42 L487.46,291.43 L487.75,291.44 L488.05,291.45 L488.34,291.47 L488.63,291.48 L488.93,291.50 L489.22,291.52 L489.52,291.55 L489.81,291.57 L490.11,291.60 L490.40,291.62 L490.70,291.66 L491.00,291.69 L491.29,291.72 L491.59,291.76 L491.89,291.80 L492.18,291.84 L492.48,291.88 L492.78,291.92 L493.08,291.96 L493.37,292.01 L493.67,292.06 L493.97,292.10 L494.27,292.15 L494.57,292.20 L494.86,292.25 L495.16,292.30 L495.46,292.36 L495.76,292.41 L496.06,292.46 L496.36,292.51 L496.65,292.57 L496.95,292.62 L497.25,292.68 L497.55,292.73 L497.85,292.78 L498.15,292.84 L498.44,292.89 L498.74,292.94 L499.04,293.00 L499.34,293.05 L499.63,293.10 L499.93,293.15 L500.23,293.20 L500.52,293.25 L500.82,293.30 L501.12,293.35 L501.41,293.40 L501.71,293.44 L502.00,293.49 L502.30,293.53 L502.59,293.57 L502.88,293.61 L503.18,293.65 L503.47,293.69 L503.76,293.72 L504.06,293.75 L504.35,293.79 L504.64,293.81 L504.93,293.84 L505.22,293.87 L505.51,293.89 L505.80,293.91 L506.09,293.92 L506.38,293.94 L506.67,293.95 L506.96,293.96 L507.24,293.97 L507.53,293.97 L507.81,293.97 L508.10,293.97 L508.38,293.96 L508.67,293.95 L508.95,293.94 L509.23,293.92 L509.52,293.90 L509.80,293.88 L510.08,293.85 L510.36,293.82 L510.63,293.79 L510.91,293.75 L511.19,293.71 L511.47,293.66 L511.74,293.61 L512.02,293.55 L512.29,293.50 L512.56,293.44 L512.84,293.37 L513.11,293.30 L513.38,293.23 L513.65,293.16 L513.92,293.08 L514.19,293.00 L514.46,292.91 L514.73,292.82 L515.00,292.73 L515.27,292.64 L515.53,292.54 L515.80,292.44 L516.06,292.33 L516.33,292.23 L516.59,292.12 L516.86,292.01 L517.12,291.89 L517.39,291.77 L517.65,291.65 L517.91,291.53 L518.17,291.41 L518.43,291.28 L518.70,291.15 L518.96,291.02 L519.22,290.88 L519.48,290.75 L519.74,290.61 L520.00,290.47 L520.26,290.32 L520.51,290.18 L520.77,290.03 L521.03,289.88 L521.29,289.73 L521.55,289.58 L521.80,289.43 L522.06,289.27 L522.32,289.11 L522.58,288.95 L522.83,288.79 L523.09,288.63 L523.34,288.47 L523.60,288.30 L523.86,288.13 L524.11,287.97 L524.37,287.80 L524.62,287.63 L524.88,287.46 L525.14,287.28 L525.39,287.11 L525.65,286.94 L525.90,286.76 L526.16,286.59 L526.41,286.41 L526.67,286.23 L526.92,286.05 L527.18,285.87 L527.44,285.69 L527.69,285.51 L527.95,285.33 L528.20,285.15 L528.46,284.97 L528.71,284.79 L528.97,284.61 L529.23,284.43 L529.48,284.24 L529.74,284.06 L530.00,283.88 L530.25,283.70 L530.51,283.52 L530.77,283.33 L531.03,283.15 L531.28,282.97 L531.54,282.79 L531.80,282.62 L532.06,282.44 L532.31,282.27 L532.57,282.10 L532.83,281.93 L533.08,281.77 L533.34,281.61 L533.59,281.45 L533.85,281.30 L534.10,281.15 L534.36,281.01 L534.61,280.87 L534.86,280.74 L535.11,280.62 L535.36,280.50 L535.61,280.38 L535.86,280.28 L536.11,280.18 L536.36,280.09 L536.60,280.00 L536.85,279.93 L537.09,279.86 L537.33,279.80 L537.57,279.76 L537.81,279.72 L538.05,279.69 L538.29,279.67 L538.52,279.66 L538.75,279.66 L538.99,279.67 L539.22,279.70 L539.44,279.73 L539.67,279.78 L539.89,279.84 L540.12,279.91 L540.34,280.00 L540.56,280.09 L540.77,280.20 L540.99,280.31 L541.20,280.44 L541.42,280.58 L541.63,280.72 L541.84,280.88 L542.05,281.04 L542.26,281.21 L542.47,281.39 L542.68,281.58 L542.88,281.77 L543.09,281.97 L543.30,282.17 L543.50,282.38 L543.71,282.60 L543.91,282.82 L544.12,283.05 L544.32,283.27 L544.53,283.51 L544.73,283.74 L544.94,283.98 L545.14,284.22 L545.35,284.47 L545.56,284.71 L545.76,284.96 L545.97,285.20 L546.18,285.45 L546.39,285.70 L546.60,285.94 L546.81,286.19 L547.03,286.44 L547.24,286.68 L547.45,286.92 L547.67,287.16 L547.89,287.40 L548.11,287.64 L548.33,287.87 L548.55,288.11 L548.77,288.34 L548.99,288.57 L549.21,288.80 L549.44,289.03 L549.66,289.25 L549.89,289.47 L550.12,289.69 L550.35,289.91 L550.58,290.13 L550.81,290.34 L551.04,290.55 L551.27,290.76 L551.51,290.97 L551.74,291.17 L551.98,291.37 L552.22,291.57 L552.45,291.77 L552.69,291.96 L552.93,292.15 L553.17,292.33 L553.42,292.52 L553.66,292.70 L553.90,292.87 L554.15,293.05 L554.39,293.22 L554.64,293.39 L554.88,293.55 L555.13,293.71 L555.38,293.87 L555.63,294.02 L555.88,294.17 L556.13,294.31 L556.39,294.45 L556.64,294.59 L556.89,294.72 L557.15,294.85 L557.40,294.98 L557.66,295.10 L557.92,295.21 L558.17,295.33 L558.43,295.43 L558.69,295.54 L558.95,295.64 L559.21,295.73 L559.48,295.82 L559.74,295.90 L560.00,295.98 L560.27,296.06 L560.53,296.13 L560.80,296.19 L561.06,296.25 L561.33,296.31 L561.60,296.36 L561.87,296.40 L562.14,296.44 L562.41,296.47 L562.68,296.50 L562.95,296.52 L563.22,296.54 L563.49,296.55 L563.77,296.56 L564.04,296.56 L564.32,296.56 L564.59,296.55 L564.87,296.54 L565.14,296.52 L565.42,296.50 L565.70,296.48 L565.97,296.45 L566.25,296.42 L566.53,296.38 L566.81,296.34 L567.09,296.29 L567.37,296.24 L567.65,296.19 L567.93,296.14 L568.21,296.08 L568.50,296.01 L568.78,295.95 L569.06,295.88 L569.34,295.81 L569.63,295.73 L569.91,295.66 L570.19,295.58 L570.48,295.50 L570.76,295.41 L571.05,295.32 L571.33,295.24 L571.62,295.15 L571.90,295.05 L572.19,294.96 L572.48,294.86 L572.76,294.76 L573.05,294.66 L573.34,294.56 L573.62,294.46 L573.91,294.36 L574.20,294.25 L574.48,294.15 L574.77,294.04 L575.06,293.93 L575.35,293.83 L575.63,293.72 L575.92,293.61 L576.21,293.50 L576.50,293.39 L576.78,293.28 L577.07,293.17 L577.36,293.06 L577.65,292.95 L577.93,292.84 L578.22,292.74 L578.51,292.63 L578.80,292.52 L579.08,292.41 L579.37,292.31 L579.66,292.20 L579.95,292.10 L580.23,292.00 L580.52,291.89 L580.81,291.79 L581.09,291.70 L581.38,291.60 L581.66,291.50 L581.95,291.41 L582.23,291.32 L582.52,291.23 L582.80,291.14 L583.09,291.06 L583.37,290.97 L583.66,290.89 L583.94,290.81 L584.22,290.74 L584.51,290.67 L584.79,290.60 L585.07,290.53 L585.35,290.47 L585.63,290.41 L585.91,290.36 L586.19,290.32 L586.46,290.28 L586.74,290.25 L587.01,290.24 L587.27,290.23 L587.54,290.23 L587.80,290.24 L588.06,290.27 L588.31,290.30 L588.57,290.36 L588.81,290.42 L589.05,290.50 L589.29,290.60 L589.53,290.71 L589.76,290.84 L589.98,290.97 L590.20,291.13 L590.42,291.29 L590.63,291.47 L590.84,291.65 L591.04,291.85 L591.24,292.06 L591.44,292.27 L591.63,292.49 L591.82,292.72 L592.01,292.96 L592.19,293.20 L592.37,293.45 L592.54,293.70 L592.71,293.96 L592.88,294.22 L593.05,294.48 L593.21,294.75 L593.37,295.01 L593.52,295.28 L593.68,295.54 L593.83,295.81 L593.97,296.08 L594.12,296.34 L594.26,296.61 L594.40,296.88 L594.53,297.15 L594.67,297.42 L594.80,297.69 L594.93,297.96 L595.05,298.24 L595.18,298.51 L595.30,298.78 L595.42,299.06 L595.53,299.33 L595.65,299.61 L595.76,299.88 L595.87,300.16 L595.98,300.43 L596.08,300.71 L596.19,300.99 L596.29,301.26 L596.39,301.54 L596.49,301.82 L596.59,302.10 L596.68,302.38 L596.78,302.66 L596.87,302.94 L596.96,303.22 L597.05,303.50 L597.14,303.78 L597.22,304.06 L597.31,304.34 L597.39,304.62 L597.47,304.91 L597.55,305.19 L597.63,305.47 L597.71,305.75 L597.79,306.04 L597.87,306.32 L597.94,306.60 L598.02,306.89 L598.09,307.17 L598.16,307.46 L598.24,307.74 L598.31,308.03 L598.38,308.31 L598.45,308.60 L598.52,308.88 L598.59,309.17 L598.66,309.45 L598.73,309.74 L598.79,310.02 L598.86,310.31 L598.93,310.59 L598.99,310.88 L599.06,311.17 L599.13,311.45 L599.19,311.74 L599.25,312.03 L599.32,312.31 L599.38,312.60 L599.44,312.89 L599.50,313.17 L599.57,313.46 L599.63,313.75 L599.69,314.04 L599.75,314.32 L599.81,314.61 L599.86,314.90 L599.92,315.19 L599.98,315.47 L600.04,315.76 L600.09,316.05 L600.15,316.34 L600.21,316.63 L600.26,316.92 L600.31,317.21 L600.37,317.49 L600.42,317.78 L600.48,318.07 L600.53,318.36 L600.58,318.65 L600.63,318.94 L600.68,319.23 L600.73,319.52 L600.78,319.81 L600.83,320.10 L600.88,320.39 L600.93,320.68 L600.98,320.97 L601.02,321.26 L601.07,321.55 L601.12,321.84 L601.16,322.13 L601.21,322.42 L601.25,322.71 L601.30,323.00 L601.34,323.29 L601.38,323.58 L601.43,323.88 L601.47,324.17 L601.51,324.46 L601.55,324.75 L601.59,325.04 L601.63,325.33 L601.67,325.62 L601.71,325.92 L601.75,326.21 L601.79,326.50 L601.83,326.79 L601.87,327.08 L601.90,327.38 L601.94,327.67 L601.97,327.96 L602.01,328.25 L602.05,328.54 L602.08,328.84 L602.11,329.13 L602.15,329.42 L602.18,329.71 L602.21,330.01 L602.25,330.30 L602.28,330.59 L602.31,330.89 L602.34,331.18 L602.37,331.47 L602.40,331.77 L602.43,332.06 L602.46,332.35 L602.49,332.65 L602.51,332.94 L602.54,333.23 L602.57,333.53 L602.60,333.82 L602.62,334.11 L602.65,334.41 L602.67,334.70 L602.70,334.99 L602.72,335.29 L602.75,335.58 L602.77,335.88 L602.79,336.17 L602.82,336.46 L602.84,336.76 L602.86,337.05 L602.88,337.35 L602.90,337.64 L602.92,337.94 L602.94,338.23 L602.96,338.52 L602.98,338.82 L603.00,339.11 L603.02,339.41 L603.04,339.70 L603.05,340.00 L603.07,340.29 L603.09,340.59 L603.10,340.88 L603.12,341.17 L603.13,341.47 L603.15,341.76 L603.16,342.05 L603.17,342.35 L603.19,342.64 L603.20,342.93 L603.21,343.22 L603.22,343.52 L603.24,343.81 L603.25,344.10 L603.26,344.39 L603.27,344.68 L603.27,344.97 L603.28,345.26 L603.29,345.55 L603.30,345.84 L603.31,346.13 L603.31,346.42 L603.32,346.70 L603.32,346.99 L603.33,347.28 L603.33,347.56 L603.34,347.85 L603.34,348.13 L603.34,348.42 L603.35,348.70 L603.35,348.99 L603.35,349.28 L603.35,349.57 L603.35,349.87 L603.36,350.17 L603.36,350.47 L603.36,350.78 L603.36,351.10 L603.36,351.42 L603.37,351.75 L603.37,352.09 L603.37,352.44 L603.38,352.80 L603.38,353.16 L603.39,353.52 L603.40,353.87 L603.40,354.20 L603.41,354.49 L603.42,354.75 L603.43,354.95 L603.44,355.10 L603.45,355.17 L603.46,355.17 L603.47,355.09 L603.48,354.94 L603.50,354.74 L603.51,354.48 L603.52,354.18 L603.53,353.85 L603.54,353.50 L603.56,353.14 L603.57,352.78 L603.58,352.42 L603.58,352.07 L603.59,351.73 L603.60,351.40 L603.60,351.08 L603.61,350.76 L603.61,350.45 L603.62,350.14 L603.62,349.84 L603.63,349.54 L603.63,349.25 L603.64,348.96 L603.64,348.67 L603.65,348.38 L603.66,348.10 L603.67,347.81 L603.67,347.52 L603.68,347.24 L603.69,346.95 L603.71,346.66 L603.72,346.38 L603.73,346.09 L603.74,345.80 L603.76,345.51 L603.77,345.22 L603.79,344.93 L603.81,344.64 L603.82,344.35 L603.84,344.06 L603.86,343.77 L603.88,343.48 L603.90,343.19 L603.92,342.90 L603.94,342.61 L603.96,342.32 L603.99,342.03 L604.01,341.74 L604.03,341.45 L604.06,341.15 L604.08,340.86 L604.11,340.57 L604.13,340.28 L604.16,339.99 L604.19,339.69 L604.21,339.40 L604.24,339.11 L604.27,338.81 L604.30,338.52 L604.33,338.23 L604.35,337.94 L604.38,337.64 L604.41,337.35 L604.44,337.05 L604.47,336.76 L604.50,336.47 L604.53,336.17 L604.57,335.88 L604.60,335.59 L604.63,335.29 L604.66,335.00 L604.69,334.70 L604.72,334.41 L604.76,334.12 L604.79,333.82 L604.82,333.53 L604.85,333.23 L604.89,332.94 L604.92,332.65 L604.95,332.35 L604.98,332.06 L605.02,331.76 L605.05,331.47 L605.08,331.18 L605.11,330.88 L605.15,330.59 L605.18,330.29 L605.21,330.00 L605.24,329.71 L605.28,329.41 L605.31,329.12 L605.34,328.83 L605.37,328.53 L605.40,328.24 L605.44,327.95 L605.47,327.65 L605.50,327.36 L605.53,327.07 L605.56,326.78 L605.59,326.48 L605.62,326.19 L605.65,325.90 L605.68,325.61 L605.71,325.31 L605.75,325.02 L605.78,324.73 L605.81,324.44 L605.84,324.15 L605.87,323.86 L605.90,323.56 L605.93,323.27 L605.97,322.98 L606.00,322.69 L606.03,322.40 L606.07,322.11 L606.10,321.82 L606.14,321.53 L606.17,321.24 L606.21,320.95 L606.24,320.65 L606.28,320.36 L606.32,320.07 L606.35,319.78 L606.39,319.49 L606.43,319.20 L606.47,318.91 L606.51,318.62 L606.55,318.34 L606.60,318.05 L606.64,317.76 L606.68,317.47 L606.73,317.18 L606.78,316.89 L606.82,316.60 L606.87,316.31 L606.92,316.02 L606.97,315.73 L607.02,315.45 L607.08,315.16 L607.13,314.87 L607.19,314.58 L607.24,314.29 L607.30,314.01 L607.36,313.72 L607.42,313.43 L607.48,313.14 L607.54,312.85 L607.61,312.57 L607.67,312.28 L607.74,311.99 L607.81,311.71 L607.88,311.42 L607.96,311.13 L608.03,310.85 L608.10,310.56 L608.18,310.27 L608.26,309.99 L608.34,309.70 L608.43,309.41 L608.51,309.13 L608.60,308.84 L608.68,308.56 L608.78,308.27 L608.87,307.98 L608.96,307.70 L609.06,307.41 L609.16,307.13 L609.26,306.84 L609.36,306.56 L609.46,306.28 L609.57,305.99 L609.67,305.71 L609.78,305.43 L609.90,305.15 L610.01,304.87 L610.12,304.58 L610.24,304.31 L610.36,304.03 L610.48,303.75 L610.61,303.47 L610.73,303.19 L610.86,302.92 L610.99,302.64 L611.12,302.37 L611.25,302.10 L611.38,301.83 L611.52,301.56 L611.66,301.29 L611.80,301.02 L611.94,300.75 L612.08,300.49 L612.23,300.23 L612.37,299.96 L612.52,299.70 L612.68,299.44 L612.83,299.19 L612.98,298.93 L613.14,298.67 L613.30,298.42 L613.46,298.17 L613.62,297.92 L613.79,297.67 L613.95,297.43 L614.12,297.18 L614.29,296.94 L614.46,296.70 L614.63,296.47 L614.81,296.23 L614.99,296.00 L615.16,295.77 L615.34,295.54 L615.53,295.31 L615.71,295.08 L615.90,294.86 L616.09,294.64 L616.28,294.43 L616.47,294.21 L616.66,294.00 L616.86,293.79 L617.05,293.58 L617.25,293.38 L617.45,293.18 L617.65,292.98 L617.86,292.78 L618.06,292.59 L618.27,292.40 L618.48,292.21 L618.69,292.02 L618.91,291.84 L619.12,291.66 L619.34,291.49 L619.56,291.32 L619.78,291.15 L620.00,290.98 L620.22,290.82 L620.45,290.66 L620.67,290.50 L620.90,290.35 L621.13,290.20 L621.37,290.06 L621.60,289.91 L621.84,289.77 L622.08,289.64 L622.31,289.51 L622.56,289.38 L622.80,289.26 L623.04,289.14 L623.29,289.02 L623.54,288.91 L623.79,288.80 L624.04,288.70 L624.29,288.60 L624.55,288.50 L624.81,288.41 L625.06,288.32 L625.33,288.24 L625.59,288.16 L625.85,288.08 L626.12,288.01 L626.38,287.95 L626.65,287.88 L626.92,287.83 L627.20,287.77 L627.47,287.72 L627.74,287.68 L628.02,287.64 L628.30,287.60 L628.58,287.56 L628.86,287.53 L629.14,287.51 L629.43,287.48 L629.71,287.46 L630.00,287.44 L630.29,287.43 L630.58,287.42 L630.87,287.41 L631.16,287.40 L631.45,287.40 L631.74,287.40 L632.04,287.40 L632.33,287.40 L632.63,287.41 L632.92,287.41 L633.22,287.42 L633.52,287.43 L633.82,287.45 L634.12,287.46 L634.42,287.48 L634.72,287.49 L635.02,287.51 L635.33,287.53 L635.63,287.55 L635.93,287.57 L636.24,287.59 L636.54,287.61 L636.85,287.64 L637.15,287.66 L637.46,287.68 L637.76,287.71 L638.07,287.73 L638.38,287.76 L638.68,287.78 L638.99,287.81 L639.30,287.83 L639.60,287.85 L639.91,287.87 L640.22,287.90 L640.52,287.92 L640.83,287.94 L641.14,287.96 L641.44,287.98 L641.75,287.99 L642.05,288.01 L642.36,288.02 L642.66,288.04 L642.97,288.05 L643.27,288.06 L643.58,288.06 L643.88,288.07 L644.18,288.07 L644.49,288.08 L644.79,288.07 L645.09,288.07 L645.39,288.07 L645.69,288.06 L645.99,288.05 L646.29,288.03 L646.58,288.02 L646.88,288.00 L647.18,287.97 L647.47,287.95 L647.76,287.92 L648.06,287.88 L648.35,287.85 L648.64,287.81 L648.93,287.76 L649.22,287.71 L649.51,287.66 L649.79,287.60 L650.08,287.54 L650.36,287.48 L650.64,287.41 L650.92,287.33 L651.20,287.25 L651.48,287.17 L651.76,287.08 L652.03,286.99 L652.30,286.89 L652.58,286.79 L652.85,286.68 L653.12,286.57 L653.39,286.46 L653.66,286.34 L653.92,286.22 L654.19,286.10 L654.45,285.97 L654.72,285.84 L654.98,285.71 L655.24,285.57 L655.51,285.44 L655.77,285.30 L656.03,285.16 L656.29,285.01 L656.55,284.87 L656.81,284.72 L657.07,284.57 L657.33,284.42 L657.58,284.27 L657.84,284.12 L658.10,283.97 L658.36,283.82 L658.62,283.66 L658.87,283.51 L659.13,283.36 L659.39,283.20 L659.65,283.05 L659.91,282.90 L660.17,282.75 L660.43,282.60 L660.68,282.45 L660.94,282.30 L661.21,282.15 L661.47,282.00 L661.73,281.86 L661.99,281.72 L662.25,281.58 L662.52,281.44 L662.78,281.30 L663.05,281.17 L663.31,281.04 L663.58,280.91 L663.85,280.78 L664.12,280.66 L664.39,280.54 L664.66,280.43 L664.93,280.31 L665.21,280.21 L665.48,280.10 L665.76,280.00 L666.04,279.91 L666.32,279.82 L666.60,279.73 L666.88,279.65 L667.17,279.57 L667.45,279.50 L667.74,279.44 L668.03,279.38 L668.32,279.32 L668.62,279.27 L668.91,279.23 L669.21,279.19 L669.51,279.16" stroke="#0000ff" stroke-width="2.5" fill="none" stroke-linecap="square" stroke-linejoin="round" clip-path="url(#c5)"/>
<rect x="371.00" y="275.40" width="312.50" height="84.50" fill="none" stroke="#333333" stroke-width="1.0"/>
<path d="M382.40,359.90v2.6 M418.28,359.90v2.6 M454.16,359.90v2.6 M490.04,359.90v2.6 M525.92,359.90v2.6 M561.81,359.90v2.6 M597.69,359.90v2.6 M633.57,359.90v2.6 M669.45,359.90v2.6 M371.00,357.50h-2.6 M371.00,334.30h-2.6 M371.00,311.30h-2.6 M371.00,288.20h-2.6" stroke="#262626" stroke-width="0.9" fill="none"/>
<text transform="translate(382.40,370.70) scale(0.87,1)" class="tk" text-anchor="middle">0</text>
<text transform="translate(418.28,370.70) scale(0.87,1)" class="tk" text-anchor="middle">2500</text>
<text transform="translate(454.16,370.70) scale(0.87,1)" class="tk" text-anchor="middle">5000</text>
<text transform="translate(490.04,370.70) scale(0.87,1)" class="tk" text-anchor="middle">7500</text>
<text transform="translate(525.92,370.70) scale(0.87,1)" class="tk" text-anchor="middle">10000</text>
<text transform="translate(561.81,370.70) scale(0.87,1)" class="tk" text-anchor="middle">12500</text>
<text transform="translate(597.69,370.70) scale(0.87,1)" class="tk" text-anchor="middle">15000</text>
<text transform="translate(633.57,370.70) scale(0.87,1)" class="tk" text-anchor="middle">17500</text>
<text transform="translate(669.45,370.70) scale(0.87,1)" class="tk" text-anchor="middle">20000</text>
<text transform="translate(365.40,360.70) scale(0.87,1)" class="tk" text-anchor="end">40</text>
<text transform="translate(365.40,337.50) scale(0.87,1)" class="tk" text-anchor="end">50</text>
<text transform="translate(365.40,314.50) scale(0.87,1)" class="tk" text-anchor="end">60</text>
<text transform="translate(365.40,291.40) scale(0.87,1)" class="tk" text-anchor="end">70</text>
<text x="527.25" y="270.70" class="ti" text-anchor="middle" textLength="108.80" lengthAdjust="spacingAndGlyphs">Magnitude Respons 013-R</text>
<text x="527.25" y="381.70" class="xl" text-anchor="middle" textLength="52.60" lengthAdjust="spacingAndGlyphs">Frequency (Hz)</text>
<text transform="translate(351.40,318.15) rotate(-90)" class="yl" text-anchor="middle" textLength="59.40" lengthAdjust="spacingAndGlyphs">Magnitude (dB)</text>
<text x="453.35" y="301.50" class="lb" text-anchor="middle">P1</text>
<text x="507.10" y="309.90" class="lb" text-anchor="middle">N1</text>
<text x="537.50" y="297.40" class="lb" text-anchor="middle">P2</text>
<text x="561.90" y="312.20" class="lb" text-anchor="middle">N2</text>
<text x="585.80" y="304.30" class="lb" text-anchor="middle">P3</text>
<text x="616.55" y="354.30" class="lb" text-anchor="middle">N3</text>
<text x="631.75" y="300.80" class="lb" text-anchor="middle">P4</text>
</svg>
</body></html>
